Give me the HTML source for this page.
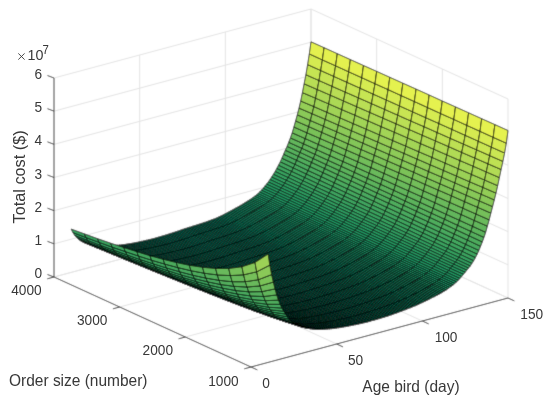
<!DOCTYPE html>
<html><head><meta charset="utf-8"><style>
html,body{margin:0;padding:0;background:#fff;}
svg{display:block;}
text{font-family:"Liberation Sans",sans-serif;fill:#383838;}
</style></head><body>
<svg width="550" height="404" viewBox="0 0 550 404">
<defs><filter id="bl" x="-10" y="-10" width="570" height="424" filterUnits="userSpaceOnUse"><feConvolveMatrix order="3" kernelMatrix="1 6 1 6 36 6 1 6 1" divisor="64" edgeMode="duplicate" preserveAlpha="false"/></filter></defs>
<g filter="url(#bl)">
<rect width="550" height="404" fill="#fff"/>
<g stroke="#e3e3e3" stroke-width="1.0">
<line x1="54.00" y1="277.00" x2="311.00" y2="208.00"/>
<line x1="311.00" y1="208.00" x2="508.00" y2="298.00"/>
<line x1="54.00" y1="243.83" x2="311.00" y2="174.83"/>
<line x1="311.00" y1="174.83" x2="508.00" y2="264.83"/>
<line x1="54.00" y1="210.67" x2="311.00" y2="141.67"/>
<line x1="311.00" y1="141.67" x2="508.00" y2="231.67"/>
<line x1="54.00" y1="177.50" x2="311.00" y2="108.50"/>
<line x1="311.00" y1="108.50" x2="508.00" y2="198.50"/>
<line x1="54.00" y1="144.33" x2="311.00" y2="75.33"/>
<line x1="311.00" y1="75.33" x2="508.00" y2="165.33"/>
<line x1="54.00" y1="111.17" x2="311.00" y2="42.17"/>
<line x1="311.00" y1="42.17" x2="508.00" y2="132.17"/>
<line x1="54.00" y1="78.00" x2="311.00" y2="9.00"/>
<line x1="311.00" y1="9.00" x2="508.00" y2="99.00"/>
<line x1="139.67" y1="254.00" x2="139.67" y2="55.00"/>
<line x1="336.67" y1="344.00" x2="139.67" y2="254.00"/>
<line x1="225.33" y1="231.00" x2="225.33" y2="32.00"/>
<line x1="422.33" y1="321.00" x2="225.33" y2="231.00"/>
<line x1="311.00" y1="208.00" x2="311.00" y2="9.00"/>
<line x1="508.00" y1="298.00" x2="311.00" y2="208.00"/>
<line x1="442.33" y1="268.00" x2="442.33" y2="69.00"/>
<line x1="376.67" y1="238.00" x2="376.67" y2="39.00"/>
<line x1="311.00" y1="208.00" x2="311.00" y2="9.00"/>
<line x1="508.00" y1="298.00" x2="508.00" y2="99.00"/>
<line x1="185.33" y1="337.00" x2="442.33" y2="268.00"/>
<line x1="119.67" y1="307.00" x2="376.67" y2="238.00"/>
<line x1="54.00" y1="277.00" x2="311.00" y2="208.00"/>
</g>
<g stroke="#3c3c3c" stroke-width="1.0" stroke-linecap="butt">
<line x1="54.00" y1="277.00" x2="54.00" y2="78.00"/>
<line x1="54.00" y1="277.00" x2="251.00" y2="367.00"/>
<line x1="251.00" y1="367.00" x2="508.00" y2="298.00"/>
<line x1="54.00" y1="277.00" x2="47.46" y2="274.51"/>
<line x1="54.00" y1="243.83" x2="47.46" y2="241.34"/>
<line x1="54.00" y1="210.67" x2="47.46" y2="208.17"/>
<line x1="54.00" y1="177.50" x2="47.46" y2="175.01"/>
<line x1="54.00" y1="144.33" x2="47.46" y2="141.84"/>
<line x1="54.00" y1="111.17" x2="47.46" y2="108.67"/>
<line x1="54.00" y1="78.00" x2="47.46" y2="75.51"/>
<line x1="251.00" y1="367.00" x2="244.24" y2="368.82"/>
<line x1="185.33" y1="337.00" x2="178.57" y2="338.82"/>
<line x1="119.67" y1="307.00" x2="112.91" y2="308.82"/>
<line x1="54.00" y1="277.00" x2="47.24" y2="278.82"/>
<line x1="251.00" y1="367.00" x2="257.37" y2="369.91"/>
<line x1="336.67" y1="344.00" x2="343.03" y2="346.91"/>
<line x1="422.33" y1="321.00" x2="428.70" y2="323.91"/>
<line x1="508.00" y1="298.00" x2="514.37" y2="300.91"/>
</g>
<g stroke="#000" stroke-width="0.6" stroke-linejoin="round">
<polygon points="293.3,168.0 295.0,164.3 281.9,158.2 280.2,161.9" fill="#46a85e" stroke-width="0.70"/>
<polygon points="295.0,164.3 296.7,160.3 283.6,154.2 281.9,158.2" fill="#4cab5e" stroke-width="0.72"/>
<polygon points="291.6,171.5 293.3,168.0 280.2,161.9 278.4,165.3" fill="#42a65e" stroke-width="0.69"/>
<polygon points="296.7,160.3 298.4,156.3 285.3,150.2 283.6,154.2" fill="#51ae5d" stroke-width="0.72"/>
<polygon points="298.4,156.3 300.1,152.4 287.0,146.4 285.3,150.2" fill="#57b15d" stroke-width="0.71"/>
<polygon points="289.9,174.7 291.6,171.5 278.4,165.3 276.7,168.5" fill="#3da45f" stroke-width="0.68"/>
<polygon points="300.1,152.4 301.9,148.3 288.7,142.3 287.0,146.4" fill="#5cb35c" stroke-width="0.72"/>
<polygon points="301.9,148.3 303.6,143.8 290.4,137.9 288.7,142.3" fill="#62b65c" stroke-width="0.74"/>
<polygon points="288.2,177.6 289.9,174.7 276.7,168.5 275.0,171.5" fill="#39a25f" stroke-width="0.67"/>
<polygon points="286.4,180.4 288.2,177.6 275.0,171.5 273.3,174.3" fill="#35a05f" stroke-width="0.66"/>
<polygon points="303.6,143.8 305.3,138.6 292.2,132.8 290.4,137.9" fill="#69b95b" stroke-width="0.75"/>
<polygon points="284.7,183.1 286.4,180.4 273.3,174.3 271.6,177.0" fill="#329e60" stroke-width="0.66"/>
<polygon points="305.3,138.6 307.0,132.8 293.9,127.0 292.2,132.8" fill="#70bd5a" stroke-width="0.75"/>
<polygon points="283.0,185.6 284.7,183.1 271.6,177.0 269.9,179.5" fill="#2e9c60" stroke-width="0.65"/>
<polygon points="281.3,188.0 283.0,185.6 269.9,179.5 268.2,181.9" fill="#2b9a60" stroke-width="0.65"/>
<polygon points="307.0,132.8 308.7,126.6 295.6,120.9 293.9,127.0" fill="#79c15a" stroke-width="0.75"/>
<polygon points="279.6,190.2 281.3,188.0 268.2,181.9 266.5,184.1" fill="#289961" stroke-width="0.64"/>
<polygon points="308.7,126.6 310.4,120.5 297.3,114.8 295.6,120.9" fill="#82c559" stroke-width="0.75"/>
<polygon points="277.9,192.3 279.6,190.2 266.5,184.1 264.7,186.2" fill="#269761" stroke-width="0.64"/>
<polygon points="276.2,194.3 277.9,192.3 264.7,186.2 263.0,188.3" fill="#239661" stroke-width="0.63"/>
<polygon points="310.4,120.5 312.1,113.7 299.0,108.1 297.3,114.8" fill="#8ac958" stroke-width="0.75"/>
<polygon points="274.4,196.2 276.2,194.3 263.0,188.3 261.3,190.2" fill="#219561" stroke-width="0.63"/>
<polygon points="272.7,198.0 274.4,196.2 261.3,190.2 259.6,192.0" fill="#1f9461" stroke-width="0.63"/>
<polygon points="312.1,113.7 313.9,106.6 300.7,101.0 299.0,108.1" fill="#94ce57" stroke-width="0.75"/>
<polygon points="271.0,199.6 272.7,198.0 259.6,192.0 257.9,193.6" fill="#1d9362" stroke-width="0.62"/>
<polygon points="269.3,201.0 271.0,199.6 257.9,193.6 256.2,195.0" fill="#1b9262"/>
<polygon points="313.9,106.6 315.6,98.2 302.4,92.6 300.7,101.0" fill="#9fd356" stroke-width="0.75"/>
<polygon points="267.6,202.3 269.3,201.0 256.2,195.0 254.5,196.3" fill="#1a9162"/>
<polygon points="315.6,98.2 317.3,89.5 304.1,83.8 302.4,92.6" fill="#abd855" stroke-width="0.75"/>
<polygon points="265.9,203.6 267.6,202.3 254.5,196.3 252.7,197.6" fill="#189062"/>
<polygon points="264.2,204.8 265.9,203.6 252.7,197.6 251.0,198.8" fill="#178f62"/>
<polygon points="262.5,205.9 264.2,204.8 251.0,198.8 249.3,199.9" fill="#168f62"/>
<polygon points="317.3,89.5 319.0,80.5 305.9,74.7 304.1,83.8" fill="#b8de54" stroke-width="0.75"/>
<polygon points="260.7,207.0 262.5,205.9 249.3,199.9 247.6,201.0" fill="#158e62"/>
<polygon points="259.0,208.1 260.7,207.0 247.6,201.0 245.9,202.1" fill="#148d62"/>
<polygon points="319.0,80.5 320.7,70.5 307.6,64.6 305.9,74.7" fill="#c5e453" stroke-width="0.75"/>
<polygon points="257.3,209.1 259.0,208.1 245.9,202.1 244.2,203.1" fill="#138d62"/>
<polygon points="255.6,210.2 257.3,209.1 244.2,203.1 242.5,204.2" fill="#128c63"/>
<polygon points="320.7,70.5 322.4,59.9 309.3,53.9 307.6,64.6" fill="#d4ea51" stroke-width="0.75"/>
<polygon points="253.9,211.2 255.6,210.2 242.5,204.2 240.8,205.2" fill="#118c63"/>
<polygon points="306.4,174.2 308.1,170.5 295.0,164.3 293.3,168.0" fill="#46a85e" stroke-width="0.70"/>
<polygon points="308.1,170.5 309.9,166.5 296.7,160.3 295.0,164.3" fill="#4bab5e" stroke-width="0.72"/>
<polygon points="304.7,177.6 306.4,174.2 293.3,168.0 291.6,171.5" fill="#41a65e" stroke-width="0.69"/>
<polygon points="309.9,166.5 311.6,162.4 298.4,156.3 296.7,160.3" fill="#51ae5d" stroke-width="0.72"/>
<polygon points="311.6,162.4 313.3,158.5 300.1,152.4 298.4,156.3" fill="#57b15d" stroke-width="0.71"/>
<polygon points="303.0,180.8 304.7,177.6 291.6,171.5 289.9,174.7" fill="#3da45f" stroke-width="0.68"/>
<polygon points="313.3,158.5 315.0,154.3 301.9,148.3 300.1,152.4" fill="#5cb35c" stroke-width="0.72"/>
<polygon points="301.3,183.8 303.0,180.8 289.9,174.7 288.2,177.6" fill="#39a25f" stroke-width="0.67"/>
<polygon points="315.0,154.3 316.7,149.7 303.6,143.8 301.9,148.3" fill="#62b65c" stroke-width="0.75"/>
<polygon points="252.2,212.2 253.9,211.2 240.8,205.2 239.0,206.2" fill="#108b63"/>
<polygon points="299.6,186.5 301.3,183.8 288.2,177.6 286.4,180.4" fill="#35a060" stroke-width="0.66"/>
<polygon points="316.7,149.7 318.4,144.4 305.3,138.6 303.6,143.8" fill="#69b95b" stroke-width="0.75"/>
<polygon points="297.9,189.1 299.6,186.5 286.4,180.4 284.7,183.1" fill="#329e60" stroke-width="0.66"/>
<polygon points="318.4,144.4 320.1,138.5 307.0,132.8 305.3,138.6" fill="#70bd5a" stroke-width="0.75"/>
<polygon points="296.1,191.6 297.9,189.1 284.7,183.1 283.0,185.6" fill="#2e9c60" stroke-width="0.65"/>
<polygon points="250.5,213.2 252.2,212.2 239.0,206.2 237.3,207.2" fill="#0f8b63"/>
<polygon points="322.4,59.9 324.1,47.7 311.0,41.8 309.3,53.9" fill="#e4f150" stroke-width="0.75"/>
<polygon points="294.4,194.0 296.1,191.6 283.0,185.6 281.3,188.0" fill="#2b9a60" stroke-width="0.65"/>
<polygon points="320.1,138.5 321.8,132.4 308.7,126.6 307.0,132.8" fill="#79c159" stroke-width="0.75"/>
<polygon points="292.7,196.2 294.4,194.0 281.3,188.0 279.6,190.2" fill="#289961" stroke-width="0.64"/>
<polygon points="248.7,214.1 250.5,213.2 237.3,207.2 235.6,208.1" fill="#0f8a63"/>
<polygon points="291.0,198.3 292.7,196.2 279.6,190.2 277.9,192.3" fill="#269761" stroke-width="0.64"/>
<polygon points="321.8,132.4 323.6,126.2 310.4,120.5 308.7,126.6" fill="#82c559" stroke-width="0.75"/>
<polygon points="247.0,215.0 248.7,214.1 235.6,208.1 233.9,209.1" fill="#0e8a63"/>
<polygon points="289.3,200.3 291.0,198.3 277.9,192.3 276.2,194.3" fill="#239661" stroke-width="0.64"/>
<polygon points="323.6,126.2 325.3,119.4 312.1,113.7 310.4,120.5" fill="#8bc958" stroke-width="0.75"/>
<polygon points="287.6,202.2 289.3,200.3 276.2,194.3 274.4,196.2" fill="#219561" stroke-width="0.63"/>
<polygon points="245.3,216.0 247.0,215.0 233.9,209.1 232.2,210.0" fill="#0d8963"/>
<polygon points="285.9,204.0 287.6,202.2 274.4,196.2 272.7,198.0" fill="#1f9461" stroke-width="0.63"/>
<polygon points="325.3,119.4 327.0,112.3 313.9,106.6 312.1,113.7" fill="#95ce57" stroke-width="0.75"/>
<polygon points="243.6,216.9 245.3,216.0 232.2,210.0 230.5,210.9" fill="#0c8963"/>
<polygon points="284.2,205.6 285.9,204.0 272.7,198.0 271.0,199.6" fill="#1d9362" stroke-width="0.63"/>
<polygon points="282.4,207.0 284.2,205.6 271.0,199.6 269.3,201.0" fill="#1b9262" stroke-width="0.62"/>
<polygon points="241.9,217.8 243.6,216.9 230.5,210.9 228.8,211.8" fill="#0b8863"/>
<polygon points="327.0,112.3 328.7,103.9 315.6,98.2 313.9,106.6" fill="#9fd356" stroke-width="0.75"/>
<polygon points="280.7,208.3 282.4,207.0 269.3,201.0 267.6,202.3" fill="#1a9162" stroke-width="0.62"/>
<polygon points="240.2,218.7 241.9,217.8 228.8,211.8 227.0,212.7" fill="#0b8863"/>
<polygon points="279.0,209.6 280.7,208.3 267.6,202.3 265.9,203.6" fill="#189062"/>
<polygon points="328.7,103.9 330.4,95.2 317.3,89.5 315.6,98.2" fill="#acd855" stroke-width="0.75"/>
<polygon points="238.5,219.6 240.2,218.7 227.0,212.7 225.3,213.6" fill="#0a8763"/>
<polygon points="277.3,210.8 279.0,209.6 265.9,203.6 264.2,204.8" fill="#178f62"/>
<polygon points="236.8,220.4 238.5,219.6 225.3,213.6 223.6,214.5" fill="#098763"/>
<polygon points="275.6,211.9 277.3,210.8 264.2,204.8 262.5,205.9" fill="#168f62"/>
<polygon points="330.4,95.2 332.1,86.3 319.0,80.5 317.3,89.5" fill="#b9de54" stroke-width="0.75"/>
<polygon points="235.0,221.3 236.8,220.4 223.6,214.5 221.9,215.4" fill="#098663"/>
<polygon points="273.9,213.0 275.6,211.9 262.5,205.9 260.7,207.0" fill="#158e62"/>
<polygon points="233.3,222.2 235.0,221.3 221.9,215.4 220.2,216.2" fill="#088663"/>
<polygon points="272.2,214.1 273.9,213.0 260.7,207.0 259.0,208.1" fill="#148d62"/>
<polygon points="332.1,86.3 333.8,76.4 320.7,70.5 319.0,80.5" fill="#c6e453" stroke-width="0.75"/>
<polygon points="231.6,223.0 233.3,222.2 220.2,216.2 218.5,217.0" fill="#078663"/>
<polygon points="270.4,215.1 272.2,214.1 259.0,208.1 257.3,209.1" fill="#138d62"/>
<polygon points="229.9,223.7 231.6,223.0 218.5,217.0 216.8,217.8" fill="#078563"/>
<polygon points="268.7,216.1 270.4,215.1 257.3,209.1 255.6,210.2" fill="#128c63"/>
<polygon points="333.8,76.4 335.6,65.8 322.4,59.9 320.7,70.5" fill="#d4eb51" stroke-width="0.75"/>
<polygon points="228.2,224.4 229.9,223.7 216.8,217.8 215.1,218.5" fill="#068563"/>
<polygon points="267.0,217.2 268.7,216.1 255.6,210.2 253.9,211.2" fill="#118c63"/>
<polygon points="319.6,180.4 321.3,176.6 308.1,170.5 306.4,174.2" fill="#46a85e" stroke-width="0.71"/>
<polygon points="321.3,176.6 323.0,172.6 309.9,166.5 308.1,170.5" fill="#4bab5e" stroke-width="0.72"/>
<polygon points="317.8,183.8 319.6,180.4 306.4,174.2 304.7,177.6" fill="#41a65e" stroke-width="0.69"/>
<polygon points="323.0,172.6 324.7,168.5 311.6,162.4 309.9,166.5" fill="#51ae5d" stroke-width="0.72"/>
<polygon points="324.7,168.5 326.4,164.6 313.3,158.5 311.6,162.4" fill="#57b05d" stroke-width="0.72"/>
<polygon points="316.1,187.0 317.8,183.8 304.7,177.6 303.0,180.8" fill="#3da45f" stroke-width="0.68"/>
<polygon points="326.4,164.6 328.1,160.3 315.0,154.3 313.3,158.5" fill="#5cb35c" stroke-width="0.73"/>
<polygon points="314.4,189.9 316.1,187.0 303.0,180.8 301.3,183.8" fill="#39a15f" stroke-width="0.67"/>
<polygon points="328.1,160.3 329.8,155.6 316.7,149.7 315.0,154.3" fill="#62b65c" stroke-width="0.75"/>
<polygon points="265.3,218.2 267.0,217.2 253.9,211.2 252.2,212.2" fill="#108b63"/>
<polygon points="226.5,225.1 228.2,224.4 215.1,218.5 213.3,219.2" fill="#068564"/>
<polygon points="312.7,192.6 314.4,189.9 301.3,183.8 299.6,186.5" fill="#35a060" stroke-width="0.66"/>
<polygon points="329.8,155.6 331.6,150.2 318.4,144.4 316.7,149.7" fill="#69b95b" stroke-width="0.75"/>
<polygon points="311.0,195.2 312.7,192.6 299.6,186.5 297.9,189.1" fill="#329e60" stroke-width="0.66"/>
<polygon points="309.3,197.7 311.0,195.2 297.9,189.1 296.1,191.6" fill="#2e9c60" stroke-width="0.65"/>
<polygon points="263.6,219.1 265.3,218.2 252.2,212.2 250.5,213.2" fill="#0f8b63"/>
<polygon points="331.6,150.2 333.3,144.2 320.1,138.5 318.4,144.4" fill="#71bd5a" stroke-width="0.75"/>
<polygon points="224.8,225.7 226.5,225.1 213.3,219.2 211.6,219.8" fill="#068464"/>
<polygon points="335.6,65.8 337.3,53.7 324.1,47.7 322.4,59.9" fill="#e4f150" stroke-width="0.75"/>
<polygon points="307.6,200.0 309.3,197.7 296.1,191.6 294.4,194.0" fill="#2b9a60" stroke-width="0.65"/>
<polygon points="333.3,144.2 335.0,138.1 321.8,132.4 320.1,138.5" fill="#79c159" stroke-width="0.75"/>
<polygon points="305.9,202.2 307.6,200.0 294.4,194.0 292.7,196.2" fill="#289961" stroke-width="0.64"/>
<polygon points="261.9,220.1 263.6,219.1 250.5,213.2 248.7,214.1" fill="#0f8a63"/>
<polygon points="223.0,226.4 224.8,225.7 211.6,219.8 209.9,220.4" fill="#058464"/>
<polygon points="304.1,204.3 305.9,202.2 292.7,196.2 291.0,198.3" fill="#269761" stroke-width="0.64"/>
<polygon points="335.0,138.1 336.7,131.8 323.6,126.2 321.8,132.4" fill="#82c559" stroke-width="0.75"/>
<polygon points="260.2,221.0 261.9,220.1 248.7,214.1 247.0,215.0" fill="#0e8a63"/>
<polygon points="302.4,206.3 304.1,204.3 291.0,198.3 289.3,200.3" fill="#239661" stroke-width="0.64"/>
<polygon points="221.3,227.0 223.0,226.4 209.9,220.4 208.2,221.1" fill="#058464"/>
<polygon points="336.7,131.8 338.4,125.1 325.3,119.4 323.6,126.2" fill="#8cca58" stroke-width="0.75"/>
<polygon points="300.7,208.2 302.4,206.3 289.3,200.3 287.6,202.2" fill="#219561" stroke-width="0.64"/>
<polygon points="258.5,221.9 260.2,221.0 247.0,215.0 245.3,216.0" fill="#0d8963"/>
<polygon points="299.0,210.0 300.7,208.2 287.6,202.2 285.9,204.0" fill="#1f9461" stroke-width="0.64"/>
<polygon points="219.6,227.6 221.3,227.0 208.2,221.1 206.5,221.7" fill="#058464"/>
<polygon points="338.4,125.1 340.1,117.9 327.0,112.3 325.3,119.4" fill="#95ce57" stroke-width="0.75"/>
<polygon points="256.7,222.8 258.5,221.9 245.3,216.0 243.6,216.9" fill="#0c8963"/>
<polygon points="297.3,211.5 299.0,210.0 285.9,204.0 284.2,205.6" fill="#1d9362" stroke-width="0.63"/>
<polygon points="217.9,228.2 219.6,227.6 206.5,221.7 204.8,222.3" fill="#058464"/>
<polygon points="295.6,213.0 297.3,211.5 284.2,205.6 282.4,207.0" fill="#1b9262" stroke-width="0.63"/>
<polygon points="255.0,223.7 256.7,222.8 243.6,216.9 241.9,217.8" fill="#0c8863"/>
<polygon points="340.1,117.9 341.8,109.6 328.7,103.9 327.0,112.3" fill="#a0d356" stroke-width="0.75"/>
<polygon points="216.2,228.8 217.9,228.2 204.8,222.3 203.1,222.8" fill="#048464"/>
<polygon points="293.9,214.3 295.6,213.0 282.4,207.0 280.7,208.3" fill="#1a9162" stroke-width="0.63"/>
<polygon points="253.3,224.6 255.0,223.7 241.9,217.8 240.2,218.7" fill="#0b8863"/>
<polygon points="292.1,215.6 293.9,214.3 280.7,208.3 279.0,209.6" fill="#189062" stroke-width="0.63"/>
<polygon points="341.8,109.6 343.5,100.9 330.4,95.2 328.7,103.9" fill="#acd955" stroke-width="0.75"/>
<polygon points="214.5,229.3 216.2,228.8 203.1,222.8 201.3,223.4" fill="#048364"/>
<polygon points="251.6,225.5 253.3,224.6 240.2,218.7 238.5,219.6" fill="#0a8763"/>
<polygon points="290.4,216.8 292.1,215.6 279.0,209.6 277.3,210.8" fill="#178f62" stroke-width="0.63"/>
<polygon points="212.8,229.9 214.5,229.3 201.3,223.4 199.6,224.0" fill="#048364"/>
<polygon points="249.9,226.4 251.6,225.5 238.5,219.6 236.8,220.4" fill="#098763"/>
<polygon points="288.7,217.9 290.4,216.8 277.3,210.8 275.6,211.9" fill="#168f62" stroke-width="0.63"/>
<polygon points="343.5,100.9 345.3,92.1 332.1,86.3 330.4,95.2" fill="#b9de54" stroke-width="0.75"/>
<polygon points="248.2,227.2 249.9,226.4 236.8,220.4 235.0,221.3" fill="#098663"/>
<polygon points="211.1,230.5 212.8,229.9 199.6,224.0 197.9,224.5" fill="#048364"/>
<polygon points="287.0,219.0 288.7,217.9 275.6,211.9 273.9,213.0" fill="#158e62" stroke-width="0.63"/>
<polygon points="246.5,228.1 248.2,227.2 235.0,221.3 233.3,222.2" fill="#088663"/>
<polygon points="209.3,231.0 211.1,230.5 197.9,224.5 196.2,225.1" fill="#048364"/>
<polygon points="285.3,220.1 287.0,219.0 273.9,213.0 272.2,214.1" fill="#148d62" stroke-width="0.63"/>
<polygon points="345.3,92.1 347.0,82.3 333.8,76.4 332.1,86.3" fill="#c6e453" stroke-width="0.75"/>
<polygon points="244.7,228.9 246.5,228.1 233.3,222.2 231.6,223.0" fill="#078663"/>
<polygon points="283.6,221.1 285.3,220.1 272.2,214.1 270.4,215.1" fill="#138d62" stroke-width="0.63"/>
<polygon points="207.6,231.6 209.3,231.0 196.2,225.1 194.5,225.6" fill="#048364"/>
<polygon points="243.0,229.6 244.7,228.9 231.6,223.0 229.9,223.7" fill="#078563"/>
<polygon points="281.9,222.1 283.6,221.1 270.4,215.1 268.7,216.1" fill="#128c63" stroke-width="0.62"/>
<polygon points="205.9,232.1 207.6,231.6 194.5,225.6 192.8,226.1" fill="#038364"/>
<polygon points="347.0,82.3 348.7,71.8 335.6,65.8 333.8,76.4" fill="#d5eb51" stroke-width="0.75"/>
<polygon points="280.2,223.1 281.9,222.1 268.7,216.1 267.0,217.2" fill="#118c63" stroke-width="0.62"/>
<polygon points="241.3,230.3 243.0,229.6 229.9,223.7 228.2,224.4" fill="#078563"/>
<polygon points="332.7,186.5 334.4,182.8 321.3,176.6 319.6,180.4" fill="#46a85e" stroke-width="0.71"/>
<polygon points="334.4,182.8 336.1,178.7 323.0,172.6 321.3,176.6" fill="#4bab5e" stroke-width="0.72"/>
<polygon points="331.0,189.9 332.7,186.5 319.6,180.4 317.8,183.8" fill="#41a65e" stroke-width="0.69"/>
<polygon points="336.1,178.7 337.8,174.7 324.7,168.5 323.0,172.6" fill="#51ae5d" stroke-width="0.72"/>
<polygon points="329.3,193.1 331.0,189.9 317.8,183.8 316.1,187.0" fill="#3ca35f" stroke-width="0.68"/>
<polygon points="204.2,232.6 205.9,232.1 192.8,226.1 191.1,226.7" fill="#038364"/>
<polygon points="337.8,174.7 339.5,170.6 326.4,164.6 324.7,168.5" fill="#56b05d" stroke-width="0.72"/>
<polygon points="339.5,170.6 341.3,166.3 328.1,160.3 326.4,164.6" fill="#5cb35c" stroke-width="0.73"/>
<polygon points="327.6,196.1 329.3,193.1 316.1,187.0 314.4,189.9" fill="#38a15f" stroke-width="0.67"/>
<polygon points="341.3,166.3 343.0,161.5 329.8,155.6 328.1,160.3" fill="#62b65c" stroke-width="0.75"/>
<polygon points="278.4,224.1 280.2,223.1 267.0,217.2 265.3,218.2" fill="#108b63" stroke-width="0.62"/>
<polygon points="325.8,198.7 327.6,196.1 314.4,189.9 312.7,192.6" fill="#359f60" stroke-width="0.66"/>
<polygon points="239.6,231.0 241.3,230.3 228.2,224.4 226.5,225.1" fill="#068564"/>
<polygon points="343.0,161.5 344.7,156.0 331.6,150.2 329.8,155.6" fill="#69ba5b" stroke-width="0.75"/>
<polygon points="324.1,201.3 325.8,198.7 312.7,192.6 311.0,195.2" fill="#319e60" stroke-width="0.65"/>
<polygon points="202.5,233.2 204.2,232.6 191.1,226.7 189.4,227.2" fill="#038364"/>
<polygon points="322.4,203.7 324.1,201.3 311.0,195.2 309.3,197.7" fill="#2e9c60" stroke-width="0.65"/>
<polygon points="276.7,225.1 278.4,224.1 265.3,218.2 263.6,219.1" fill="#0f8b63" stroke-width="0.62"/>
<polygon points="344.7,156.0 346.4,150.0 333.3,144.2 331.6,150.2" fill="#71bd5a" stroke-width="0.75"/>
<polygon points="237.9,231.7 239.6,231.0 226.5,225.1 224.8,225.7" fill="#068564"/>
<polygon points="320.7,206.0 322.4,203.7 309.3,197.7 307.6,200.0" fill="#2b9a60" stroke-width="0.65"/>
<polygon points="348.7,71.8 350.4,59.6 337.3,53.7 335.6,65.8" fill="#e4f150" stroke-width="0.75"/>
<polygon points="200.8,233.7 202.5,233.2 189.4,227.2 187.6,227.7" fill="#038364"/>
<polygon points="319.0,208.2 320.7,206.0 307.6,200.0 305.9,202.2" fill="#289961" stroke-width="0.65"/>
<polygon points="346.4,150.0 348.1,143.8 335.0,138.1 333.3,144.2" fill="#7ac159" stroke-width="0.75"/>
<polygon points="275.0,226.0 276.7,225.1 263.6,219.1 261.9,220.1" fill="#0f8a63" stroke-width="0.62"/>
<polygon points="236.2,232.3 237.9,231.7 224.8,225.7 223.0,226.4" fill="#068464"/>
<polygon points="317.3,210.3 319.0,208.2 305.9,202.2 304.1,204.3" fill="#269761" stroke-width="0.65"/>
<polygon points="348.1,143.8 349.8,137.5 336.7,131.8 335.0,138.1" fill="#83c659" stroke-width="0.75"/>
<polygon points="199.1,234.2 200.8,233.7 187.6,227.7 185.9,228.3" fill="#038264"/>
<polygon points="273.3,227.0 275.0,226.0 261.9,220.1 260.2,221.0" fill="#0e8a63" stroke-width="0.62"/>
<polygon points="315.6,212.3 317.3,210.3 304.1,204.3 302.4,206.3" fill="#239661" stroke-width="0.64"/>
<polygon points="234.5,232.9 236.2,232.3 223.0,226.4 221.3,227.0" fill="#058464"/>
<polygon points="313.8,214.2 315.6,212.3 302.4,206.3 300.7,208.2" fill="#219561" stroke-width="0.64"/>
<polygon points="349.8,137.5 351.5,130.7 338.4,125.1 336.7,131.8" fill="#8cca58" stroke-width="0.75"/>
<polygon points="271.6,227.9 273.3,227.0 260.2,221.0 258.5,221.9" fill="#0d8963" stroke-width="0.62"/>
<polygon points="197.3,234.8 199.1,234.2 185.9,228.3 184.2,228.8" fill="#038264"/>
<polygon points="312.1,216.0 313.8,214.2 300.7,208.2 299.0,210.0" fill="#1f9461" stroke-width="0.64"/>
<polygon points="232.8,233.5 234.5,232.9 221.3,227.0 219.6,227.6" fill="#058464"/>
<polygon points="351.5,130.7 353.3,123.6 340.1,117.9 338.4,125.1" fill="#96cf57" stroke-width="0.75"/>
<polygon points="269.9,228.8 271.6,227.9 258.5,221.9 256.7,222.8" fill="#0c8963" stroke-width="0.62"/>
<polygon points="310.4,217.5 312.1,216.0 299.0,210.0 297.3,211.5" fill="#1d9362" stroke-width="0.64"/>
<polygon points="195.6,235.4 197.3,234.8 184.2,228.8 182.5,229.4" fill="#038264"/>
<polygon points="231.0,234.1 232.8,233.5 219.6,227.6 217.9,228.2" fill="#058464"/>
<polygon points="308.7,219.0 310.4,217.5 297.3,211.5 295.6,213.0" fill="#1b9262" stroke-width="0.64"/>
<polygon points="268.2,229.6 269.9,228.8 256.7,222.8 255.0,223.7" fill="#0c8863" stroke-width="0.62"/>
<polygon points="353.3,123.6 355.0,115.2 341.8,109.6 340.1,117.9" fill="#a0d356" stroke-width="0.75"/>
<polygon points="193.9,235.9 195.6,235.4 182.5,229.4 180.8,230.0" fill="#028264"/>
<polygon points="229.3,234.7 231.0,234.1 217.9,228.2 216.2,228.8" fill="#048464"/>
<polygon points="307.0,220.3 308.7,219.0 295.6,213.0 293.9,214.3" fill="#1a9162" stroke-width="0.64"/>
<polygon points="266.4,230.5 268.2,229.6 255.0,223.7 253.3,224.6" fill="#0b8863" stroke-width="0.62"/>
<polygon points="192.2,236.5 193.9,235.9 180.8,230.0 179.1,230.6" fill="#028264"/>
<polygon points="305.3,221.6 307.0,220.3 293.9,214.3 292.1,215.6" fill="#189062" stroke-width="0.64"/>
<polygon points="227.6,235.3 229.3,234.7 216.2,228.8 214.5,229.3" fill="#048364"/>
<polygon points="355.0,115.2 356.7,106.7 343.5,100.9 341.8,109.6" fill="#add955" stroke-width="0.75"/>
<polygon points="264.7,231.4 266.4,230.5 253.3,224.6 251.6,225.5" fill="#0a8763" stroke-width="0.62"/>
<polygon points="303.6,222.8 305.3,221.6 292.1,215.6 290.4,216.8" fill="#178f62" stroke-width="0.64"/>
<polygon points="190.5,237.1 192.2,236.5 179.1,230.6 177.4,231.2" fill="#028264"/>
<polygon points="225.9,235.9 227.6,235.3 214.5,229.3 212.8,229.9" fill="#048364"/>
<polygon points="263.0,232.3 264.7,231.4 251.6,225.5 249.9,226.4" fill="#098763" stroke-width="0.62"/>
<polygon points="301.9,223.9 303.6,222.8 290.4,216.8 288.7,217.9" fill="#168f62" stroke-width="0.64"/>
<polygon points="188.8,237.7 190.5,237.1 177.4,231.2 175.6,231.8" fill="#028164"/>
<polygon points="356.7,106.7 358.4,97.8 345.3,92.1 343.5,100.9" fill="#b9df54" stroke-width="0.75"/>
<polygon points="261.3,233.2 263.0,232.3 249.9,226.4 248.2,227.2" fill="#098763" stroke-width="0.62"/>
<polygon points="224.2,236.4 225.9,235.9 212.8,229.9 211.1,230.5" fill="#048364"/>
<polygon points="300.1,225.0 301.9,223.9 288.7,217.9 287.0,219.0" fill="#158e62" stroke-width="0.64"/>
<polygon points="187.1,238.3 188.8,237.7 175.6,231.8 173.9,232.3" fill="#018164"/>
<polygon points="259.6,234.0 261.3,233.2 248.2,227.2 246.5,228.1" fill="#088663" stroke-width="0.62"/>
<polygon points="222.5,237.0 224.2,236.4 211.1,230.5 209.3,231.0" fill="#048364"/>
<polygon points="298.4,226.1 300.1,225.0 287.0,219.0 285.3,220.1" fill="#148d62" stroke-width="0.64"/>
<polygon points="358.4,97.8 360.1,88.2 347.0,82.3 345.3,92.1" fill="#c6e453" stroke-width="0.75"/>
<polygon points="185.4,238.8 187.1,238.3 173.9,232.3 172.2,232.9" fill="#018164"/>
<polygon points="257.9,234.8 259.6,234.0 246.5,228.1 244.7,228.9" fill="#088663" stroke-width="0.62"/>
<polygon points="296.7,227.1 298.4,226.1 285.3,220.1 283.6,221.1" fill="#138d62" stroke-width="0.64"/>
<polygon points="220.8,237.5 222.5,237.0 209.3,231.0 207.6,231.6" fill="#048364"/>
<polygon points="183.6,239.4 185.4,238.8 172.2,232.9 170.5,233.4" fill="#018164"/>
<polygon points="256.2,235.5 257.9,234.8 244.7,228.9 243.0,229.6" fill="#078563" stroke-width="0.62"/>
<polygon points="295.0,228.1 296.7,227.1 283.6,221.1 281.9,222.1" fill="#128c63" stroke-width="0.64"/>
<polygon points="219.0,238.1 220.8,237.5 207.6,231.6 205.9,232.1" fill="#038364"/>
<polygon points="360.1,88.2 361.8,77.7 348.7,71.8 347.0,82.3" fill="#d5eb51" stroke-width="0.75"/>
<polygon points="181.9,239.9 183.6,239.4 170.5,233.4 168.8,234.0" fill="#018164"/>
<polygon points="293.3,229.1 295.0,228.1 281.9,222.1 280.2,223.1" fill="#118c63" stroke-width="0.64"/>
<polygon points="254.5,236.3 256.2,235.5 243.0,229.6 241.3,230.3" fill="#078563" stroke-width="0.62"/>
<polygon points="345.8,192.7 347.5,188.9 334.4,182.8 332.7,186.5" fill="#45a85e" stroke-width="0.71"/>
<polygon points="347.5,188.9 349.3,184.9 336.1,178.7 334.4,182.8" fill="#4bab5e" stroke-width="0.72"/>
<polygon points="344.1,196.1 345.8,192.7 332.7,186.5 331.0,189.9" fill="#41a65f" stroke-width="0.69"/>
<polygon points="349.3,184.9 351.0,180.8 337.8,174.7 336.1,178.7" fill="#50ad5d" stroke-width="0.72"/>
<polygon points="342.4,199.3 344.1,196.1 331.0,189.9 329.3,193.1" fill="#3ca35f" stroke-width="0.68"/>
<polygon points="351.0,180.8 352.7,176.7 339.5,170.6 337.8,174.7" fill="#56b05d" stroke-width="0.72"/>
<polygon points="217.3,238.6 219.0,238.1 205.9,232.1 204.2,232.6" fill="#038364"/>
<polygon points="352.7,176.7 354.4,172.3 341.3,166.3 339.5,170.6" fill="#5cb35c" stroke-width="0.73"/>
<polygon points="340.7,202.2 342.4,199.3 329.3,193.1 327.6,196.1" fill="#38a15f" stroke-width="0.67"/>
<polygon points="354.4,172.3 356.1,167.3 343.0,161.5 341.3,166.3" fill="#62b65c" stroke-width="0.75"/>
<polygon points="339.0,204.9 340.7,202.2 327.6,196.1 325.8,198.7" fill="#359f60" stroke-width="0.66"/>
<polygon points="291.6,230.1 293.3,229.1 280.2,223.1 278.4,224.1" fill="#108b63" stroke-width="0.64"/>
<polygon points="180.2,240.4 181.9,239.9 168.8,234.0 167.1,234.5" fill="#018164"/>
<polygon points="252.7,236.9 254.5,236.3 241.3,230.3 239.6,231.0" fill="#068564" stroke-width="0.62"/>
<polygon points="337.3,207.4 339.0,204.9 325.8,198.7 324.1,201.3" fill="#319e60" stroke-width="0.65"/>
<polygon points="356.1,167.3 357.8,161.8 344.7,156.0 343.0,161.5" fill="#69ba5b" stroke-width="0.75"/>
<polygon points="215.6,239.1 217.3,238.6 204.2,232.6 202.5,233.2" fill="#038364"/>
<polygon points="335.5,209.8 337.3,207.4 324.1,201.3 322.4,203.7" fill="#2e9c60" stroke-width="0.65"/>
<polygon points="289.9,231.1 291.6,230.1 278.4,224.1 276.7,225.1" fill="#108b63" stroke-width="0.64"/>
<polygon points="357.8,161.8 359.5,155.7 346.4,150.0 344.7,156.0" fill="#71bd5a" stroke-width="0.75"/>
<polygon points="251.0,237.6 252.7,236.9 239.6,231.0 237.9,231.7" fill="#068564" stroke-width="0.62"/>
<polygon points="178.5,241.0 180.2,240.4 167.1,234.5 165.4,235.1" fill="#018164"/>
<polygon points="333.8,212.1 335.5,209.8 322.4,203.7 320.7,206.0" fill="#2b9a60" stroke-width="0.65"/>
<polygon points="361.8,77.7 363.5,65.5 350.4,59.6 348.7,71.8" fill="#e4f150" stroke-width="0.75"/>
<polygon points="213.9,239.7 215.6,239.1 202.5,233.2 200.8,233.7" fill="#038364"/>
<polygon points="332.1,214.2 333.8,212.1 320.7,206.0 319.0,208.2" fill="#289961" stroke-width="0.65"/>
<polygon points="288.1,232.0 289.9,231.1 276.7,225.1 275.0,226.0" fill="#0f8a63" stroke-width="0.64"/>
<polygon points="359.5,155.7 361.2,149.5 348.1,143.8 346.4,150.0" fill="#7ac259" stroke-width="0.75"/>
<polygon points="249.3,238.2 251.0,237.6 237.9,231.7 236.2,232.3" fill="#068464" stroke-width="0.62"/>
<polygon points="176.8,241.5 178.5,241.0 165.4,235.1 163.7,235.6" fill="#018164"/>
<polygon points="330.4,216.3 332.1,214.2 319.0,208.2 317.3,210.3" fill="#269761" stroke-width="0.65"/>
<polygon points="361.2,149.5 363.0,143.2 349.8,137.5 348.1,143.8" fill="#83c659" stroke-width="0.75"/>
<polygon points="212.2,240.2 213.9,239.7 200.8,233.7 199.1,234.2" fill="#038264"/>
<polygon points="286.4,232.9 288.1,232.0 275.0,226.0 273.3,227.0" fill="#0e8a63" stroke-width="0.64"/>
<polygon points="328.7,218.3 330.4,216.3 317.3,210.3 315.6,212.3" fill="#239661" stroke-width="0.65"/>
<polygon points="247.6,238.8 249.3,238.2 236.2,232.3 234.5,232.9" fill="#058464" stroke-width="0.62"/>
<polygon points="175.1,242.0 176.8,241.5 163.7,235.6 161.9,236.1" fill="#008064"/>
<polygon points="327.0,220.2 328.7,218.3 315.6,212.3 313.8,214.2" fill="#219561" stroke-width="0.65"/>
<polygon points="363.0,143.2 364.7,136.4 351.5,130.7 349.8,137.5" fill="#8dca58" stroke-width="0.75"/>
<polygon points="284.7,233.8 286.4,232.9 273.3,227.0 271.6,227.9" fill="#0d8963" stroke-width="0.64"/>
<polygon points="210.5,240.8 212.2,240.2 199.1,234.2 197.3,234.8" fill="#038264"/>
<polygon points="325.3,222.0 327.0,220.2 313.8,214.2 312.1,216.0" fill="#1f9461" stroke-width="0.65"/>
<polygon points="245.9,239.5 247.6,238.8 234.5,232.9 232.8,233.5" fill="#058464" stroke-width="0.62"/>
<polygon points="173.4,242.5 175.1,242.0 161.9,236.1 160.2,236.6" fill="#008064"/>
<polygon points="283.0,234.7 284.7,233.8 271.6,227.9 269.9,228.8" fill="#0c8963" stroke-width="0.64"/>
<polygon points="364.7,136.4 366.4,129.2 353.3,123.6 351.5,130.7" fill="#96cf57" stroke-width="0.75"/>
<polygon points="323.6,223.5 325.3,222.0 312.1,216.0 310.4,217.5" fill="#1d9362" stroke-width="0.65"/>
<polygon points="208.8,241.3 210.5,240.8 197.3,234.8 195.6,235.4" fill="#038264"/>
<polygon points="244.2,240.1 245.9,239.5 232.8,233.5 231.0,234.1" fill="#058464" stroke-width="0.62"/>
<polygon points="171.6,243.0 173.4,242.5 160.2,236.6 158.5,237.1" fill="#008064"/>
<polygon points="321.8,225.0 323.6,223.5 310.4,217.5 308.7,219.0" fill="#1b9262" stroke-width="0.65"/>
<polygon points="281.3,235.6 283.0,234.7 269.9,228.8 268.2,229.6" fill="#0c8863" stroke-width="0.64"/>
<polygon points="207.1,241.9 208.8,241.3 195.6,235.4 193.9,235.9" fill="#028264"/>
<polygon points="366.4,129.2 368.1,120.9 355.0,115.2 353.3,123.6" fill="#a1d456" stroke-width="0.75"/>
<polygon points="320.1,226.3 321.8,225.0 308.7,219.0 307.0,220.3" fill="#1a9162" stroke-width="0.65"/>
<polygon points="242.5,240.7 244.2,240.1 231.0,234.1 229.3,234.7" fill="#058464" stroke-width="0.62"/>
<polygon points="169.9,243.5 171.6,243.0 158.5,237.1 156.8,237.6" fill="#008064"/>
<polygon points="279.6,236.5 281.3,235.6 268.2,229.6 266.4,230.5" fill="#0b8863" stroke-width="0.64"/>
<polygon points="205.3,242.5 207.1,241.9 193.9,235.9 192.2,236.5" fill="#028264"/>
<polygon points="318.4,227.6 320.1,226.3 307.0,220.3 305.3,221.6" fill="#189062" stroke-width="0.65"/>
<polygon points="240.7,241.2 242.5,240.7 229.3,234.7 227.6,235.3" fill="#048464" stroke-width="0.62"/>
<polygon points="277.9,237.4 279.6,236.5 266.4,230.5 264.7,231.4" fill="#0a8863" stroke-width="0.64"/>
<polygon points="368.1,120.9 369.8,112.4 356.7,106.7 355.0,115.2" fill="#add955" stroke-width="0.75"/>
<polygon points="168.2,244.0 169.9,243.5 156.8,237.6 155.1,238.1" fill="#008064"/>
<polygon points="316.7,228.8 318.4,227.6 305.3,221.6 303.6,222.8" fill="#178f62" stroke-width="0.65"/>
<polygon points="203.6,243.1 205.3,242.5 192.2,236.5 190.5,237.1" fill="#028264"/>
<polygon points="239.0,241.8 240.7,241.2 227.6,235.3 225.9,235.9" fill="#048364" stroke-width="0.62"/>
<polygon points="276.2,238.2 277.9,237.4 264.7,231.4 263.0,232.3" fill="#0a8763" stroke-width="0.64"/>
<polygon points="166.5,244.4 168.2,244.0 155.1,238.1 153.4,238.5" fill="#008064"/>
<polygon points="315.0,229.9 316.7,228.8 303.6,222.8 301.9,223.9" fill="#168f62" stroke-width="0.65"/>
<polygon points="201.9,243.6 203.6,243.1 190.5,237.1 188.8,237.7" fill="#028264"/>
<polygon points="369.8,112.4 371.5,103.6 358.4,97.8 356.7,106.7" fill="#badf54" stroke-width="0.75"/>
<polygon points="274.4,239.1 276.2,238.2 263.0,232.3 261.3,233.2" fill="#098763" stroke-width="0.64"/>
<polygon points="237.3,242.4 239.0,241.8 225.9,235.9 224.2,236.4" fill="#048364" stroke-width="0.62"/>
<polygon points="313.3,231.0 315.0,229.9 301.9,223.9 300.1,225.0" fill="#158e62" stroke-width="0.65"/>
<polygon points="164.8,244.9 166.5,244.4 153.4,238.5 151.7,239.0" fill="#008064"/>
<polygon points="200.2,244.2 201.9,243.6 188.8,237.7 187.1,238.3" fill="#028164"/>
<polygon points="272.7,239.9 274.4,239.1 261.3,233.2 259.6,234.0" fill="#088663" stroke-width="0.64"/>
<polygon points="235.6,242.9 237.3,242.4 224.2,236.4 222.5,237.0" fill="#048364" stroke-width="0.62"/>
<polygon points="311.6,232.0 313.3,231.0 300.1,225.0 298.4,226.1" fill="#148d62" stroke-width="0.65"/>
<polygon points="163.1,245.3 164.8,244.9 151.7,239.0 149.9,239.4" fill="#008064"/>
<polygon points="371.5,103.6 373.2,94.1 360.1,88.2 358.4,97.8" fill="#c7e552" stroke-width="0.75"/>
<polygon points="198.5,244.8 200.2,244.2 187.1,238.3 185.4,238.8" fill="#018164"/>
<polygon points="271.0,240.7 272.7,239.9 259.6,234.0 257.9,234.8" fill="#088663" stroke-width="0.64"/>
<polygon points="309.8,233.1 311.6,232.0 298.4,226.1 296.7,227.1" fill="#138d62" stroke-width="0.65"/>
<polygon points="233.9,243.5 235.6,242.9 222.5,237.0 220.8,237.5" fill="#048364" stroke-width="0.62"/>
<polygon points="161.4,245.7 163.1,245.3 149.9,239.4 148.2,239.8" fill="#008164"/>
<polygon points="196.8,245.3 198.5,244.8 185.4,238.8 183.6,239.4" fill="#018164"/>
<polygon points="269.3,241.5 271.0,240.7 257.9,234.8 256.2,235.5" fill="#078663" stroke-width="0.64"/>
<polygon points="308.1,234.1 309.8,233.1 296.7,227.1 295.0,228.1" fill="#128c63" stroke-width="0.65"/>
<polygon points="232.2,244.0 233.9,243.5 220.8,237.5 219.0,238.1" fill="#048364" stroke-width="0.62"/>
<polygon points="373.2,94.1 375.0,83.7 361.8,77.7 360.1,88.2" fill="#d5eb51" stroke-width="0.75"/>
<polygon points="159.7,246.1 161.4,245.7 148.2,239.8 146.5,240.2" fill="#018164"/>
<polygon points="195.1,245.8 196.8,245.3 183.6,239.4 181.9,239.9" fill="#018164"/>
<polygon points="306.4,235.1 308.1,234.1 295.0,228.1 293.3,229.1" fill="#118c63" stroke-width="0.65"/>
<polygon points="267.6,242.2 269.3,241.5 256.2,235.5 254.5,236.3" fill="#078563" stroke-width="0.64"/>
<polygon points="359.0,198.8 360.7,195.1 347.5,188.9 345.8,192.7" fill="#45a85e" stroke-width="0.71"/>
<polygon points="360.7,195.1 362.4,191.0 349.3,184.9 347.5,188.9" fill="#4aaa5e" stroke-width="0.72"/>
<polygon points="357.2,202.2 359.0,198.8 345.8,192.7 344.1,196.1" fill="#40a55f" stroke-width="0.69"/>
<polygon points="362.4,191.0 364.1,186.9 351.0,180.8 349.3,184.9" fill="#50ad5d" stroke-width="0.72"/>
<polygon points="355.5,205.4 357.2,202.2 344.1,196.1 342.4,199.3" fill="#3ca35f" stroke-width="0.68"/>
<polygon points="364.1,186.9 365.8,182.8 352.7,176.7 351.0,180.8" fill="#56b05d" stroke-width="0.72"/>
<polygon points="230.5,244.5 232.2,244.0 219.0,238.1 217.3,238.6" fill="#038364" stroke-width="0.62"/>
<polygon points="365.8,182.8 367.5,178.3 354.4,172.3 352.7,176.7" fill="#5cb35c" stroke-width="0.74"/>
<polygon points="353.8,208.3 355.5,205.4 342.4,199.3 340.7,202.2" fill="#38a15f" stroke-width="0.67"/>
<polygon points="367.5,178.3 369.2,173.2 356.1,167.3 354.4,172.3" fill="#62b65c" stroke-width="0.75"/>
<polygon points="352.1,211.0 353.8,208.3 340.7,202.2 339.0,204.9" fill="#349f60" stroke-width="0.66"/>
<polygon points="304.7,236.1 306.4,235.1 293.3,229.1 291.6,230.1" fill="#108b63" stroke-width="0.65"/>
<polygon points="157.9,246.5 159.7,246.1 146.5,240.2 144.8,240.6" fill="#018164"/>
<polygon points="193.3,246.4 195.1,245.8 181.9,239.9 180.2,240.4" fill="#018164"/>
<polygon points="265.9,242.8 267.6,242.2 254.5,236.3 252.7,236.9" fill="#068563" stroke-width="0.64"/>
<polygon points="350.4,213.4 352.1,211.0 339.0,204.9 337.3,207.4" fill="#319e60" stroke-width="0.65"/>
<polygon points="369.2,173.2 371.0,167.6 357.8,161.8 356.1,167.3" fill="#69ba5b" stroke-width="0.75"/>
<polygon points="228.8,245.1 230.5,244.5 217.3,238.6 215.6,239.1" fill="#038364" stroke-width="0.62"/>
<polygon points="348.7,215.8 350.4,213.4 337.3,207.4 335.5,209.8" fill="#2e9c60" stroke-width="0.65"/>
<polygon points="303.0,237.0 304.7,236.1 291.6,230.1 289.9,231.1" fill="#108b63" stroke-width="0.65"/>
<polygon points="156.2,246.8 157.9,246.5 144.8,240.6 143.1,241.0" fill="#018164"/>
<polygon points="371.0,167.6 372.7,161.4 359.5,155.7 357.8,161.8" fill="#72be5a" stroke-width="0.75"/>
<polygon points="264.2,243.5 265.9,242.8 252.7,236.9 251.0,237.6" fill="#068564" stroke-width="0.64"/>
<polygon points="191.6,246.9 193.3,246.4 180.2,240.4 178.5,241.0" fill="#018164"/>
<polygon points="347.0,218.1 348.7,215.8 335.5,209.8 333.8,212.1" fill="#2b9a60" stroke-width="0.65"/>
<polygon points="375.0,83.7 376.7,71.4 363.5,65.5 361.8,77.7" fill="#e4f150" stroke-width="0.75"/>
<polygon points="227.0,245.6 228.8,245.1 215.6,239.1 213.9,239.7" fill="#038364" stroke-width="0.62"/>
<polygon points="345.3,220.3 347.0,218.1 333.8,212.1 332.1,214.2" fill="#289961" stroke-width="0.65"/>
<polygon points="301.3,238.0 303.0,237.0 289.9,231.1 288.1,232.0" fill="#0f8a63" stroke-width="0.65"/>
<polygon points="372.7,161.4 374.4,155.2 361.2,149.5 359.5,155.7" fill="#7bc259" stroke-width="0.75"/>
<polygon points="262.4,244.1 264.2,243.5 251.0,237.6 249.3,238.2" fill="#068564" stroke-width="0.64"/>
<polygon points="154.5,247.2 156.2,246.8 143.1,241.0 141.4,241.3" fill="#018164"/>
<polygon points="189.9,247.4 191.6,246.9 178.5,241.0 176.8,241.5" fill="#018164"/>
<polygon points="343.5,222.3 345.3,220.3 332.1,214.2 330.4,216.3" fill="#269761" stroke-width="0.65"/>
<polygon points="225.3,246.2 227.0,245.6 213.9,239.7 212.2,240.2" fill="#038364" stroke-width="0.62"/>
<polygon points="374.4,155.2 376.1,148.8 363.0,143.2 361.2,149.5" fill="#84c659" stroke-width="0.75"/>
<polygon points="299.6,238.9 301.3,238.0 288.1,232.0 286.4,232.9" fill="#0e8a63" stroke-width="0.65"/>
<polygon points="341.8,224.3 343.5,222.3 330.4,216.3 328.7,218.3" fill="#239661" stroke-width="0.65"/>
<polygon points="260.7,244.8 262.4,244.1 249.3,238.2 247.6,238.8" fill="#058464" stroke-width="0.64"/>
<polygon points="188.2,247.9 189.9,247.4 176.8,241.5 175.1,242.0" fill="#018164"/>
<polygon points="152.8,247.6 154.5,247.2 141.4,241.3 139.7,241.7" fill="#018164"/>
<polygon points="340.1,226.2 341.8,224.3 328.7,218.3 327.0,220.2" fill="#219561" stroke-width="0.65"/>
<polygon points="376.1,148.8 377.8,142.1 364.7,136.4 363.0,143.2" fill="#8dca58" stroke-width="0.75"/>
<polygon points="297.9,239.8 299.6,238.9 286.4,232.9 284.7,233.8" fill="#0d8963" stroke-width="0.65"/>
<polygon points="223.6,246.7 225.3,246.2 212.2,240.2 210.5,240.8" fill="#038264" stroke-width="0.62"/>
<polygon points="338.4,228.0 340.1,226.2 327.0,220.2 325.3,222.0" fill="#1f9461" stroke-width="0.65"/>
<polygon points="259.0,245.4 260.7,244.8 247.6,238.8 245.9,239.5" fill="#058464" stroke-width="0.64"/>
<polygon points="186.5,248.4 188.2,247.9 175.1,242.0 173.4,242.5" fill="#018164"/>
<polygon points="151.1,248.0 152.8,247.6 139.7,241.7 138.0,242.1" fill="#018164"/>
<polygon points="296.1,240.7 297.9,239.8 284.7,233.8 283.0,234.7" fill="#0d8963" stroke-width="0.65"/>
<polygon points="377.8,142.1 379.5,134.9 366.4,129.2 364.7,136.4" fill="#97cf57" stroke-width="0.75"/>
<polygon points="336.7,229.5 338.4,228.0 325.3,222.0 323.6,223.5" fill="#1d9362" stroke-width="0.65"/>
<polygon points="221.9,247.3 223.6,246.7 210.5,240.8 208.8,241.3" fill="#038264" stroke-width="0.62"/>
<polygon points="257.3,246.0 259.0,245.4 245.9,239.5 244.2,240.1" fill="#058464" stroke-width="0.64"/>
<polygon points="184.8,248.9 186.5,248.4 173.4,242.5 171.6,243.0" fill="#008164"/>
<polygon points="335.0,231.0 336.7,229.5 323.6,223.5 321.8,225.0" fill="#1b9262" stroke-width="0.65"/>
<polygon points="149.4,248.3 151.1,248.0 138.0,242.1 136.2,242.4" fill="#028164"/>
<polygon points="294.4,241.5 296.1,240.7 283.0,234.7 281.3,235.6" fill="#0c8863" stroke-width="0.65"/>
<polygon points="220.2,247.8 221.9,247.3 208.8,241.3 207.1,241.9" fill="#028264" stroke-width="0.62"/>
<polygon points="379.5,134.9 381.2,126.6 368.1,120.9 366.4,129.2" fill="#a2d456" stroke-width="0.75"/>
<polygon points="333.3,232.3 335.0,231.0 321.8,225.0 320.1,226.3" fill="#1a9162" stroke-width="0.65"/>
<polygon points="255.6,246.6 257.3,246.0 244.2,240.1 242.5,240.7" fill="#058464" stroke-width="0.64"/>
<polygon points="183.1,249.4 184.8,248.9 171.6,243.0 169.9,243.5" fill="#008064"/>
<polygon points="292.7,242.4 294.4,241.5 281.3,235.6 279.6,236.5" fill="#0b8863" stroke-width="0.65"/>
<polygon points="147.7,248.6 149.4,248.3 136.2,242.4 134.5,242.8" fill="#028264"/>
<polygon points="218.5,248.4 220.2,247.8 207.1,241.9 205.3,242.5" fill="#028264" stroke-width="0.62"/>
<polygon points="331.5,233.6 333.3,232.3 320.1,226.3 318.4,227.6" fill="#189062" stroke-width="0.65"/>
<polygon points="253.9,247.2 255.6,246.6 242.5,240.7 240.7,241.2" fill="#048464" stroke-width="0.64"/>
<polygon points="291.0,243.3 292.7,242.4 279.6,236.5 277.9,237.4" fill="#0a8863" stroke-width="0.65"/>
<polygon points="381.2,126.6 382.9,118.1 369.8,112.4 368.1,120.9" fill="#aed955" stroke-width="0.75"/>
<polygon points="181.4,249.9 183.1,249.4 169.9,243.5 168.2,244.0" fill="#008064"/>
<polygon points="145.9,248.9 147.7,248.6 134.5,242.8 132.8,243.1" fill="#028264"/>
<polygon points="329.8,234.8 331.5,233.6 318.4,227.6 316.7,228.8" fill="#178f62" stroke-width="0.65"/>
<polygon points="216.8,249.0 218.5,248.4 205.3,242.5 203.6,243.1" fill="#028264" stroke-width="0.62"/>
<polygon points="252.2,247.8 253.9,247.2 240.7,241.2 239.0,241.8" fill="#048364" stroke-width="0.64"/>
<polygon points="289.3,244.2 291.0,243.3 277.9,237.4 276.2,238.2" fill="#0a8763" stroke-width="0.65"/>
<polygon points="179.6,250.3 181.4,249.9 168.2,244.0 166.5,244.4" fill="#008164"/>
<polygon points="328.1,235.9 329.8,234.8 316.7,228.8 315.0,229.9" fill="#168f62" stroke-width="0.65"/>
<polygon points="144.2,249.2 145.9,248.9 132.8,243.1 131.1,243.4" fill="#028264"/>
<polygon points="215.0,249.6 216.8,249.0 203.6,243.1 201.9,243.6" fill="#028264" stroke-width="0.62"/>
<polygon points="382.9,118.1 384.7,109.4 371.5,103.6 369.8,112.4" fill="#badf54" stroke-width="0.75"/>
<polygon points="287.6,245.0 289.3,244.2 276.2,238.2 274.4,239.1" fill="#098763" stroke-width="0.65"/>
<polygon points="250.5,248.3 252.2,247.8 239.0,241.8 237.3,242.4" fill="#048364" stroke-width="0.64"/>
<polygon points="326.4,237.0 328.1,235.9 315.0,229.9 313.3,231.0" fill="#158e62" stroke-width="0.65"/>
<polygon points="177.9,250.7 179.6,250.3 166.5,244.4 164.8,244.9" fill="#018164"/>
<polygon points="213.3,250.1 215.0,249.6 201.9,243.6 200.2,244.2" fill="#028164" stroke-width="0.62"/>
<polygon points="142.5,249.5 144.2,249.2 131.1,243.4 129.4,243.7" fill="#038264"/>
<polygon points="285.9,245.8 287.6,245.0 274.4,239.1 272.7,239.9" fill="#088663" stroke-width="0.65"/>
<polygon points="248.7,248.9 250.5,248.3 237.3,242.4 235.6,242.9" fill="#048364" stroke-width="0.64"/>
<polygon points="324.7,238.0 326.4,237.0 313.3,231.0 311.6,232.0" fill="#148d62" stroke-width="0.65"/>
<polygon points="176.2,251.1 177.9,250.7 164.8,244.9 163.1,245.3" fill="#018164"/>
<polygon points="384.7,109.4 386.4,100.0 373.2,94.1 371.5,103.6" fill="#c7e552" stroke-width="0.75"/>
<polygon points="211.6,250.7 213.3,250.1 200.2,244.2 198.5,244.8" fill="#018164" stroke-width="0.62"/>
<polygon points="140.8,249.8 142.5,249.5 129.4,243.7 127.7,243.9" fill="#038364"/>
<polygon points="284.1,246.6 285.9,245.8 272.7,239.9 271.0,240.7" fill="#088663" stroke-width="0.65"/>
<polygon points="323.0,239.1 324.7,238.0 311.6,232.0 309.8,233.1" fill="#138d62" stroke-width="0.66"/>
<polygon points="247.0,249.4 248.7,248.9 235.6,242.9 233.9,243.5" fill="#048364" stroke-width="0.64"/>
<polygon points="174.5,251.6 176.2,251.1 163.1,245.3 161.4,245.7" fill="#018164"/>
<polygon points="209.9,251.2 211.6,250.7 198.5,244.8 196.8,245.3" fill="#018164" stroke-width="0.62"/>
<polygon points="282.4,247.4 284.1,246.6 271.0,240.7 269.3,241.5" fill="#078663" stroke-width="0.65"/>
<polygon points="321.3,240.1 323.0,239.1 309.8,233.1 308.1,234.1" fill="#128c63" stroke-width="0.66"/>
<polygon points="139.1,250.0 140.8,249.8 127.7,243.9 126.0,244.2" fill="#038364"/>
<polygon points="245.3,250.0 247.0,249.4 233.9,243.5 232.2,244.0" fill="#048364" stroke-width="0.64"/>
<polygon points="386.4,100.0 388.1,89.6 375.0,83.7 373.2,94.1" fill="#d5eb51" stroke-width="0.75"/>
<polygon points="172.8,251.9 174.5,251.6 161.4,245.7 159.7,246.1" fill="#018164"/>
<polygon points="208.2,251.8 209.9,251.2 196.8,245.3 195.1,245.8" fill="#018164" stroke-width="0.62"/>
<polygon points="319.6,241.1 321.3,240.1 308.1,234.1 306.4,235.1" fill="#118c63" stroke-width="0.66"/>
<polygon points="372.1,205.0 373.8,201.2 360.7,195.1 359.0,198.8" fill="#45a85e" stroke-width="0.71"/>
<polygon points="280.7,248.1 282.4,247.4 269.3,241.5 267.6,242.2" fill="#078563" stroke-width="0.65"/>
<polygon points="373.8,201.2 375.5,197.2 362.4,191.0 360.7,195.1" fill="#4aaa5e" stroke-width="0.72"/>
<polygon points="370.4,208.4 372.1,205.0 359.0,198.8 357.2,202.2" fill="#40a55f" stroke-width="0.69"/>
<polygon points="375.5,197.2 377.2,193.0 364.1,186.9 362.4,191.0" fill="#50ad5d" stroke-width="0.72"/>
<polygon points="368.7,211.6 370.4,208.4 357.2,202.2 355.5,205.4" fill="#3ca35f" stroke-width="0.68"/>
<polygon points="377.2,193.0 378.9,188.9 365.8,182.8 364.1,186.9" fill="#56b05d" stroke-width="0.72"/>
<polygon points="137.4,250.3 139.1,250.0 126.0,244.2 124.2,244.5" fill="#048364"/>
<polygon points="243.6,250.5 245.3,250.0 232.2,244.0 230.5,244.5" fill="#038364" stroke-width="0.64"/>
<polygon points="367.0,214.5 368.7,211.6 355.5,205.4 353.8,208.3" fill="#38a15f" stroke-width="0.67"/>
<polygon points="378.9,188.9 380.7,184.3 367.5,178.3 365.8,182.8" fill="#5cb35c" stroke-width="0.74"/>
<polygon points="365.2,217.1 367.0,214.5 353.8,208.3 352.1,211.0" fill="#349f60" stroke-width="0.66"/>
<polygon points="380.7,184.3 382.4,179.1 369.2,173.2 367.5,178.3" fill="#62b65c" stroke-width="0.75"/>
<polygon points="317.8,242.0 319.6,241.1 306.4,235.1 304.7,236.1" fill="#108b63" stroke-width="0.66"/>
<polygon points="171.1,252.3 172.8,251.9 159.7,246.1 157.9,246.5" fill="#018164"/>
<polygon points="206.5,252.3 208.2,251.8 195.1,245.8 193.3,246.4" fill="#018164" stroke-width="0.62"/>
<polygon points="279.0,248.8 280.7,248.1 267.6,242.2 265.9,242.8" fill="#078563" stroke-width="0.65"/>
<polygon points="363.5,219.5 365.2,217.1 352.1,211.0 350.4,213.4" fill="#319d60" stroke-width="0.65"/>
<polygon points="382.4,179.1 384.1,173.4 371.0,167.6 369.2,173.2" fill="#6aba5b" stroke-width="0.75"/>
<polygon points="135.7,250.5 137.4,250.3 124.2,244.5 122.5,244.7" fill="#048364"/>
<polygon points="241.9,251.1 243.6,250.5 230.5,244.5 228.8,245.1" fill="#038364" stroke-width="0.64"/>
<polygon points="361.8,221.9 363.5,219.5 350.4,213.4 348.7,215.8" fill="#2e9c60" stroke-width="0.65"/>
<polygon points="316.1,243.0 317.8,242.0 304.7,236.1 303.0,237.0" fill="#108b63" stroke-width="0.66"/>
<polygon points="169.4,252.7 171.1,252.3 157.9,246.5 156.2,246.8" fill="#018164"/>
<polygon points="277.3,249.4 279.0,248.8 265.9,242.8 264.2,243.5" fill="#068564" stroke-width="0.65"/>
<polygon points="204.8,252.8 206.5,252.3 193.3,246.4 191.6,246.9" fill="#018164" stroke-width="0.62"/>
<polygon points="384.1,173.4 385.8,167.2 372.7,161.4 371.0,167.6" fill="#72be5a" stroke-width="0.75"/>
<polygon points="360.1,224.1 361.8,221.9 348.7,215.8 347.0,218.1" fill="#2b9a60" stroke-width="0.65"/>
<polygon points="388.1,89.6 389.8,77.3 376.7,71.4 375.0,83.7" fill="#e4f250" stroke-width="0.75"/>
<polygon points="240.2,251.6 241.9,251.1 228.8,245.1 227.0,245.6" fill="#038364" stroke-width="0.64"/>
<polygon points="358.4,226.3 360.1,224.1 347.0,218.1 345.3,220.3" fill="#289961" stroke-width="0.65"/>
<polygon points="134.0,250.7 135.7,250.5 122.5,244.7 120.8,244.9" fill="#058464"/>
<polygon points="314.4,243.9 316.1,243.0 303.0,237.0 301.3,238.0" fill="#0f8a63" stroke-width="0.66"/>
<polygon points="385.8,167.2 387.5,160.9 374.4,155.2 372.7,161.4" fill="#7bc259" stroke-width="0.75"/>
<polygon points="275.6,250.1 277.3,249.4 264.2,243.5 262.4,244.1" fill="#068564" stroke-width="0.65"/>
<polygon points="356.7,228.4 358.4,226.3 345.3,220.3 343.5,222.3" fill="#269761" stroke-width="0.65"/>
<polygon points="203.1,253.3 204.8,252.8 191.6,246.9 189.9,247.4" fill="#018164" stroke-width="0.62"/>
<polygon points="167.6,253.1 169.4,252.7 156.2,246.8 154.5,247.2" fill="#018164"/>
<polygon points="238.5,252.1 240.2,251.6 227.0,245.6 225.3,246.2" fill="#038364" stroke-width="0.64"/>
<polygon points="312.7,244.8 314.4,243.9 301.3,238.0 299.6,238.9" fill="#0e8a63" stroke-width="0.66"/>
<polygon points="355.0,230.4 356.7,228.4 343.5,222.3 341.8,224.3" fill="#239661" stroke-width="0.66"/>
<polygon points="387.5,160.9 389.2,154.5 376.1,148.8 374.4,155.2" fill="#84c658" stroke-width="0.75"/>
<polygon points="132.2,250.9 134.0,250.7 120.8,244.9 119.1,245.0" fill="#058464"/>
<polygon points="273.9,250.7 275.6,250.1 262.4,244.1 260.7,244.8" fill="#068464" stroke-width="0.65"/>
<polygon points="201.3,253.8 203.1,253.3 189.9,247.4 188.2,247.9" fill="#018164" stroke-width="0.62"/>
<polygon points="165.9,253.5 167.6,253.1 154.5,247.2 152.8,247.6" fill="#018164"/>
<polygon points="353.2,232.2 355.0,230.4 341.8,224.3 340.1,226.2" fill="#219561" stroke-width="0.66"/>
<polygon points="311.0,245.7 312.7,244.8 299.6,238.9 297.9,239.8" fill="#0d8963" stroke-width="0.66"/>
<polygon points="236.7,252.7 238.5,252.1 225.3,246.2 223.6,246.7" fill="#038264" stroke-width="0.64"/>
<polygon points="389.2,154.5 390.9,147.8 377.8,142.1 376.1,148.8" fill="#8ecb58" stroke-width="0.75"/>
<polygon points="351.5,234.0 353.2,232.2 340.1,226.2 338.4,228.0" fill="#1f9461" stroke-width="0.66"/>
<polygon points="130.5,251.0 132.2,250.9 119.1,245.0 117.4,245.2" fill="#068464"/>
<polygon points="272.2,251.3 273.9,250.7 260.7,244.8 259.0,245.4" fill="#058464" stroke-width="0.65"/>
<polygon points="199.6,254.3 201.3,253.8 188.2,247.9 186.5,248.4" fill="#018164" stroke-width="0.62"/>
<polygon points="164.2,253.8 165.9,253.5 152.8,247.6 151.1,248.0" fill="#028164"/>
<polygon points="309.3,246.6 311.0,245.7 297.9,239.8 296.1,240.7" fill="#0d8963" stroke-width="0.66"/>
<polygon points="349.8,235.5 351.5,234.0 338.4,228.0 336.7,229.5" fill="#1d9362" stroke-width="0.66"/>
<polygon points="235.0,253.2 236.7,252.7 223.6,246.7 221.9,247.3" fill="#038264" stroke-width="0.64"/>
<polygon points="390.9,147.8 392.7,140.5 379.5,134.9 377.8,142.1" fill="#98cf57" stroke-width="0.75"/>
<polygon points="270.4,251.9 272.2,251.3 259.0,245.4 257.3,246.0" fill="#058464" stroke-width="0.65"/>
<polygon points="128.8,251.2 130.5,251.0 117.4,245.2 115.7,245.3" fill="#068564"/>
<polygon points="197.9,254.8 199.6,254.3 186.5,248.4 184.8,248.9" fill="#018164" stroke-width="0.62"/>
<polygon points="348.1,236.9 349.8,235.5 336.7,229.5 335.0,231.0" fill="#1b9262" stroke-width="0.66"/>
<polygon points="307.6,247.5 309.3,246.6 296.1,240.7 294.4,241.5" fill="#0c8963" stroke-width="0.66"/>
<polygon points="162.5,254.2 164.2,253.8 151.1,248.0 149.4,248.3" fill="#028264"/>
<polygon points="233.3,253.8 235.0,253.2 221.9,247.3 220.2,247.8" fill="#038264" stroke-width="0.64"/>
<polygon points="392.7,140.5 394.4,132.2 381.2,126.6 379.5,134.9" fill="#a2d456" stroke-width="0.75"/>
<polygon points="346.4,238.3 348.1,236.9 335.0,231.0 333.3,232.3" fill="#1a9162" stroke-width="0.66"/>
<polygon points="268.7,252.5 270.4,251.9 257.3,246.0 255.6,246.6" fill="#058464" stroke-width="0.65"/>
<polygon points="127.1,251.3 128.8,251.2 115.7,245.3 114.0,245.5" fill="#078563"/>
<polygon points="305.8,248.4 307.6,247.5 294.4,241.5 292.7,242.4" fill="#0b8863" stroke-width="0.66"/>
<polygon points="196.2,255.3 197.9,254.8 184.8,248.9 183.1,249.4" fill="#018164" stroke-width="0.62"/>
<polygon points="160.8,254.5 162.5,254.2 149.4,248.3 147.7,248.6" fill="#028264"/>
<polygon points="231.6,254.4 233.3,253.8 220.2,247.8 218.5,248.4" fill="#028264" stroke-width="0.64"/>
<polygon points="344.7,239.6 346.4,238.3 333.3,232.3 331.5,233.6" fill="#189062" stroke-width="0.66"/>
<polygon points="267.0,253.1 268.7,252.5 255.6,246.6 253.9,247.2" fill="#058464" stroke-width="0.65"/>
<polygon points="304.1,249.2 305.8,248.4 292.7,242.4 291.0,243.3" fill="#0b8863" stroke-width="0.66"/>
<polygon points="194.5,255.7 196.2,255.3 183.1,249.4 181.4,249.9" fill="#018164" stroke-width="0.62"/>
<polygon points="125.4,251.4 127.1,251.3 114.0,245.5 112.3,245.6" fill="#078663"/>
<polygon points="394.4,132.2 396.1,123.8 382.9,118.1 381.2,126.6" fill="#aeda55" stroke-width="0.75"/>
<polygon points="159.1,254.8 160.8,254.5 147.7,248.6 145.9,248.9" fill="#028264"/>
<polygon points="343.0,240.8 344.7,239.6 331.5,233.6 329.8,234.8" fill="#178f62" stroke-width="0.66"/>
<polygon points="229.9,254.9 231.6,254.4 218.5,248.4 216.8,249.0" fill="#028264" stroke-width="0.64"/>
<polygon points="265.3,253.7 267.0,253.1 253.9,247.2 252.2,247.8" fill="#048464" stroke-width="0.65"/>
<polygon points="302.4,250.1 304.1,249.2 291.0,243.3 289.3,244.2" fill="#0a8763" stroke-width="0.66"/>
<polygon points="192.8,256.2 194.5,255.7 181.4,249.9 179.6,250.3" fill="#018164" stroke-width="0.62"/>
<polygon points="341.3,241.9 343.0,240.8 329.8,234.8 328.1,235.9" fill="#168f62" stroke-width="0.66"/>
<polygon points="123.7,251.5 125.4,251.4 112.3,245.6 110.5,245.7" fill="#088663"/>
<polygon points="228.2,255.5 229.9,254.9 216.8,249.0 215.0,249.6" fill="#028264" stroke-width="0.64"/>
<polygon points="157.4,255.1 159.1,254.8 145.9,248.9 144.2,249.2" fill="#038264"/>
<polygon points="396.1,123.8 397.8,115.2 384.7,109.4 382.9,118.1" fill="#bbdf54" stroke-width="0.75"/>
<polygon points="300.7,250.9 302.4,250.1 289.3,244.2 287.6,245.0" fill="#098763" stroke-width="0.66"/>
<polygon points="263.6,254.3 265.3,253.7 252.2,247.8 250.5,248.3" fill="#048364" stroke-width="0.65"/>
<polygon points="339.5,243.0 341.3,241.9 328.1,235.9 326.4,237.0" fill="#158e62" stroke-width="0.66"/>
<polygon points="191.1,256.6 192.8,256.2 179.6,250.3 177.9,250.7" fill="#018164" stroke-width="0.62"/>
<polygon points="226.5,256.1 228.2,255.5 215.0,249.6 213.3,250.1" fill="#028264" stroke-width="0.64"/>
<polygon points="122.0,251.6 123.7,251.5 110.5,245.7 108.8,245.8" fill="#098663"/>
<polygon points="155.7,255.3 157.4,255.1 144.2,249.2 142.5,249.5" fill="#038364"/>
<polygon points="299.0,251.8 300.7,250.9 287.6,245.0 285.9,245.8" fill="#098663" stroke-width="0.66"/>
<polygon points="261.9,254.8 263.6,254.3 250.5,248.3 248.7,248.9" fill="#048364" stroke-width="0.65"/>
<polygon points="337.8,244.0 339.5,243.0 326.4,237.0 324.7,238.0" fill="#148d62" stroke-width="0.66"/>
<polygon points="189.3,257.0 191.1,256.6 177.9,250.7 176.2,251.1" fill="#018164" stroke-width="0.62"/>
<polygon points="397.8,115.2 399.5,105.9 386.4,100.0 384.7,109.4" fill="#c8e552" stroke-width="0.75"/>
<polygon points="224.8,256.6 226.5,256.1 213.3,250.1 211.6,250.7" fill="#028164" stroke-width="0.64"/>
<polygon points="120.2,251.7 122.0,251.6 108.8,245.8 107.1,245.9" fill="#098763"/>
<polygon points="153.9,255.6 155.7,255.3 142.5,249.5 140.8,249.8" fill="#038364"/>
<polygon points="297.3,252.5 299.0,251.8 285.9,245.8 284.1,246.6" fill="#088663" stroke-width="0.66"/>
<polygon points="336.1,245.0 337.8,244.0 324.7,238.0 323.0,239.1" fill="#138d62" stroke-width="0.67"/>
<polygon points="260.2,255.4 261.9,254.8 248.7,248.9 247.0,249.4" fill="#048364" stroke-width="0.65"/>
<polygon points="187.6,257.4 189.3,257.0 176.2,251.1 174.5,251.6" fill="#018164" stroke-width="0.62"/>
<polygon points="223.0,257.2 224.8,256.6 211.6,250.7 209.9,251.2" fill="#018164" stroke-width="0.64"/>
<polygon points="334.4,246.1 336.1,245.0 323.0,239.1 321.3,240.1" fill="#128c63" stroke-width="0.67"/>
<polygon points="295.6,253.3 297.3,252.5 284.1,246.6 282.4,247.4" fill="#088663" stroke-width="0.66"/>
<polygon points="152.2,255.9 153.9,255.6 140.8,249.8 139.1,250.0" fill="#048364"/>
<polygon points="118.5,251.7 120.2,251.7 107.1,245.9 105.4,246.0" fill="#0a8763"/>
<polygon points="258.4,255.9 260.2,255.4 247.0,249.4 245.3,250.0" fill="#048364" stroke-width="0.65"/>
<polygon points="399.5,105.9 401.2,95.6 388.1,89.6 386.4,100.0" fill="#d5eb51" stroke-width="0.75"/>
<polygon points="185.9,257.8 187.6,257.4 174.5,251.6 172.8,251.9" fill="#018164" stroke-width="0.62"/>
<polygon points="385.2,211.1 386.9,207.4 373.8,201.2 372.1,205.0" fill="#45a85e" stroke-width="0.71"/>
<polygon points="332.7,247.0 334.4,246.1 321.3,240.1 319.6,241.1" fill="#118c63" stroke-width="0.67"/>
<polygon points="221.3,257.7 223.0,257.2 209.9,251.2 208.2,251.8" fill="#018164" stroke-width="0.64"/>
<polygon points="386.9,207.4 388.7,203.3 375.5,197.2 373.8,201.2" fill="#4aaa5e" stroke-width="0.72"/>
<polygon points="383.5,214.6 385.2,211.1 372.1,205.0 370.4,208.4" fill="#40a55f" stroke-width="0.69"/>
<polygon points="293.9,254.0 295.6,253.3 282.4,247.4 280.7,248.1" fill="#078563" stroke-width="0.66"/>
<polygon points="388.7,203.3 390.4,199.1 377.2,193.0 375.5,197.2" fill="#50ad5d" stroke-width="0.73"/>
<polygon points="381.8,217.7 383.5,214.6 370.4,208.4 368.7,211.6" fill="#3ba35f" stroke-width="0.68"/>
<polygon points="390.4,199.1 392.1,194.9 378.9,188.9 377.2,193.0" fill="#56b05d" stroke-width="0.72"/>
<polygon points="150.5,256.1 152.2,255.9 139.1,250.0 137.4,250.3" fill="#048364"/>
<polygon points="380.1,220.6 381.8,217.7 368.7,211.6 367.0,214.5" fill="#38a15f" stroke-width="0.67"/>
<polygon points="256.7,256.5 258.4,255.9 245.3,250.0 243.6,250.5" fill="#048364" stroke-width="0.65"/>
<polygon points="392.1,194.9 393.8,190.3 380.7,184.3 378.9,188.9" fill="#5cb35c" stroke-width="0.74"/>
<polygon points="116.8,251.7 118.5,251.7 105.4,246.0 103.7,245.9" fill="#0b8863"/>
<polygon points="378.4,223.2 380.1,220.6 367.0,214.5 365.2,217.1" fill="#349f60" stroke-width="0.66"/>
<polygon points="393.8,190.3 395.5,185.0 382.4,179.1 380.7,184.3" fill="#62b65c" stroke-width="0.75"/>
<polygon points="331.0,248.0 332.7,247.0 319.6,241.1 317.8,242.0" fill="#118b63" stroke-width="0.67"/>
<polygon points="184.2,258.2 185.9,257.8 172.8,251.9 171.1,252.3" fill="#018164" stroke-width="0.62"/>
<polygon points="219.6,258.2 221.3,257.7 208.2,251.8 206.5,252.3" fill="#018164" stroke-width="0.64"/>
<polygon points="292.1,254.7 293.9,254.0 280.7,248.1 279.0,248.8" fill="#078563" stroke-width="0.66"/>
<polygon points="376.7,225.6 378.4,223.2 365.2,217.1 363.5,219.5" fill="#319d60" stroke-width="0.65"/>
<polygon points="395.5,185.0 397.2,179.2 384.1,173.4 382.4,179.1" fill="#6aba5b" stroke-width="0.75"/>
<polygon points="255.0,257.0 256.7,256.5 243.6,250.5 241.9,251.1" fill="#038364" stroke-width="0.65"/>
<polygon points="148.8,256.3 150.5,256.1 137.4,250.3 135.7,250.5" fill="#048464"/>
<polygon points="374.9,227.9 376.7,225.6 363.5,219.5 361.8,221.9" fill="#2e9c60" stroke-width="0.65"/>
<polygon points="115.1,251.6 116.8,251.7 103.7,245.9 102.0,245.9" fill="#0c8863"/>
<polygon points="329.3,248.9 331.0,248.0 317.8,242.0 316.1,243.0" fill="#108b63" stroke-width="0.67"/>
<polygon points="373.2,230.1 374.9,227.9 361.8,221.9 360.1,224.1" fill="#2b9a60" stroke-width="0.65"/>
<polygon points="290.4,255.3 292.1,254.7 279.0,248.8 277.3,249.4" fill="#068563" stroke-width="0.66"/>
<polygon points="182.5,258.6 184.2,258.2 171.1,252.3 169.4,252.7" fill="#018164" stroke-width="0.62"/>
<polygon points="217.9,258.7 219.6,258.2 206.5,252.3 204.8,252.8" fill="#018164" stroke-width="0.64"/>
<polygon points="397.2,179.2 398.9,172.9 385.8,167.2 384.1,173.4" fill="#72be5a" stroke-width="0.75"/>
<polygon points="401.2,95.6 402.9,83.2 389.8,77.3 388.1,89.6" fill="#e4f250" stroke-width="0.75"/>
<polygon points="253.3,257.6 255.0,257.0 241.9,251.1 240.2,251.6" fill="#038364" stroke-width="0.65"/>
<polygon points="371.5,232.3 373.2,230.1 360.1,224.1 358.4,226.3" fill="#289961" stroke-width="0.66"/>
<polygon points="147.1,256.5 148.8,256.3 135.7,250.5 134.0,250.7" fill="#058464"/>
<polygon points="327.5,249.9 329.3,248.9 316.1,243.0 314.4,243.9" fill="#0f8a63" stroke-width="0.67"/>
<polygon points="398.9,172.9 400.6,166.6 387.5,160.9 385.8,167.2" fill="#7cc259" stroke-width="0.75"/>
<polygon points="113.4,251.5 115.1,251.6 102.0,245.9 100.3,245.8" fill="#0d8963"/>
<polygon points="288.7,256.0 290.4,255.3 277.3,249.4 275.6,250.1" fill="#068564" stroke-width="0.66"/>
<polygon points="369.8,234.4 371.5,232.3 358.4,226.3 356.7,228.4" fill="#269761" stroke-width="0.66"/>
<polygon points="216.2,259.2 217.9,258.7 204.8,252.8 203.1,253.3" fill="#018164" stroke-width="0.64"/>
<polygon points="180.8,258.9 182.5,258.6 169.4,252.7 167.6,253.1" fill="#028164" stroke-width="0.62"/>
<polygon points="251.6,258.1 253.3,257.6 240.2,251.6 238.5,252.1" fill="#038364" stroke-width="0.65"/>
<polygon points="325.8,250.8 327.5,249.9 314.4,243.9 312.7,244.8" fill="#0e8a63" stroke-width="0.67"/>
<polygon points="368.1,236.4 369.8,234.4 356.7,228.4 355.0,230.4" fill="#239661" stroke-width="0.66"/>
<polygon points="400.6,166.6 402.4,160.2 389.2,154.5 387.5,160.9" fill="#85c758" stroke-width="0.75"/>
<polygon points="145.4,256.7 147.1,256.5 134.0,250.7 132.2,250.9" fill="#058464"/>
<polygon points="287.0,256.6 288.7,256.0 275.6,250.1 273.9,250.7" fill="#068464" stroke-width="0.66"/>
<polygon points="214.5,259.7 216.2,259.2 203.1,253.3 201.3,253.8" fill="#018164" stroke-width="0.64"/>
<polygon points="111.7,251.4 113.4,251.5 100.3,245.8 98.5,245.6" fill="#0e8a63"/>
<polygon points="366.4,238.2 368.1,236.4 355.0,230.4 353.2,232.2" fill="#219561" stroke-width="0.66"/>
<polygon points="179.1,259.3 180.8,258.9 167.6,253.1 165.9,253.5" fill="#028264" stroke-width="0.62"/>
<polygon points="324.1,251.7 325.8,250.8 312.7,244.8 311.0,245.7" fill="#0d8963" stroke-width="0.67"/>
<polygon points="249.9,258.6 251.6,258.1 238.5,252.1 236.7,252.7" fill="#038364" stroke-width="0.65"/>
<polygon points="402.4,160.2 404.1,153.4 390.9,147.8 389.2,154.5" fill="#8ecb58" stroke-width="0.75"/>
<polygon points="364.7,240.0 366.4,238.2 353.2,232.2 351.5,234.0" fill="#1f9461" stroke-width="0.66"/>
<polygon points="143.7,256.8 145.4,256.7 132.2,250.9 130.5,251.0" fill="#068564"/>
<polygon points="285.3,257.2 287.0,256.6 273.9,250.7 272.2,251.3" fill="#058464" stroke-width="0.66"/>
<polygon points="212.8,260.2 214.5,259.7 201.3,253.8 199.6,254.3" fill="#018164" stroke-width="0.64"/>
<polygon points="177.4,259.7 179.1,259.3 165.9,253.5 164.2,253.8" fill="#028264" stroke-width="0.62"/>
<polygon points="322.4,252.6 324.1,251.7 311.0,245.7 309.3,246.6" fill="#0d8963" stroke-width="0.67"/>
<polygon points="110.0,251.2 111.7,251.4 98.5,245.6 96.8,245.5" fill="#0f8a63"/>
<polygon points="363.0,241.5 364.7,240.0 351.5,234.0 349.8,235.5" fill="#1d9362" stroke-width="0.67"/>
<polygon points="248.2,259.2 249.9,258.6 236.7,252.7 235.0,253.2" fill="#038264" stroke-width="0.65"/>
<polygon points="404.1,153.4 405.8,146.1 392.7,140.5 390.9,147.8" fill="#98cf57" stroke-width="0.75"/>
<polygon points="283.6,257.9 285.3,257.2 272.2,251.3 270.4,251.9" fill="#058464" stroke-width="0.66"/>
<polygon points="141.9,257.0 143.7,256.8 130.5,251.0 128.8,251.2" fill="#078563"/>
<polygon points="361.2,242.9 363.0,241.5 349.8,235.5 348.1,236.9" fill="#1b9262" stroke-width="0.67"/>
<polygon points="211.0,260.7 212.8,260.2 199.6,254.3 197.9,254.8" fill="#018164" stroke-width="0.64"/>
<polygon points="320.7,253.4 322.4,252.6 309.3,246.6 307.6,247.5" fill="#0c8963" stroke-width="0.67"/>
<polygon points="175.6,260.0 177.4,259.7 164.2,253.8 162.5,254.2" fill="#028264" stroke-width="0.62"/>
<polygon points="246.5,259.8 248.2,259.2 235.0,253.2 233.3,253.8" fill="#038264" stroke-width="0.65"/>
<polygon points="108.3,250.9 110.0,251.2 96.8,245.5 95.1,245.2" fill="#108b63"/>
<polygon points="405.8,146.1 407.5,137.9 394.4,132.2 392.7,140.5" fill="#a3d456" stroke-width="0.75"/>
<polygon points="359.5,244.3 361.2,242.9 348.1,236.9 346.4,238.3" fill="#1a9162" stroke-width="0.67"/>
<polygon points="281.9,258.5 283.6,257.9 270.4,251.9 268.7,252.5" fill="#058464" stroke-width="0.66"/>
<polygon points="140.2,257.1 141.9,257.0 128.8,251.2 127.1,251.3" fill="#078563"/>
<polygon points="319.0,254.3 320.7,253.4 307.6,247.5 305.8,248.4" fill="#0b8863" stroke-width="0.67"/>
<polygon points="209.3,261.2 211.0,260.7 197.9,254.8 196.2,255.3" fill="#018164" stroke-width="0.64"/>
<polygon points="173.9,260.3 175.6,260.0 162.5,254.2 160.8,254.5" fill="#028264" stroke-width="0.62"/>
<polygon points="244.7,260.3 246.5,259.8 233.3,253.8 231.6,254.4" fill="#028264" stroke-width="0.65"/>
<polygon points="357.8,245.5 359.5,244.3 346.4,238.3 344.7,239.6" fill="#189062" stroke-width="0.67"/>
<polygon points="106.5,250.6 108.3,250.9 95.1,245.2 93.4,245.0" fill="#118c63"/>
<polygon points="280.1,259.1 281.9,258.5 268.7,252.5 267.0,253.1" fill="#058464" stroke-width="0.66"/>
<polygon points="317.3,255.2 319.0,254.3 305.8,248.4 304.1,249.2" fill="#0b8863" stroke-width="0.67"/>
<polygon points="207.6,261.6 209.3,261.2 196.2,255.3 194.5,255.7" fill="#018164" stroke-width="0.64"/>
<polygon points="138.5,257.2 140.2,257.1 127.1,251.3 125.4,251.4" fill="#088663"/>
<polygon points="407.5,137.9 409.2,129.5 396.1,123.8 394.4,132.2" fill="#afda55" stroke-width="0.75"/>
<polygon points="356.1,246.7 357.8,245.5 344.7,239.6 343.0,240.8" fill="#178f62" stroke-width="0.67"/>
<polygon points="172.2,260.6 173.9,260.3 160.8,254.5 159.1,254.8" fill="#038264" stroke-width="0.62"/>
<polygon points="243.0,260.9 244.7,260.3 231.6,254.4 229.9,254.9" fill="#028264" stroke-width="0.65"/>
<polygon points="278.4,259.6 280.1,259.1 267.0,253.1 265.3,253.7" fill="#048464" stroke-width="0.66"/>
<polygon points="315.6,256.0 317.3,255.2 304.1,249.2 302.4,250.1" fill="#0a8763" stroke-width="0.67"/>
<polygon points="104.8,250.3 106.5,250.6 93.4,245.0 91.7,244.7" fill="#138d62"/>
<polygon points="205.9,262.1 207.6,261.6 194.5,255.7 192.8,256.2" fill="#018164" stroke-width="0.64"/>
<polygon points="354.4,247.9 356.1,246.7 343.0,240.8 341.3,241.9" fill="#168f62" stroke-width="0.67"/>
<polygon points="136.8,257.3 138.5,257.2 125.4,251.4 123.7,251.5" fill="#088663"/>
<polygon points="241.3,261.5 243.0,260.9 229.9,254.9 228.2,255.5" fill="#028264" stroke-width="0.65"/>
<polygon points="170.5,260.9 172.2,260.6 159.1,254.8 157.4,255.1" fill="#038364" stroke-width="0.62"/>
<polygon points="409.2,129.5 410.9,121.0 397.8,115.2 396.1,123.8" fill="#bbdf54" stroke-width="0.75"/>
<polygon points="313.8,256.9 315.6,256.0 302.4,250.1 300.7,250.9" fill="#098763" stroke-width="0.67"/>
<polygon points="276.7,260.2 278.4,259.6 265.3,253.7 263.6,254.3" fill="#048364" stroke-width="0.66"/>
<polygon points="352.7,249.0 354.4,247.9 341.3,241.9 339.5,243.0" fill="#158e62" stroke-width="0.67"/>
<polygon points="204.2,262.5 205.9,262.1 192.8,256.2 191.1,256.6" fill="#018164" stroke-width="0.64"/>
<polygon points="103.1,249.9 104.8,250.3 91.7,244.7 90.0,244.3" fill="#148d62"/>
<polygon points="239.6,262.0 241.3,261.5 228.2,255.5 226.5,256.1" fill="#028264" stroke-width="0.65"/>
<polygon points="135.1,257.4 136.8,257.3 123.7,251.5 122.0,251.6" fill="#098763"/>
<polygon points="168.8,261.2 170.5,260.9 157.4,255.1 155.7,255.3" fill="#038364" stroke-width="0.62"/>
<polygon points="312.1,257.7 313.8,256.9 300.7,250.9 299.0,251.8" fill="#098663" stroke-width="0.67"/>
<polygon points="351.0,250.0 352.7,249.0 339.5,243.0 337.8,244.0" fill="#148e62" stroke-width="0.67"/>
<polygon points="275.0,260.8 276.7,260.2 263.6,254.3 261.9,254.8" fill="#048364" stroke-width="0.66"/>
<polygon points="202.5,262.9 204.2,262.5 191.1,256.6 189.3,257.0" fill="#018164" stroke-width="0.64"/>
<polygon points="410.9,121.0 412.6,111.8 399.5,105.9 397.8,115.2" fill="#c8e552" stroke-width="0.75"/>
<polygon points="237.9,262.6 239.6,262.0 226.5,256.1 224.8,256.6" fill="#028264" stroke-width="0.65"/>
<polygon points="310.4,258.5 312.1,257.7 299.0,251.8 297.3,252.5" fill="#088663" stroke-width="0.67"/>
<polygon points="133.4,257.4 135.1,257.4 122.0,251.6 120.2,251.7" fill="#0a8763"/>
<polygon points="167.1,261.4 168.8,261.2 155.7,255.3 153.9,255.6" fill="#048364" stroke-width="0.62"/>
<polygon points="101.4,249.5 103.1,249.9 90.0,244.3 88.3,243.9" fill="#168e62"/>
<polygon points="349.2,251.0 351.0,250.0 337.8,244.0 336.1,245.0" fill="#138d62" stroke-width="0.67"/>
<polygon points="273.3,261.3 275.0,260.8 261.9,254.8 260.2,255.4" fill="#048364" stroke-width="0.66"/>
<polygon points="200.8,263.3 202.5,262.9 189.3,257.0 187.6,257.4" fill="#018164" stroke-width="0.64"/>
<polygon points="236.2,263.1 237.9,262.6 224.8,256.6 223.0,257.2" fill="#028164" stroke-width="0.65"/>
<polygon points="347.5,252.0 349.2,251.0 336.1,245.0 334.4,246.1" fill="#128c63" stroke-width="0.67"/>
<polygon points="308.7,259.2 310.4,258.5 297.3,252.5 295.6,253.3" fill="#088663" stroke-width="0.67"/>
<polygon points="165.4,261.7 167.1,261.4 153.9,255.6 152.2,255.9" fill="#048364" stroke-width="0.62"/>
<polygon points="131.7,257.5 133.4,257.4 120.2,251.7 118.5,251.7" fill="#0a8863"/>
<polygon points="271.6,261.9 273.3,261.3 260.2,255.4 258.4,255.9" fill="#048364" stroke-width="0.66"/>
<polygon points="99.7,248.9 101.4,249.5 88.3,243.9 86.6,243.4" fill="#178f62"/>
<polygon points="412.6,111.8 414.4,101.5 401.2,95.6 399.5,105.9" fill="#d5eb51" stroke-width="0.75"/>
<polygon points="398.4,217.3 400.1,213.5 386.9,207.4 385.2,211.1" fill="#44a75e" stroke-width="0.71"/>
<polygon points="199.1,263.7 200.8,263.3 187.6,257.4 185.9,257.8" fill="#018164" stroke-width="0.64"/>
<polygon points="400.1,213.5 401.8,209.4 388.7,203.3 386.9,207.4" fill="#4aaa5e" stroke-width="0.72"/>
<polygon points="396.6,220.7 398.4,217.3 385.2,211.1 383.5,214.6" fill="#40a55f" stroke-width="0.69"/>
<polygon points="345.8,253.0 347.5,252.0 334.4,246.1 332.7,247.0" fill="#118c63" stroke-width="0.67"/>
<polygon points="234.5,263.6 236.2,263.1 223.0,257.2 221.3,257.7" fill="#018164" stroke-width="0.65"/>
<polygon points="401.8,209.4 403.5,205.2 390.4,199.1 388.7,203.3" fill="#4fad5d" stroke-width="0.73"/>
<polygon points="307.0,259.9 308.7,259.2 295.6,253.3 293.9,254.0" fill="#078663" stroke-width="0.67"/>
<polygon points="394.9,223.9 396.6,220.7 383.5,214.6 381.8,217.7" fill="#3ba35f" stroke-width="0.68"/>
<polygon points="403.5,205.2 405.2,201.0 392.1,194.9 390.4,199.1" fill="#55b05d" stroke-width="0.73"/>
<polygon points="393.2,226.7 394.9,223.9 381.8,217.7 380.1,220.6" fill="#37a15f" stroke-width="0.67"/>
<polygon points="163.6,261.9 165.4,261.7 152.2,255.9 150.5,256.1" fill="#048464" stroke-width="0.62"/>
<polygon points="269.9,262.4 271.6,261.9 258.4,255.9 256.7,256.5" fill="#048364" stroke-width="0.66"/>
<polygon points="405.2,201.0 406.9,196.3 393.8,190.3 392.1,194.9" fill="#5bb35c" stroke-width="0.75"/>
<polygon points="130.0,257.4 131.7,257.5 118.5,251.7 116.8,251.7" fill="#0b8863"/>
<polygon points="391.5,229.3 393.2,226.7 380.1,220.6 378.4,223.2" fill="#349f60" stroke-width="0.65"/>
<polygon points="406.9,196.3 408.6,190.9 395.5,185.0 393.8,190.3" fill="#62b65c" stroke-width="0.75"/>
<polygon points="344.1,254.0 345.8,253.0 332.7,247.0 331.0,248.0" fill="#118b63" stroke-width="0.67"/>
<polygon points="98.0,248.3 99.7,248.9 86.6,243.4 84.8,242.9" fill="#199062"/>
<polygon points="197.3,264.1 199.1,263.7 185.9,257.8 184.2,258.2" fill="#018164" stroke-width="0.64"/>
<polygon points="232.7,264.1 234.5,263.6 221.3,257.7 219.6,258.2" fill="#018164" stroke-width="0.65"/>
<polygon points="305.3,260.6 307.0,259.9 293.9,254.0 292.1,254.7" fill="#078563" stroke-width="0.67"/>
<polygon points="389.8,231.7 391.5,229.3 378.4,223.2 376.7,225.6" fill="#319d60" stroke-width="0.65"/>
<polygon points="408.6,190.9 410.4,185.0 397.2,179.2 395.5,185.0" fill="#6aba5b" stroke-width="0.75"/>
<polygon points="268.2,263.0 269.9,262.4 256.7,256.5 255.0,257.0" fill="#038364" stroke-width="0.66"/>
<polygon points="388.1,234.0 389.8,231.7 376.7,225.6 374.9,227.9" fill="#2e9c60" stroke-width="0.65"/>
<polygon points="161.9,262.1 163.6,261.9 150.5,256.1 148.8,256.3" fill="#058464" stroke-width="0.62"/>
<polygon points="342.4,254.9 344.1,254.0 331.0,248.0 329.3,248.9" fill="#108b63" stroke-width="0.67"/>
<polygon points="128.2,257.4 130.0,257.4 116.8,251.7 115.1,251.6" fill="#0c8963"/>
<polygon points="386.4,236.2 388.1,234.0 374.9,227.9 373.2,230.1" fill="#2b9a60" stroke-width="0.66"/>
<polygon points="303.6,261.3 305.3,260.6 292.1,254.7 290.4,255.3" fill="#078563" stroke-width="0.67"/>
<polygon points="195.6,264.4 197.3,264.1 184.2,258.2 182.5,258.6" fill="#028164" stroke-width="0.64"/>
<polygon points="231.0,264.6 232.7,264.1 219.6,258.2 217.9,258.7" fill="#018164" stroke-width="0.65"/>
<polygon points="410.4,185.0 412.1,178.6 398.9,172.9 397.2,179.2" fill="#73be5a" stroke-width="0.75"/>
<polygon points="414.4,101.5 416.1,89.1 402.9,83.2 401.2,95.6" fill="#e5f250" stroke-width="0.75"/>
<polygon points="96.3,247.6 98.0,248.3 84.8,242.9 83.1,242.2" fill="#1b9162"/>
<polygon points="266.4,263.5 268.2,263.0 255.0,257.0 253.3,257.6" fill="#038364" stroke-width="0.66"/>
<polygon points="384.7,238.3 386.4,236.2 373.2,230.1 371.5,232.3" fill="#289961" stroke-width="0.66"/>
<polygon points="340.7,255.8 342.4,254.9 329.3,248.9 327.5,249.9" fill="#0f8a63" stroke-width="0.67"/>
<polygon points="160.2,262.3 161.9,262.1 148.8,256.3 147.1,256.5" fill="#058464" stroke-width="0.62"/>
<polygon points="412.1,178.6 413.8,172.3 400.6,166.6 398.9,172.9" fill="#7cc259" stroke-width="0.75"/>
<polygon points="126.5,257.2 128.2,257.4 115.1,251.6 113.4,251.5" fill="#0d8963"/>
<polygon points="382.9,240.4 384.7,238.3 371.5,232.3 369.8,234.4" fill="#269761" stroke-width="0.66"/>
<polygon points="301.8,261.9 303.6,261.3 290.4,255.3 288.7,256.0" fill="#068564" stroke-width="0.67"/>
<polygon points="229.3,265.1 231.0,264.6 217.9,258.7 216.2,259.2" fill="#018164" stroke-width="0.65"/>
<polygon points="193.9,264.8 195.6,264.4 182.5,258.6 180.8,258.9" fill="#028264" stroke-width="0.64"/>
<polygon points="264.7,264.1 266.4,263.5 253.3,257.6 251.6,258.1" fill="#038364" stroke-width="0.66"/>
<polygon points="339.0,256.7 340.7,255.8 327.5,249.9 325.8,250.8" fill="#0e8a63" stroke-width="0.67"/>
<polygon points="381.2,242.4 382.9,240.4 369.8,234.4 368.1,236.4" fill="#239661" stroke-width="0.66"/>
<polygon points="94.5,246.7 96.3,247.6 83.1,242.2 81.4,241.3" fill="#1d9362"/>
<polygon points="158.5,262.5 160.2,262.3 147.1,256.5 145.4,256.7" fill="#068564" stroke-width="0.62"/>
<polygon points="413.8,172.3 415.5,165.8 402.4,160.2 400.6,166.6" fill="#85c758" stroke-width="0.75"/>
<polygon points="300.1,262.6 301.8,261.9 288.7,256.0 287.0,256.6" fill="#068564" stroke-width="0.67"/>
<polygon points="227.6,265.6 229.3,265.1 216.2,259.2 214.5,259.7" fill="#018164" stroke-width="0.65"/>
<polygon points="379.5,244.2 381.2,242.4 368.1,236.4 366.4,238.2" fill="#219561" stroke-width="0.67"/>
<polygon points="192.2,265.2 193.9,264.8 180.8,258.9 179.1,259.3" fill="#028264" stroke-width="0.64"/>
<polygon points="124.8,257.1 126.5,257.2 113.4,251.5 111.7,251.4" fill="#0e8a63"/>
<polygon points="337.3,257.6 339.0,256.7 325.8,250.8 324.1,251.7" fill="#0e8a63" stroke-width="0.67"/>
<polygon points="263.0,264.6 264.7,264.1 251.6,258.1 249.9,258.6" fill="#038364" stroke-width="0.66"/>
<polygon points="415.5,165.8 417.2,159.1 404.1,153.4 402.4,160.2" fill="#8fcb58" stroke-width="0.75"/>
<polygon points="377.8,246.0 379.5,244.2 366.4,238.2 364.7,240.0" fill="#1f9461" stroke-width="0.67"/>
<polygon points="156.8,262.6 158.5,262.5 145.4,256.7 143.7,256.8" fill="#068563" stroke-width="0.62"/>
<polygon points="298.4,263.2 300.1,262.6 287.0,256.6 285.3,257.2" fill="#068464" stroke-width="0.67"/>
<polygon points="225.9,266.1 227.6,265.6 214.5,259.7 212.8,260.2" fill="#018164" stroke-width="0.65"/>
<polygon points="92.8,245.5 94.5,246.7 81.4,241.3 79.7,240.3" fill="#209461"/>
<polygon points="190.5,265.5 192.2,265.2 179.1,259.3 177.4,259.7" fill="#028264" stroke-width="0.64"/>
<polygon points="335.5,258.5 337.3,257.6 324.1,251.7 322.4,252.6" fill="#0d8963" stroke-width="0.67"/>
<polygon points="376.1,247.5 377.8,246.0 364.7,240.0 363.0,241.5" fill="#1d9362" stroke-width="0.67"/>
<polygon points="123.1,256.8 124.8,257.1 111.7,251.4 110.0,251.2" fill="#0f8b63"/>
<polygon points="261.3,265.1 263.0,264.6 249.9,258.6 248.2,259.2" fill="#038264" stroke-width="0.66"/>
<polygon points="417.2,159.1 418.9,151.8 405.8,146.1 404.1,153.4" fill="#99d057" stroke-width="0.75"/>
<polygon points="296.7,263.8 298.4,263.2 285.3,257.2 283.6,257.9" fill="#058464" stroke-width="0.67"/>
<polygon points="155.1,262.7 156.8,262.6 143.7,256.8 141.9,257.0" fill="#078563" stroke-width="0.62"/>
<polygon points="374.4,248.9 376.1,247.5 363.0,241.5 361.2,242.9" fill="#1b9262" stroke-width="0.68"/>
<polygon points="224.2,266.6 225.9,266.1 212.8,260.2 211.0,260.7" fill="#018164" stroke-width="0.65"/>
<polygon points="333.8,259.4 335.5,258.5 322.4,252.6 320.7,253.4" fill="#0c8963" stroke-width="0.67"/>
<polygon points="188.8,265.8 190.5,265.5 177.4,259.7 175.6,260.0" fill="#028264" stroke-width="0.64"/>
<polygon points="259.6,265.7 261.3,265.1 248.2,259.2 246.5,259.8" fill="#038264" stroke-width="0.66"/>
<polygon points="121.4,256.6 123.1,256.8 110.0,251.2 108.3,250.9" fill="#118b63"/>
<polygon points="91.1,244.2 92.8,245.5 79.7,240.3 78.0,239.0" fill="#239661"/>
<polygon points="372.7,250.3 374.4,248.9 361.2,242.9 359.5,244.3" fill="#1a9162" stroke-width="0.68"/>
<polygon points="295.0,264.4 296.7,263.8 283.6,257.9 281.9,258.5" fill="#058464" stroke-width="0.67"/>
<polygon points="418.9,151.8 420.6,143.6 407.5,137.9 405.8,146.1" fill="#a3d556" stroke-width="0.75"/>
<polygon points="332.1,260.2 333.8,259.4 320.7,253.4 319.0,254.3" fill="#0b8863" stroke-width="0.67"/>
<polygon points="153.4,262.9 155.1,262.7 141.9,257.0 140.2,257.1" fill="#088663" stroke-width="0.62"/>
<polygon points="222.5,267.0 224.2,266.6 211.0,260.7 209.3,261.2" fill="#018164" stroke-width="0.65"/>
<polygon points="187.1,266.2 188.8,265.8 175.6,260.0 173.9,260.3" fill="#038264" stroke-width="0.64"/>
<polygon points="257.9,266.3 259.6,265.7 246.5,259.8 244.7,260.3" fill="#038264" stroke-width="0.66"/>
<polygon points="370.9,251.5 372.7,250.3 359.5,244.3 357.8,245.5" fill="#189062" stroke-width="0.68"/>
<polygon points="293.3,265.0 295.0,264.4 281.9,258.5 280.1,259.1" fill="#058464" stroke-width="0.67"/>
<polygon points="119.7,256.3 121.4,256.6 108.3,250.9 106.5,250.6" fill="#128c63"/>
<polygon points="330.4,261.1 332.1,260.2 319.0,254.3 317.3,255.2" fill="#0b8863" stroke-width="0.67"/>
<polygon points="220.8,267.5 222.5,267.0 209.3,261.2 207.6,261.6" fill="#018164" stroke-width="0.65"/>
<polygon points="151.7,263.0 153.4,262.9 140.2,257.1 138.5,257.2" fill="#088663" stroke-width="0.62"/>
<polygon points="420.6,143.6 422.3,135.2 409.2,129.5 407.5,137.9" fill="#afda55" stroke-width="0.75"/>
<polygon points="89.4,242.5 91.1,244.2 78.0,239.0 76.3,237.3" fill="#269861" stroke-width="0.62"/>
<polygon points="369.2,252.7 370.9,251.5 357.8,245.5 356.1,246.7" fill="#178f62" stroke-width="0.68"/>
<polygon points="185.3,266.5 187.1,266.2 173.9,260.3 172.2,260.6" fill="#038364" stroke-width="0.64"/>
<polygon points="256.2,266.8 257.9,266.3 244.7,260.3 243.0,260.9" fill="#028264" stroke-width="0.66"/>
<polygon points="291.6,265.6 293.3,265.0 280.1,259.1 278.4,259.6" fill="#058464" stroke-width="0.67"/>
<polygon points="328.7,261.9 330.4,261.1 317.3,255.2 315.6,256.0" fill="#0a8763" stroke-width="0.67"/>
<polygon points="367.5,253.9 369.2,252.7 356.1,246.7 354.4,247.9" fill="#168f62" stroke-width="0.68"/>
<polygon points="118.0,255.9 119.7,256.3 106.5,250.6 104.8,250.3" fill="#138d62"/>
<polygon points="219.0,267.9 220.8,267.5 207.6,261.6 205.9,262.1" fill="#018164" stroke-width="0.65"/>
<polygon points="149.9,263.1 151.7,263.0 138.5,257.2 136.8,257.3" fill="#098763" stroke-width="0.62"/>
<polygon points="254.4,267.4 256.2,266.8 243.0,260.9 241.3,261.5" fill="#028264" stroke-width="0.66"/>
<polygon points="183.6,266.7 185.3,266.5 172.2,260.6 170.5,260.9" fill="#038364" stroke-width="0.64"/>
<polygon points="422.3,135.2 424.1,126.7 410.9,121.0 409.2,129.5" fill="#bce053" stroke-width="0.75"/>
<polygon points="327.0,262.8 328.7,261.9 315.6,256.0 313.8,256.9" fill="#098763" stroke-width="0.67"/>
<polygon points="289.9,266.2 291.6,265.6 278.4,259.6 276.7,260.2" fill="#048464" stroke-width="0.67"/>
<polygon points="365.8,255.0 367.5,253.9 354.4,247.9 352.7,249.0" fill="#158e62" stroke-width="0.68"/>
<polygon points="87.7,240.4 89.4,242.5 76.3,237.3 74.6,235.3" fill="#2b9a60" stroke-width="0.64"/>
<polygon points="217.3,268.3 219.0,267.9 205.9,262.1 204.2,262.5" fill="#018164" stroke-width="0.65"/>
<polygon points="252.7,267.9 254.4,267.4 241.3,261.5 239.6,262.0" fill="#028264" stroke-width="0.66"/>
<polygon points="116.2,255.5 118.0,255.9 104.8,250.3 103.1,249.9" fill="#158e62"/>
<polygon points="148.2,263.1 149.9,263.1 136.8,257.3 135.1,257.4" fill="#098763" stroke-width="0.62"/>
<polygon points="181.9,267.0 183.6,266.7 170.5,260.9 168.8,261.2" fill="#048364" stroke-width="0.64"/>
<polygon points="325.3,263.6 327.0,262.8 313.8,256.9 312.1,257.7" fill="#098763" stroke-width="0.67"/>
<polygon points="364.1,256.0 365.8,255.0 352.7,249.0 351.0,250.0" fill="#148e62" stroke-width="0.68"/>
<polygon points="288.1,266.7 289.9,266.2 276.7,260.2 275.0,260.8" fill="#048364" stroke-width="0.67"/>
<polygon points="215.6,268.8 217.3,268.3 204.2,262.5 202.5,262.9" fill="#018164" stroke-width="0.65"/>
<polygon points="424.1,126.7 425.8,117.7 412.6,111.8 410.9,121.0" fill="#c8e552" stroke-width="0.75"/>
<polygon points="251.0,268.5 252.7,267.9 239.6,262.0 237.9,262.6" fill="#028264" stroke-width="0.66"/>
<polygon points="323.5,264.4 325.3,263.6 312.1,257.7 310.4,258.5" fill="#088663" stroke-width="0.67"/>
<polygon points="362.4,257.0 364.1,256.0 351.0,250.0 349.2,251.0" fill="#138d62" stroke-width="0.68"/>
<polygon points="180.2,267.3 181.9,267.0 168.8,261.2 167.1,261.4" fill="#048364" stroke-width="0.64"/>
<polygon points="146.5,263.2 148.2,263.1 135.1,257.4 133.4,257.4" fill="#0a8763" stroke-width="0.62"/>
<polygon points="114.5,255.0 116.2,255.5 103.1,249.9 101.4,249.5" fill="#168f62"/>
<polygon points="286.4,267.3 288.1,266.7 275.0,260.8 273.3,261.3" fill="#048364" stroke-width="0.67"/>
<polygon points="86.0,237.5 87.7,240.4 74.6,235.3 72.8,232.5" fill="#309d60" stroke-width="0.67"/>
<polygon points="213.9,269.1 215.6,268.8 202.5,262.9 200.8,263.3" fill="#018164" stroke-width="0.65"/>
<polygon points="249.3,269.0 251.0,268.5 237.9,262.6 236.2,263.1" fill="#028264" stroke-width="0.66"/>
<polygon points="360.7,258.0 362.4,257.0 349.2,251.0 347.5,252.0" fill="#128c63" stroke-width="0.68"/>
<polygon points="321.8,265.1 323.5,264.4 310.4,258.5 308.7,259.2" fill="#088663" stroke-width="0.67"/>
<polygon points="178.5,267.5 180.2,267.3 167.1,261.4 165.4,261.7" fill="#048464" stroke-width="0.64"/>
<polygon points="284.7,267.8 286.4,267.3 273.3,261.3 271.6,261.9" fill="#048364" stroke-width="0.67"/>
<polygon points="144.8,263.2 146.5,263.2 133.4,257.4 131.7,257.5" fill="#0b8863" stroke-width="0.62"/>
<polygon points="112.8,254.4 114.5,255.0 101.4,249.5 99.7,248.9" fill="#189062"/>
<polygon points="425.8,117.7 427.5,107.5 414.4,101.5 412.6,111.8" fill="#d6eb51" stroke-width="0.75"/>
<polygon points="411.5,223.4 413.2,219.7 400.1,213.5 398.4,217.3" fill="#44a75e" stroke-width="0.71"/>
<polygon points="409.8,226.9 411.5,223.4 398.4,217.3 396.6,220.7" fill="#3fa55f" stroke-width="0.69"/>
<polygon points="413.2,219.7 414.9,215.6 401.8,209.4 400.1,213.5" fill="#49aa5e" stroke-width="0.72"/>
<polygon points="212.2,269.5 213.9,269.1 200.8,263.3 199.1,263.7" fill="#028164" stroke-width="0.65"/>
<polygon points="359.0,259.0 360.7,258.0 347.5,252.0 345.8,253.0" fill="#118c63" stroke-width="0.68"/>
<polygon points="247.6,269.5 249.3,269.0 236.2,263.1 234.5,263.6" fill="#028164" stroke-width="0.66"/>
<polygon points="414.9,215.6 416.6,211.3 403.5,205.2 401.8,209.4" fill="#4fad5d" stroke-width="0.73"/>
<polygon points="408.1,230.0 409.8,226.9 396.6,220.7 394.9,223.9" fill="#3ba35f" stroke-width="0.68"/>
<polygon points="320.1,265.8 321.8,265.1 308.7,259.2 307.0,259.9" fill="#078663" stroke-width="0.67"/>
<polygon points="416.6,211.3 418.3,207.1 405.2,201.0 403.5,205.2" fill="#55b05d" stroke-width="0.73"/>
<polygon points="406.4,232.9 408.1,230.0 394.9,223.9 393.2,226.7" fill="#37a15f" stroke-width="0.67"/>
<polygon points="418.3,207.1 420.1,202.3 406.9,196.3 405.2,201.0" fill="#5bb35c" stroke-width="0.75"/>
<polygon points="283.0,268.4 284.7,267.8 271.6,261.9 269.9,262.4" fill="#048364" stroke-width="0.67"/>
<polygon points="176.8,267.7 178.5,267.5 165.4,261.7 163.6,261.9" fill="#058464" stroke-width="0.64"/>
<polygon points="404.6,235.4 406.4,232.9 393.2,226.7 391.5,229.3" fill="#349f60" stroke-width="0.65"/>
<polygon points="143.1,263.2 144.8,263.2 131.7,257.5 130.0,257.4" fill="#0c8863" stroke-width="0.62"/>
<polygon points="84.3,233.8 86.0,237.5 72.8,232.5 71.1,229.0" fill="#37a05f" stroke-width="0.70"/>
<polygon points="420.1,202.3 421.8,196.8 408.6,190.9 406.9,196.3" fill="#62b65c" stroke-width="0.75"/>
<polygon points="357.2,259.9 359.0,259.0 345.8,253.0 344.1,254.0" fill="#118b63" stroke-width="0.68"/>
<polygon points="210.5,269.9 212.2,269.5 199.1,263.7 197.3,264.1" fill="#028264" stroke-width="0.65"/>
<polygon points="402.9,237.8 404.6,235.4 391.5,229.3 389.8,231.7" fill="#319d60" stroke-width="0.65"/>
<polygon points="111.1,253.7 112.8,254.4 99.7,248.9 98.0,248.3" fill="#1a9162"/>
<polygon points="245.9,270.0 247.6,269.5 234.5,263.6 232.7,264.1" fill="#028164" stroke-width="0.66"/>
<polygon points="318.4,266.5 320.1,265.8 307.0,259.9 305.3,260.6" fill="#078563" stroke-width="0.67"/>
<polygon points="281.3,268.9 283.0,268.4 269.9,262.4 268.2,263.0" fill="#048364" stroke-width="0.67"/>
<polygon points="421.8,196.8 423.5,190.8 410.4,185.0 408.6,190.9" fill="#6aba5b" stroke-width="0.75"/>
<polygon points="401.2,240.0 402.9,237.8 389.8,231.7 388.1,234.0" fill="#2e9c60" stroke-width="0.66"/>
<polygon points="175.1,267.9 176.8,267.7 163.6,261.9 161.9,262.1" fill="#058464" stroke-width="0.64"/>
<polygon points="355.5,260.9 357.2,259.9 344.1,254.0 342.4,254.9" fill="#108b63" stroke-width="0.68"/>
<polygon points="141.4,263.1 143.1,263.2 130.0,257.4 128.2,257.4" fill="#0d8963" stroke-width="0.62"/>
<polygon points="399.5,242.2 401.2,240.0 388.1,234.0 386.4,236.2" fill="#2b9a60" stroke-width="0.66"/>
<polygon points="316.7,267.2 318.4,266.5 305.3,260.6 303.6,261.3" fill="#078563" stroke-width="0.67"/>
<polygon points="244.2,270.5 245.9,270.0 232.7,264.1 231.0,264.6" fill="#018164" stroke-width="0.66"/>
<polygon points="208.8,270.3 210.5,269.9 197.3,264.1 195.6,264.4" fill="#028264" stroke-width="0.65"/>
<polygon points="427.5,107.5 429.2,95.0 416.1,89.1 414.4,101.5" fill="#e5f250" stroke-width="0.75"/>
<polygon points="423.5,190.8 425.2,184.4 412.1,178.6 410.4,185.0" fill="#73be5a" stroke-width="0.75"/>
<polygon points="109.4,252.9 111.1,253.7 98.0,248.3 96.3,247.6" fill="#1c9262"/>
<polygon points="279.6,269.5 281.3,268.9 268.2,263.0 266.4,263.5" fill="#038364" stroke-width="0.67"/>
<polygon points="397.8,244.3 399.5,242.2 386.4,236.2 384.7,238.3" fill="#289961" stroke-width="0.66"/>
<polygon points="353.8,261.8 355.5,260.9 342.4,254.9 340.7,255.8" fill="#0f8a63" stroke-width="0.68"/>
<polygon points="173.4,268.1 175.1,267.9 161.9,262.1 160.2,262.3" fill="#068464" stroke-width="0.64"/>
<polygon points="396.1,246.4 397.8,244.3 384.7,238.3 382.9,240.4" fill="#269761" stroke-width="0.66"/>
<polygon points="315.0,267.8 316.7,267.2 303.6,261.3 301.8,261.9" fill="#068564" stroke-width="0.67"/>
<polygon points="425.2,184.4 426.9,178.1 413.8,172.3 412.1,178.6" fill="#7cc359" stroke-width="0.75"/>
<polygon points="139.7,262.9 141.4,263.1 128.2,257.4 126.5,257.2" fill="#0e8a63" stroke-width="0.62"/>
<polygon points="242.5,271.0 244.2,270.5 231.0,264.6 229.3,265.1" fill="#018164" stroke-width="0.66"/>
<polygon points="207.0,270.6 208.8,270.3 195.6,264.4 193.9,264.8" fill="#028264" stroke-width="0.65"/>
<polygon points="277.9,270.0 279.6,269.5 266.4,263.5 264.7,264.1" fill="#038364" stroke-width="0.67"/>
<polygon points="394.4,248.4 396.1,246.4 382.9,240.4 381.2,242.4" fill="#239661" stroke-width="0.67"/>
<polygon points="352.1,262.7 353.8,261.8 340.7,255.8 339.0,256.7" fill="#0e8a63" stroke-width="0.68"/>
<polygon points="171.6,268.3 173.4,268.1 160.2,262.3 158.5,262.5" fill="#068564" stroke-width="0.64"/>
<polygon points="426.9,178.1 428.6,171.5 415.5,165.8 413.8,172.3" fill="#86c758" stroke-width="0.75"/>
<polygon points="107.7,252.0 109.4,252.9 96.3,247.6 94.5,246.7" fill="#1e9361"/>
<polygon points="313.3,268.5 315.0,267.8 301.8,261.9 300.1,262.6" fill="#068564" stroke-width="0.67"/>
<polygon points="392.6,250.3 394.4,248.4 381.2,242.4 379.5,244.2" fill="#219561" stroke-width="0.67"/>
<polygon points="240.7,271.5 242.5,271.0 229.3,265.1 227.6,265.6" fill="#018164" stroke-width="0.66"/>
<polygon points="205.3,271.0 207.0,270.6 193.9,264.8 192.2,265.2" fill="#028264" stroke-width="0.65"/>
<polygon points="137.9,262.7 139.7,262.9 126.5,257.2 124.8,257.1" fill="#0f8a63" stroke-width="0.62"/>
<polygon points="350.4,263.6 352.1,262.7 339.0,256.7 337.3,257.6" fill="#0e8a63" stroke-width="0.68"/>
<polygon points="276.1,270.6 277.9,270.0 264.7,264.1 263.0,264.6" fill="#038364" stroke-width="0.67"/>
<polygon points="390.9,252.0 392.6,250.3 379.5,244.2 377.8,246.0" fill="#1f9461" stroke-width="0.68"/>
<polygon points="428.6,171.5 430.3,164.8 417.2,159.1 415.5,165.8" fill="#8fcb58" stroke-width="0.75"/>
<polygon points="169.9,268.4 171.6,268.3 158.5,262.5 156.8,262.6" fill="#078563" stroke-width="0.64"/>
<polygon points="311.6,269.1 313.3,268.5 300.1,262.6 298.4,263.2" fill="#068464" stroke-width="0.67"/>
<polygon points="239.0,272.0 240.7,271.5 227.6,265.6 225.9,266.1" fill="#018164" stroke-width="0.66"/>
<polygon points="203.6,271.3 205.3,271.0 192.2,265.2 190.5,265.5" fill="#028264" stroke-width="0.65"/>
<polygon points="348.7,264.4 350.4,263.6 337.3,257.6 335.5,258.5" fill="#0d8963" stroke-width="0.68"/>
<polygon points="389.2,253.5 390.9,252.0 377.8,246.0 376.1,247.5" fill="#1d9362" stroke-width="0.68"/>
<polygon points="106.0,250.8 107.7,252.0 94.5,246.7 92.8,245.5" fill="#219561"/>
<polygon points="274.4,271.1 276.1,270.6 263.0,264.6 261.3,265.1" fill="#038364" stroke-width="0.67"/>
<polygon points="136.2,262.5 137.9,262.7 124.8,257.1 123.1,256.8" fill="#108b63" stroke-width="0.62"/>
<polygon points="430.3,164.8 432.1,157.4 418.9,151.8 417.2,159.1" fill="#99d057" stroke-width="0.75"/>
<polygon points="309.8,269.7 311.6,269.1 298.4,263.2 296.7,263.8" fill="#058464" stroke-width="0.67"/>
<polygon points="168.2,268.5 169.9,268.4 156.8,262.6 155.1,262.7" fill="#078663" stroke-width="0.64"/>
<polygon points="387.5,254.9 389.2,253.5 376.1,247.5 374.4,248.9" fill="#1b9262" stroke-width="0.68"/>
<polygon points="237.3,272.5 239.0,272.0 225.9,266.1 224.2,266.6" fill="#018164" stroke-width="0.66"/>
<polygon points="347.0,265.3 348.7,264.4 335.5,258.5 333.8,259.4" fill="#0c8963" stroke-width="0.68"/>
<polygon points="201.9,271.7 203.6,271.3 190.5,265.5 188.8,265.8" fill="#038264" stroke-width="0.65"/>
<polygon points="272.7,271.7 274.4,271.1 261.3,265.1 259.6,265.7" fill="#038264" stroke-width="0.67"/>
<polygon points="134.5,262.2 136.2,262.5 123.1,256.8 121.4,256.6" fill="#118c63" stroke-width="0.62"/>
<polygon points="385.8,256.3 387.5,254.9 374.4,248.9 372.7,250.3" fill="#1a9162" stroke-width="0.69"/>
<polygon points="308.1,270.3 309.8,269.7 296.7,263.8 295.0,264.4" fill="#058464" stroke-width="0.67"/>
<polygon points="104.3,249.3 106.0,250.8 92.8,245.5 91.1,244.2" fill="#249761" stroke-width="0.62"/>
<polygon points="432.1,157.4 433.8,149.2 420.6,143.6 418.9,151.8" fill="#a4d556" stroke-width="0.75"/>
<polygon points="345.2,266.2 347.0,265.3 333.8,259.4 332.1,260.2" fill="#0c8863" stroke-width="0.68"/>
<polygon points="235.6,272.9 237.3,272.5 224.2,266.6 222.5,267.0" fill="#018164" stroke-width="0.66"/>
<polygon points="166.5,268.6 168.2,268.5 155.1,262.7 153.4,262.9" fill="#088663" stroke-width="0.64"/>
<polygon points="200.2,272.0 201.9,271.7 188.8,265.8 187.1,266.2" fill="#038364" stroke-width="0.65"/>
<polygon points="271.0,272.2 272.7,271.7 259.6,265.7 257.9,266.3" fill="#038264" stroke-width="0.67"/>
<polygon points="384.1,257.5 385.8,256.3 372.7,250.3 370.9,251.5" fill="#199062" stroke-width="0.69"/>
<polygon points="306.4,270.9 308.1,270.3 295.0,264.4 293.3,265.0" fill="#058464" stroke-width="0.67"/>
<polygon points="132.8,261.9 134.5,262.2 121.4,256.6 119.7,256.3" fill="#138d62" stroke-width="0.62"/>
<polygon points="343.5,267.0 345.2,266.2 332.1,260.2 330.4,261.1" fill="#0b8863" stroke-width="0.68"/>
<polygon points="233.9,273.4 235.6,272.9 222.5,267.0 220.8,267.5" fill="#018164" stroke-width="0.66"/>
<polygon points="164.8,268.7 166.5,268.6 153.4,262.9 151.7,263.0" fill="#098663" stroke-width="0.64"/>
<polygon points="382.4,258.7 384.1,257.5 370.9,251.5 369.2,252.7" fill="#178f62" stroke-width="0.69"/>
<polygon points="433.8,149.2 435.5,140.9 422.3,135.2 420.6,143.6" fill="#b0da55" stroke-width="0.75"/>
<polygon points="269.3,272.8 271.0,272.2 257.9,266.3 256.2,266.8" fill="#028264" stroke-width="0.67"/>
<polygon points="198.5,272.3 200.2,272.0 187.1,266.2 185.3,266.5" fill="#038364" stroke-width="0.65"/>
<polygon points="102.5,247.5 104.3,249.3 91.1,244.2 89.4,242.5" fill="#289961" stroke-width="0.63"/>
<polygon points="304.7,271.5 306.4,270.9 293.3,265.0 291.6,265.6" fill="#058464" stroke-width="0.67"/>
<polygon points="341.8,267.9 343.5,267.0 330.4,261.1 328.7,261.9" fill="#0a8763" stroke-width="0.68"/>
<polygon points="380.7,259.9 382.4,258.7 369.2,252.7 367.5,253.9" fill="#168f62" stroke-width="0.69"/>
<polygon points="232.2,273.8 233.9,273.4 220.8,267.5 219.0,267.9" fill="#018164" stroke-width="0.66"/>
<polygon points="131.1,261.5 132.8,261.9 119.7,256.3 118.0,255.9" fill="#148d62" stroke-width="0.62"/>
<polygon points="267.6,273.3 269.3,272.8 256.2,266.8 254.4,267.4" fill="#028264" stroke-width="0.67"/>
<polygon points="163.1,268.8 164.8,268.7 151.7,263.0 149.9,263.1" fill="#098763" stroke-width="0.64"/>
<polygon points="196.8,272.6 198.5,272.3 185.3,266.5 183.6,266.7" fill="#048364" stroke-width="0.65"/>
<polygon points="340.1,268.7 341.8,267.9 328.7,261.9 327.0,262.8" fill="#0a8763" stroke-width="0.68"/>
<polygon points="435.5,140.9 437.2,132.5 424.1,126.7 422.3,135.2" fill="#bce053" stroke-width="0.75"/>
<polygon points="303.0,272.1 304.7,271.5 291.6,265.6 289.9,266.2" fill="#048464" stroke-width="0.67"/>
<polygon points="378.9,261.0 380.7,259.9 367.5,253.9 365.8,255.0" fill="#158e62" stroke-width="0.69"/>
<polygon points="230.5,274.2 232.2,273.8 219.0,267.9 217.3,268.3" fill="#018164" stroke-width="0.66"/>
<polygon points="100.8,245.4 102.5,247.5 89.4,242.5 87.7,240.4" fill="#2c9b60" stroke-width="0.64"/>
<polygon points="265.9,273.9 267.6,273.3 254.4,267.4 252.7,267.9" fill="#028264" stroke-width="0.67"/>
<polygon points="129.4,261.0 131.1,261.5 118.0,255.9 116.2,255.5" fill="#168e62" stroke-width="0.62"/>
<polygon points="161.4,268.9 163.1,268.8 149.9,263.1 148.2,263.1" fill="#0a8763" stroke-width="0.64"/>
<polygon points="195.1,272.8 196.8,272.6 183.6,266.7 181.9,267.0" fill="#048364" stroke-width="0.65"/>
<polygon points="338.4,269.5 340.1,268.7 327.0,262.8 325.3,263.6" fill="#098763" stroke-width="0.68"/>
<polygon points="377.2,262.0 378.9,261.0 365.8,255.0 364.1,256.0" fill="#148e62" stroke-width="0.69"/>
<polygon points="301.3,272.7 303.0,272.1 289.9,266.2 288.1,266.7" fill="#048364" stroke-width="0.67"/>
<polygon points="228.7,274.6 230.5,274.2 217.3,268.3 215.6,268.8" fill="#028164" stroke-width="0.66"/>
<polygon points="437.2,132.5 438.9,123.5 425.8,117.7 424.1,126.7" fill="#c9e552" stroke-width="0.75"/>
<polygon points="264.2,274.4 265.9,273.9 252.7,267.9 251.0,268.5" fill="#028264" stroke-width="0.67"/>
<polygon points="336.7,270.3 338.4,269.5 325.3,263.6 323.5,264.4" fill="#088663" stroke-width="0.68"/>
<polygon points="375.5,263.0 377.2,262.0 364.1,256.0 362.4,257.0" fill="#138d62" stroke-width="0.69"/>
<polygon points="193.3,273.1 195.1,272.8 181.9,267.0 180.2,267.3" fill="#048364" stroke-width="0.65"/>
<polygon points="159.6,268.9 161.4,268.9 148.2,263.1 146.5,263.2" fill="#0b8863" stroke-width="0.64"/>
<polygon points="299.6,273.2 301.3,272.7 288.1,266.7 286.4,267.3" fill="#048364" stroke-width="0.67"/>
<polygon points="127.7,260.5 129.4,261.0 116.2,255.5 114.5,255.0" fill="#178f62" stroke-width="0.62"/>
<polygon points="99.1,242.3 100.8,245.4 87.7,240.4 86.0,237.5" fill="#329e60" stroke-width="0.67"/>
<polygon points="227.0,275.0 228.7,274.6 215.6,268.8 213.9,269.1" fill="#028264" stroke-width="0.66"/>
<polygon points="262.4,274.9 264.2,274.4 251.0,268.5 249.3,269.0" fill="#028264" stroke-width="0.67"/>
<polygon points="373.8,264.0 375.5,263.0 362.4,257.0 360.7,258.0" fill="#128c62" stroke-width="0.69"/>
<polygon points="335.0,271.0 336.7,270.3 323.5,264.4 321.8,265.1" fill="#088663" stroke-width="0.68"/>
<polygon points="191.6,273.3 193.3,273.1 180.2,267.3 178.5,267.5" fill="#058464" stroke-width="0.65"/>
<polygon points="297.8,273.8 299.6,273.2 286.4,267.3 284.7,267.8" fill="#048364" stroke-width="0.67"/>
<polygon points="157.9,268.9 159.6,268.9 146.5,263.2 144.8,263.2" fill="#0b8863" stroke-width="0.64"/>
<polygon points="424.6,229.6 426.3,225.8 413.2,219.7 411.5,223.4" fill="#44a75e" stroke-width="0.71"/>
<polygon points="438.9,123.5 440.6,113.5 427.5,107.5 425.8,117.7" fill="#d6eb51" stroke-width="0.75"/>
<polygon points="126.0,259.8 127.7,260.5 114.5,255.0 112.8,254.4" fill="#199062" stroke-width="0.62"/>
<polygon points="422.9,233.0 424.6,229.6 411.5,223.4 409.8,226.9" fill="#3fa55f" stroke-width="0.69"/>
<polygon points="426.3,225.8 428.1,221.7 414.9,215.6 413.2,219.7" fill="#49aa5e" stroke-width="0.72"/>
<polygon points="372.1,265.0 373.8,264.0 360.7,258.0 359.0,259.0" fill="#118c63" stroke-width="0.69"/>
<polygon points="428.1,221.7 429.8,217.4 416.6,211.3 414.9,215.6" fill="#4fad5d" stroke-width="0.73"/>
<polygon points="421.2,236.2 422.9,233.0 409.8,226.9 408.1,230.0" fill="#3ba35f" stroke-width="0.68"/>
<polygon points="225.3,275.4 227.0,275.0 213.9,269.1 212.2,269.5" fill="#028264" stroke-width="0.66"/>
<polygon points="260.7,275.4 262.4,274.9 249.3,269.0 247.6,269.5" fill="#028264" stroke-width="0.67"/>
<polygon points="333.3,271.7 335.0,271.0 321.8,265.1 320.1,265.8" fill="#088663" stroke-width="0.68"/>
<polygon points="429.8,217.4 431.5,213.2 418.3,207.1 416.6,211.3" fill="#55b05d" stroke-width="0.73"/>
<polygon points="419.5,239.0 421.2,236.2 408.1,230.0 406.4,232.9" fill="#37a15f" stroke-width="0.67"/>
<polygon points="431.5,213.2 433.2,208.3 420.1,202.3 418.3,207.1" fill="#5bb35c" stroke-width="0.75"/>
<polygon points="296.1,274.3 297.8,273.8 284.7,267.8 283.0,268.4" fill="#048364" stroke-width="0.67"/>
<polygon points="189.9,273.5 191.6,273.3 178.5,267.5 176.8,267.7" fill="#058464" stroke-width="0.65"/>
<polygon points="417.8,241.5 419.5,239.0 406.4,232.9 404.6,235.4" fill="#349f60" stroke-width="0.65"/>
<polygon points="156.2,268.9 157.9,268.9 144.8,263.2 143.1,263.2" fill="#0c8963" stroke-width="0.64"/>
<polygon points="433.2,208.3 434.9,202.7 421.8,196.8 420.1,202.3" fill="#62b65c" stroke-width="0.75"/>
<polygon points="370.4,265.9 372.1,265.0 359.0,259.0 357.2,259.9" fill="#118b63" stroke-width="0.69"/>
<polygon points="416.1,243.8 417.8,241.5 404.6,235.4 402.9,237.8" fill="#319d60" stroke-width="0.66"/>
<polygon points="223.6,275.8 225.3,275.4 212.2,269.5 210.5,269.9" fill="#028264" stroke-width="0.66"/>
<polygon points="259.0,275.9 260.7,275.4 247.6,269.5 245.9,270.0" fill="#028264" stroke-width="0.67"/>
<polygon points="331.5,272.4 333.3,271.7 320.1,265.8 318.4,266.5" fill="#078563" stroke-width="0.68"/>
<polygon points="97.4,238.6 99.1,242.3 86.0,237.5 84.3,233.8" fill="#39a25f" stroke-width="0.71"/>
<polygon points="124.2,259.1 126.0,259.8 112.8,254.4 111.1,253.7" fill="#1b9162" stroke-width="0.62"/>
<polygon points="294.4,274.9 296.1,274.3 283.0,268.4 281.3,268.9" fill="#048364" stroke-width="0.67"/>
<polygon points="414.3,246.0 416.1,243.8 402.9,237.8 401.2,240.0" fill="#2e9c60" stroke-width="0.66"/>
<polygon points="434.9,202.7 436.6,196.6 423.5,190.8 421.8,196.8" fill="#6aba5b" stroke-width="0.75"/>
<polygon points="188.2,273.7 189.9,273.5 176.8,267.7 175.1,267.9" fill="#068464" stroke-width="0.65"/>
<polygon points="368.7,266.8 370.4,265.9 357.2,259.9 355.5,260.9" fill="#108b63" stroke-width="0.69"/>
<polygon points="154.5,268.7 156.2,268.9 143.1,263.2 141.4,263.1" fill="#0d8963" stroke-width="0.64"/>
<polygon points="412.6,248.2 414.3,246.0 401.2,240.0 399.5,242.2" fill="#2b9a60" stroke-width="0.66"/>
<polygon points="329.8,273.1 331.5,272.4 318.4,266.5 316.7,267.2" fill="#078563" stroke-width="0.68"/>
<polygon points="257.3,276.4 259.0,275.9 245.9,270.0 244.2,270.5" fill="#028264" stroke-width="0.67"/>
<polygon points="221.9,276.1 223.6,275.8 210.5,269.9 208.8,270.3" fill="#028264" stroke-width="0.66"/>
<polygon points="440.6,113.5 442.3,101.0 429.2,95.0 427.5,107.5" fill="#e5f250" stroke-width="0.75"/>
<polygon points="436.6,196.6 438.3,190.1 425.2,184.4 423.5,190.8" fill="#73be5a" stroke-width="0.75"/>
<polygon points="410.9,250.4 412.6,248.2 399.5,242.2 397.8,244.3" fill="#289961" stroke-width="0.66"/>
<polygon points="292.7,275.4 294.4,274.9 281.3,268.9 279.6,269.5" fill="#038364" stroke-width="0.67"/>
<polygon points="366.9,267.8 368.7,266.8 355.5,260.9 353.8,261.8" fill="#0f8b63" stroke-width="0.69"/>
<polygon points="122.5,258.2 124.2,259.1 111.1,253.7 109.4,252.9" fill="#1d9362" stroke-width="0.62"/>
<polygon points="186.5,273.9 188.2,273.7 175.1,267.9 173.4,268.1" fill="#068564" stroke-width="0.65"/>
<polygon points="409.2,252.4 410.9,250.4 397.8,244.3 396.1,246.4" fill="#269761" stroke-width="0.67"/>
<polygon points="328.1,273.7 329.8,273.1 316.7,267.2 315.0,267.8" fill="#068563" stroke-width="0.68"/>
<polygon points="438.3,190.1 440.0,183.8 426.9,178.1 425.2,184.4" fill="#7dc359" stroke-width="0.75"/>
<polygon points="255.6,276.9 257.3,276.4 244.2,270.5 242.5,271.0" fill="#028164" stroke-width="0.67"/>
<polygon points="152.8,268.6 154.5,268.7 141.4,263.1 139.7,262.9" fill="#0e8a63" stroke-width="0.64"/>
<polygon points="220.2,276.5 221.9,276.1 208.8,270.3 207.0,270.6" fill="#028264" stroke-width="0.66"/>
<polygon points="291.0,276.0 292.7,275.4 279.6,269.5 277.9,270.0" fill="#038364" stroke-width="0.67"/>
<polygon points="407.5,254.4 409.2,252.4 396.1,246.4 394.4,248.4" fill="#239661" stroke-width="0.67"/>
<polygon points="365.2,268.6 366.9,267.8 353.8,261.8 352.1,262.7" fill="#0e8a63" stroke-width="0.69"/>
<polygon points="184.8,274.0 186.5,273.9 173.4,268.1 171.6,268.3" fill="#078563" stroke-width="0.65"/>
<polygon points="440.0,183.8 441.8,177.2 428.6,171.5 426.9,178.1" fill="#86c758" stroke-width="0.75"/>
<polygon points="326.4,274.4 328.1,273.7 315.0,267.8 313.3,268.5" fill="#068564" stroke-width="0.68"/>
<polygon points="405.8,256.3 407.5,254.4 394.4,248.4 392.6,250.3" fill="#219561" stroke-width="0.68"/>
<polygon points="120.8,257.2 122.5,258.2 109.4,252.9 107.7,252.0" fill="#209461" stroke-width="0.62"/>
<polygon points="253.9,277.4 255.6,276.9 242.5,271.0 240.7,271.5" fill="#028164" stroke-width="0.67"/>
<polygon points="218.5,276.8 220.2,276.5 207.0,270.6 205.3,271.0" fill="#038264" stroke-width="0.66"/>
<polygon points="151.1,268.4 152.8,268.6 139.7,262.9 137.9,262.7" fill="#0f8b63" stroke-width="0.64"/>
<polygon points="363.5,269.5 365.2,268.6 352.1,262.7 350.4,263.6" fill="#0e8a63" stroke-width="0.69"/>
<polygon points="289.3,276.5 291.0,276.0 277.9,270.0 276.1,270.6" fill="#038364" stroke-width="0.67"/>
<polygon points="404.1,258.0 405.8,256.3 392.6,250.3 390.9,252.0" fill="#1f9461" stroke-width="0.68"/>
<polygon points="441.8,177.2 443.5,170.4 430.3,164.8 428.6,171.5" fill="#90cc57" stroke-width="0.75"/>
<polygon points="324.7,275.0 326.4,274.4 313.3,268.5 311.6,269.1" fill="#068564" stroke-width="0.68"/>
<polygon points="183.1,274.2 184.8,274.0 171.6,268.3 169.9,268.4" fill="#078563" stroke-width="0.65"/>
<polygon points="252.2,277.9 253.9,277.4 240.7,271.5 239.0,272.0" fill="#028164" stroke-width="0.67"/>
<polygon points="216.8,277.2 218.5,276.8 205.3,271.0 203.6,271.3" fill="#038264" stroke-width="0.66"/>
<polygon points="361.8,270.4 363.5,269.5 350.4,263.6 348.7,264.4" fill="#0d8963" stroke-width="0.69"/>
<polygon points="402.4,259.5 404.1,258.0 390.9,252.0 389.2,253.5" fill="#1d9362" stroke-width="0.69"/>
<polygon points="287.6,277.1 289.3,276.5 276.1,270.6 274.4,271.1" fill="#038364" stroke-width="0.67"/>
<polygon points="149.4,268.1 151.1,268.4 137.9,262.7 136.2,262.5" fill="#118b63" stroke-width="0.64"/>
<polygon points="119.1,255.9 120.8,257.2 107.7,252.0 106.0,250.8" fill="#239661" stroke-width="0.63"/>
<polygon points="443.5,170.4 445.2,163.1 432.1,157.4 430.3,164.8" fill="#9ad057" stroke-width="0.75"/>
<polygon points="323.0,275.7 324.7,275.0 311.6,269.1 309.8,269.7" fill="#068464" stroke-width="0.68"/>
<polygon points="400.6,260.9 402.4,259.5 389.2,253.5 387.5,254.9" fill="#1b9262" stroke-width="0.69"/>
<polygon points="181.3,274.3 183.1,274.2 169.9,268.4 168.2,268.5" fill="#088663" stroke-width="0.65"/>
<polygon points="250.4,278.3 252.2,277.9 239.0,272.0 237.3,272.5" fill="#028164" stroke-width="0.67"/>
<polygon points="360.1,271.3 361.8,270.4 348.7,264.4 347.0,265.3" fill="#0c8963" stroke-width="0.69"/>
<polygon points="215.0,277.5 216.8,277.2 203.6,271.3 201.9,271.7" fill="#038364" stroke-width="0.66"/>
<polygon points="285.9,277.6 287.6,277.1 274.4,271.1 272.7,271.7" fill="#038264" stroke-width="0.67"/>
<polygon points="398.9,262.3 400.6,260.9 387.5,254.9 385.8,256.3" fill="#1a9162" stroke-width="0.70"/>
<polygon points="147.7,267.8 149.4,268.1 136.2,262.5 134.5,262.2" fill="#128c63" stroke-width="0.64"/>
<polygon points="321.3,276.3 323.0,275.7 309.8,269.7 308.1,270.3" fill="#058464" stroke-width="0.68"/>
<polygon points="445.2,163.1 446.9,154.9 433.8,149.2 432.1,157.4" fill="#a4d556" stroke-width="0.75"/>
<polygon points="358.4,272.1 360.1,271.3 347.0,265.3 345.2,266.2" fill="#0c8863" stroke-width="0.69"/>
<polygon points="248.7,278.8 250.4,278.3 237.3,272.5 235.6,272.9" fill="#028164" stroke-width="0.67"/>
<polygon points="117.4,254.4 119.1,255.9 106.0,250.8 104.3,249.3" fill="#269761" stroke-width="0.63"/>
<polygon points="179.6,274.4 181.3,274.3 168.2,268.5 166.5,268.6" fill="#088663" stroke-width="0.65"/>
<polygon points="213.3,277.8 215.0,277.5 201.9,271.7 200.2,272.0" fill="#038364" stroke-width="0.66"/>
<polygon points="284.1,278.2 285.9,277.6 272.7,271.7 271.0,272.2" fill="#038264" stroke-width="0.67"/>
<polygon points="397.2,263.5 398.9,262.3 385.8,256.3 384.1,257.5" fill="#199062" stroke-width="0.70"/>
<polygon points="319.5,276.9 321.3,276.3 308.1,270.3 306.4,270.9" fill="#058464" stroke-width="0.68"/>
<polygon points="356.7,273.0 358.4,272.1 345.2,266.2 343.5,267.0" fill="#0b8863" stroke-width="0.69"/>
<polygon points="145.9,267.5 147.7,267.8 134.5,262.2 132.8,261.9" fill="#138d62" stroke-width="0.64"/>
<polygon points="247.0,279.2 248.7,278.8 235.6,272.9 233.9,273.4" fill="#028164" stroke-width="0.67"/>
<polygon points="395.5,264.7 397.2,263.5 384.1,257.5 382.4,258.7" fill="#178f62" stroke-width="0.70"/>
<polygon points="177.9,274.5 179.6,274.4 166.5,268.6 164.8,268.7" fill="#098763" stroke-width="0.65"/>
<polygon points="282.4,278.7 284.1,278.2 271.0,272.2 269.3,272.8" fill="#038264" stroke-width="0.67"/>
<polygon points="446.9,154.9 448.6,146.6 435.5,140.9 433.8,149.2" fill="#b0db55" stroke-width="0.75"/>
<polygon points="211.6,278.1 213.3,277.8 200.2,272.0 198.5,272.3" fill="#048364" stroke-width="0.66"/>
<polygon points="317.8,277.5 319.5,276.9 306.4,270.9 304.7,271.5" fill="#058464" stroke-width="0.68"/>
<polygon points="115.7,252.5 117.4,254.4 104.3,249.3 102.5,247.5" fill="#2a9a61" stroke-width="0.64"/>
<polygon points="355.0,273.8 356.7,273.0 343.5,267.0 341.8,267.9" fill="#0a8863" stroke-width="0.69"/>
<polygon points="393.8,265.9 395.5,264.7 382.4,258.7 380.7,259.9" fill="#168f62" stroke-width="0.70"/>
<polygon points="245.3,279.6 247.0,279.2 233.9,273.4 232.2,273.8" fill="#028264" stroke-width="0.67"/>
<polygon points="144.2,267.0 145.9,267.5 132.8,261.9 131.1,261.5" fill="#158e62" stroke-width="0.64"/>
<polygon points="280.7,279.3 282.4,278.7 269.3,272.8 267.6,273.3" fill="#028264" stroke-width="0.67"/>
<polygon points="176.2,274.5 177.9,274.5 164.8,268.7 163.1,268.8" fill="#0a8763" stroke-width="0.65"/>
<polygon points="209.9,278.4 211.6,278.1 198.5,272.3 196.8,272.6" fill="#048364" stroke-width="0.66"/>
<polygon points="353.2,274.6 355.0,273.8 341.8,267.9 340.1,268.7" fill="#0a8763" stroke-width="0.69"/>
<polygon points="316.1,278.0 317.8,277.5 304.7,271.5 303.0,272.1" fill="#058464" stroke-width="0.68"/>
<polygon points="448.6,146.6 450.3,138.3 437.2,132.5 435.5,140.9" fill="#bde053" stroke-width="0.75"/>
<polygon points="392.1,266.9 393.8,265.9 380.7,259.9 378.9,261.0" fill="#158e62" stroke-width="0.70"/>
<polygon points="243.6,280.1 245.3,279.6 232.2,273.8 230.5,274.2" fill="#028264" stroke-width="0.67"/>
<polygon points="279.0,279.8 280.7,279.3 267.6,273.3 265.9,273.9" fill="#028264" stroke-width="0.67"/>
<polygon points="208.2,278.6 209.9,278.4 196.8,272.6 195.1,272.8" fill="#048364" stroke-width="0.66"/>
<polygon points="174.5,274.6 176.2,274.5 163.1,268.8 161.4,268.9" fill="#0a8863" stroke-width="0.65"/>
<polygon points="114.0,250.2 115.7,252.5 102.5,247.5 100.8,245.4" fill="#2e9c60" stroke-width="0.65"/>
<polygon points="142.5,266.5 144.2,267.0 131.1,261.5 129.4,261.0" fill="#168f62" stroke-width="0.64"/>
<polygon points="351.5,275.4 353.2,274.6 340.1,268.7 338.4,269.5" fill="#098763" stroke-width="0.69"/>
<polygon points="390.4,268.0 392.1,266.9 378.9,261.0 377.2,262.0" fill="#148e62" stroke-width="0.70"/>
<polygon points="314.4,278.6 316.1,278.0 303.0,272.1 301.3,272.7" fill="#048464" stroke-width="0.68"/>
<polygon points="241.9,280.5 243.6,280.1 230.5,274.2 228.7,274.6" fill="#028264" stroke-width="0.67"/>
<polygon points="277.3,280.3 279.0,279.8 265.9,273.9 264.2,274.4" fill="#028264" stroke-width="0.67"/>
<polygon points="450.3,138.3 452.0,129.4 438.9,123.5 437.2,132.5" fill="#c9e552" stroke-width="0.75"/>
<polygon points="388.6,269.0 390.4,268.0 377.2,262.0 375.5,263.0" fill="#138d62" stroke-width="0.70"/>
<polygon points="349.8,276.2 351.5,275.4 338.4,269.5 336.7,270.3" fill="#098663" stroke-width="0.69"/>
<polygon points="206.5,278.9 208.2,278.6 195.1,272.8 193.3,273.1" fill="#058464" stroke-width="0.66"/>
<polygon points="172.8,274.6 174.5,274.6 161.4,268.9 159.6,268.9" fill="#0b8863" stroke-width="0.65"/>
<polygon points="312.7,279.2 314.4,278.6 301.3,272.7 299.6,273.2" fill="#048364" stroke-width="0.68"/>
<polygon points="140.8,265.9 142.5,266.5 129.4,261.0 127.7,260.5" fill="#189062" stroke-width="0.64"/>
<polygon points="240.2,280.8 241.9,280.5 228.7,274.6 227.0,275.0" fill="#028264" stroke-width="0.67"/>
<polygon points="275.6,280.8 277.3,280.3 264.2,274.4 262.4,274.9" fill="#028264" stroke-width="0.67"/>
<polygon points="386.9,270.0 388.6,269.0 375.5,263.0 373.8,264.0" fill="#128c62" stroke-width="0.70"/>
<polygon points="348.1,276.9 349.8,276.2 336.7,270.3 335.0,271.0" fill="#088663" stroke-width="0.69"/>
<polygon points="112.2,247.1 114.0,250.2 100.8,245.4 99.1,242.3" fill="#349f60" stroke-width="0.68"/>
<polygon points="311.0,279.7 312.7,279.2 299.6,273.2 297.8,273.8" fill="#048364" stroke-width="0.68"/>
<polygon points="204.8,279.1 206.5,278.9 193.3,273.1 191.6,273.3" fill="#058464" stroke-width="0.66"/>
<polygon points="171.1,274.6 172.8,274.6 159.6,268.9 157.9,268.9" fill="#0c8963" stroke-width="0.65"/>
<polygon points="437.8,235.7 439.5,232.0 426.3,225.8 424.6,229.6" fill="#44a75e" stroke-width="0.71"/>
<polygon points="436.0,239.2 437.8,235.7 424.6,229.6 422.9,233.0" fill="#3fa55f" stroke-width="0.69"/>
<polygon points="439.5,232.0 441.2,227.9 428.1,221.7 426.3,225.8" fill="#49aa5e" stroke-width="0.72"/>
<polygon points="452.0,129.4 453.8,119.4 440.6,113.5 438.9,123.5" fill="#d6eb51" stroke-width="0.75"/>
<polygon points="434.3,242.3 436.0,239.2 422.9,233.0 421.2,236.2" fill="#3aa25f" stroke-width="0.68"/>
<polygon points="441.2,227.9 442.9,223.5 429.8,217.4 428.1,221.7" fill="#4fad5d" stroke-width="0.73"/>
<polygon points="385.2,270.9 386.9,270.0 373.8,264.0 372.1,265.0" fill="#128c63" stroke-width="0.70"/>
<polygon points="139.1,265.2 140.8,265.9 127.7,260.5 126.0,259.8" fill="#1a9162" stroke-width="0.64"/>
<polygon points="238.5,281.2 240.2,280.8 227.0,275.0 225.3,275.4" fill="#028264" stroke-width="0.67"/>
<polygon points="273.9,281.4 275.6,280.8 262.4,274.9 260.7,275.4" fill="#028264" stroke-width="0.67"/>
<polygon points="442.9,223.5 444.6,219.2 431.5,213.2 429.8,217.4" fill="#55b05d" stroke-width="0.73"/>
<polygon points="346.4,277.6 348.1,276.9 335.0,271.0 333.3,271.7" fill="#088663" stroke-width="0.69"/>
<polygon points="432.6,245.1 434.3,242.3 421.2,236.2 419.5,239.0" fill="#37a05f" stroke-width="0.67"/>
<polygon points="444.6,219.2 446.3,214.3 433.2,208.3 431.5,213.2" fill="#5bb35c" stroke-width="0.75"/>
<polygon points="309.3,280.3 311.0,279.7 297.8,273.8 296.1,274.3" fill="#048364" stroke-width="0.68"/>
<polygon points="430.9,247.6 432.6,245.1 419.5,239.0 417.8,241.5" fill="#339f60" stroke-width="0.65"/>
<polygon points="203.0,279.3 204.8,279.1 191.6,273.3 189.9,273.5" fill="#058464" stroke-width="0.66"/>
<polygon points="169.4,274.5 171.1,274.6 157.9,268.9 156.2,268.9" fill="#0d8963" stroke-width="0.65"/>
<polygon points="446.3,214.3 448.0,208.6 434.9,202.7 433.2,208.3" fill="#62b65c" stroke-width="0.75"/>
<polygon points="383.5,271.9 385.2,270.9 372.1,265.0 370.4,265.9" fill="#118b63" stroke-width="0.70"/>
<polygon points="429.2,249.9 430.9,247.6 417.8,241.5 416.1,243.8" fill="#309d60" stroke-width="0.66"/>
<polygon points="272.1,281.8 273.9,281.4 260.7,275.4 259.0,275.9" fill="#028264" stroke-width="0.67"/>
<polygon points="236.7,281.6 238.5,281.2 225.3,275.4 223.6,275.8" fill="#028264" stroke-width="0.67"/>
<polygon points="344.7,278.3 346.4,277.6 333.3,271.7 331.5,272.4" fill="#078663" stroke-width="0.69"/>
<polygon points="137.4,264.4 139.1,265.2 126.0,259.8 124.2,259.1" fill="#1c9262" stroke-width="0.64"/>
<polygon points="427.5,252.1 429.2,249.9 416.1,243.8 414.3,246.0" fill="#2e9c60" stroke-width="0.66"/>
<polygon points="307.6,280.9 309.3,280.3 296.1,274.3 294.4,274.9" fill="#048364" stroke-width="0.68"/>
<polygon points="448.0,208.6 449.8,202.4 436.6,196.6 434.9,202.7" fill="#6bba5b" stroke-width="0.75"/>
<polygon points="110.5,243.1 112.2,247.1 99.1,242.3 97.4,238.6" fill="#3ba35f" stroke-width="0.71"/>
<polygon points="201.3,279.5 203.0,279.3 189.9,273.5 188.2,273.7" fill="#068564" stroke-width="0.66"/>
<polygon points="381.8,272.8 383.5,271.9 370.4,265.9 368.7,266.8" fill="#108b63" stroke-width="0.70"/>
<polygon points="425.8,254.3 427.5,252.1 414.3,246.0 412.6,248.2" fill="#2b9a60" stroke-width="0.67"/>
<polygon points="167.6,274.4 169.4,274.5 156.2,268.9 154.5,268.7" fill="#0e8a63" stroke-width="0.65"/>
<polygon points="343.0,279.0 344.7,278.3 331.5,272.4 329.8,273.1" fill="#078563" stroke-width="0.69"/>
<polygon points="270.4,282.3 272.1,281.8 259.0,275.9 257.3,276.4" fill="#028264" stroke-width="0.67"/>
<polygon points="235.0,281.9 236.7,281.6 223.6,275.8 221.9,276.1" fill="#028264" stroke-width="0.67"/>
<polygon points="453.8,119.4 455.5,106.9 442.3,101.0 440.6,113.5" fill="#e5f250" stroke-width="0.75"/>
<polygon points="449.8,202.4 451.5,195.8 438.3,190.1 436.6,196.6" fill="#74be5a" stroke-width="0.75"/>
<polygon points="424.1,256.4 425.8,254.3 412.6,248.2 410.9,250.4" fill="#289961" stroke-width="0.67"/>
<polygon points="305.8,281.4 307.6,280.9 294.4,274.9 292.7,275.4" fill="#048364" stroke-width="0.68"/>
<polygon points="380.1,273.7 381.8,272.8 368.7,266.8 366.9,267.8" fill="#0f8b63" stroke-width="0.70"/>
<polygon points="199.6,279.7 201.3,279.5 188.2,273.7 186.5,273.9" fill="#068563" stroke-width="0.66"/>
<polygon points="135.7,263.5 137.4,264.4 124.2,259.1 122.5,258.2" fill="#1e9361" stroke-width="0.64"/>
<polygon points="422.3,258.4 424.1,256.4 410.9,250.4 409.2,252.4" fill="#259761" stroke-width="0.67"/>
<polygon points="341.2,279.7 343.0,279.0 329.8,273.1 328.1,273.7" fill="#078563" stroke-width="0.69"/>
<polygon points="268.7,282.8 270.4,282.3 257.3,276.4 255.6,276.9" fill="#028264" stroke-width="0.67"/>
<polygon points="451.5,195.8 453.2,189.5 440.0,183.8 438.3,190.1" fill="#7dc359" stroke-width="0.75"/>
<polygon points="165.9,274.2 167.6,274.4 154.5,268.7 152.8,268.6" fill="#0f8a63" stroke-width="0.65"/>
<polygon points="233.3,282.3 235.0,281.9 221.9,276.1 220.2,276.5" fill="#038264" stroke-width="0.67"/>
<polygon points="304.1,281.9 305.8,281.4 292.7,275.4 291.0,276.0" fill="#038364" stroke-width="0.68"/>
<polygon points="420.6,260.4 422.3,258.4 409.2,252.4 407.5,254.4" fill="#239661" stroke-width="0.67"/>
<polygon points="378.4,274.6 380.1,273.7 366.9,267.8 365.2,268.6" fill="#0e8a63" stroke-width="0.70"/>
<polygon points="197.9,279.8 199.6,279.7 186.5,273.9 184.8,274.0" fill="#078563" stroke-width="0.66"/>
<polygon points="339.5,280.3 341.2,279.7 328.1,273.7 326.4,274.4" fill="#068564" stroke-width="0.69"/>
<polygon points="453.2,189.5 454.9,182.9 441.8,177.2 440.0,183.8" fill="#87c758" stroke-width="0.75"/>
<polygon points="418.9,262.3 420.6,260.4 407.5,254.4 405.8,256.3" fill="#219561" stroke-width="0.68"/>
<polygon points="267.0,283.3 268.7,282.8 255.6,276.9 253.9,277.4" fill="#028264" stroke-width="0.67"/>
<polygon points="231.6,282.7 233.3,282.3 220.2,276.5 218.5,276.8" fill="#038264" stroke-width="0.67"/>
<polygon points="133.9,262.4 135.7,263.5 122.5,258.2 120.8,257.2" fill="#219561" stroke-width="0.64"/>
<polygon points="376.7,275.5 378.4,274.6 365.2,268.6 363.5,269.5" fill="#0e8a63" stroke-width="0.70"/>
<polygon points="164.2,274.0 165.9,274.2 152.8,268.6 151.1,268.4" fill="#108b63" stroke-width="0.65"/>
<polygon points="302.4,282.5 304.1,281.9 291.0,276.0 289.3,276.5" fill="#038364" stroke-width="0.68"/>
<polygon points="417.2,264.0 418.9,262.3 405.8,256.3 404.1,258.0" fill="#1f9461" stroke-width="0.69"/>
<polygon points="454.9,182.9 456.6,176.1 443.5,170.4 441.8,177.2" fill="#90cc57" stroke-width="0.75"/>
<polygon points="337.8,281.0 339.5,280.3 326.4,274.4 324.7,275.0" fill="#068564" stroke-width="0.69"/>
<polygon points="196.2,279.9 197.9,279.8 184.8,274.0 183.1,274.2" fill="#088663" stroke-width="0.66"/>
<polygon points="265.3,283.7 267.0,283.3 253.9,277.4 252.2,277.9" fill="#028264" stroke-width="0.67"/>
<polygon points="374.9,276.3 376.7,275.5 363.5,269.5 361.8,270.4" fill="#0d8963" stroke-width="0.70"/>
<polygon points="415.5,265.5 417.2,264.0 404.1,258.0 402.4,259.5" fill="#1d9362" stroke-width="0.70"/>
<polygon points="229.9,283.0 231.6,282.7 218.5,276.8 216.8,277.2" fill="#038364" stroke-width="0.67"/>
<polygon points="300.7,283.0 302.4,282.5 289.3,276.5 287.6,277.1" fill="#038364" stroke-width="0.68"/>
<polygon points="162.5,273.7 164.2,274.0 151.1,268.4 149.4,268.1" fill="#118c63" stroke-width="0.65"/>
<polygon points="132.2,261.0 133.9,262.4 120.8,257.2 119.1,255.9" fill="#249761" stroke-width="0.64"/>
<polygon points="336.1,281.6 337.8,281.0 324.7,275.0 323.0,275.7" fill="#068464" stroke-width="0.69"/>
<polygon points="456.6,176.1 458.3,168.7 445.2,163.1 443.5,170.4" fill="#9ad057" stroke-width="0.75"/>
<polygon points="413.8,266.9 415.5,265.5 402.4,259.5 400.6,260.9" fill="#1b9262" stroke-width="0.70"/>
<polygon points="194.5,280.0 196.2,279.9 183.1,274.2 181.3,274.3" fill="#088663" stroke-width="0.66"/>
<polygon points="263.6,284.2 265.3,283.7 252.2,277.9 250.4,278.3" fill="#028264" stroke-width="0.67"/>
<polygon points="373.2,277.2 374.9,276.3 361.8,270.4 360.1,271.3" fill="#0c8963" stroke-width="0.70"/>
<polygon points="228.2,283.3 229.9,283.0 216.8,277.2 215.0,277.5" fill="#038364" stroke-width="0.67"/>
<polygon points="299.0,283.6 300.7,283.0 287.6,277.1 285.9,277.6" fill="#038364" stroke-width="0.68"/>
<polygon points="412.1,268.3 413.8,266.9 400.6,260.9 398.9,262.3" fill="#1a9162" stroke-width="0.70"/>
<polygon points="334.4,282.2 336.1,281.6 323.0,275.7 321.3,276.3" fill="#058464" stroke-width="0.69"/>
<polygon points="160.8,273.4 162.5,273.7 149.4,268.1 147.7,267.8" fill="#138d62" stroke-width="0.65"/>
<polygon points="371.5,278.0 373.2,277.2 360.1,271.3 358.4,272.1" fill="#0c8863" stroke-width="0.70"/>
<polygon points="458.3,168.7 460.0,160.6 446.9,154.9 445.2,163.1" fill="#a5d556" stroke-width="0.75"/>
<polygon points="261.9,284.6 263.6,284.2 250.4,278.3 248.7,278.8" fill="#028264" stroke-width="0.67"/>
<polygon points="192.8,280.1 194.5,280.0 181.3,274.3 179.6,274.4" fill="#098763" stroke-width="0.66"/>
<polygon points="297.3,284.1 299.0,283.6 285.9,277.6 284.1,278.2" fill="#038264" stroke-width="0.68"/>
<polygon points="226.5,283.6 228.2,283.3 215.0,277.5 213.3,277.8" fill="#048364" stroke-width="0.67"/>
<polygon points="130.5,259.3 132.2,261.0 119.1,255.9 117.4,254.4" fill="#289861" stroke-width="0.64"/>
<polygon points="410.3,269.5 412.1,268.3 398.9,262.3 397.2,263.5" fill="#199062" stroke-width="0.71"/>
<polygon points="332.7,282.8 334.4,282.2 321.3,276.3 319.5,276.9" fill="#058464" stroke-width="0.69"/>
<polygon points="369.8,278.9 371.5,278.0 358.4,272.1 356.7,273.0" fill="#0b8863" stroke-width="0.70"/>
<polygon points="159.1,273.0 160.8,273.4 147.7,267.8 145.9,267.5" fill="#148d62" stroke-width="0.65"/>
<polygon points="260.2,285.1 261.9,284.6 248.7,278.8 247.0,279.2" fill="#028264" stroke-width="0.67"/>
<polygon points="408.6,270.7 410.3,269.5 397.2,263.5 395.5,264.7" fill="#178f62" stroke-width="0.71"/>
<polygon points="295.6,284.6 297.3,284.1 284.1,278.2 282.4,278.7" fill="#038264" stroke-width="0.68"/>
<polygon points="191.1,280.2 192.8,280.1 179.6,274.4 177.9,274.5" fill="#098763" stroke-width="0.66"/>
<polygon points="224.7,283.9 226.5,283.6 213.3,277.8 211.6,278.1" fill="#048364" stroke-width="0.67"/>
<polygon points="460.0,160.6 461.7,152.4 448.6,146.6 446.9,154.9" fill="#b1db54" stroke-width="0.75"/>
<polygon points="331.0,283.4 332.7,282.8 319.5,276.9 317.8,277.5" fill="#058464" stroke-width="0.69"/>
<polygon points="368.1,279.7 369.8,278.9 356.7,273.0 355.0,273.8" fill="#0a8863" stroke-width="0.70"/>
<polygon points="406.9,271.9 408.6,270.7 395.5,264.7 393.8,265.9" fill="#168f62" stroke-width="0.71"/>
<polygon points="128.8,257.3 130.5,259.3 117.4,254.4 115.7,252.5" fill="#2c9b60" stroke-width="0.64"/>
<polygon points="258.4,285.5 260.2,285.1 247.0,279.2 245.3,279.6" fill="#028264" stroke-width="0.67"/>
<polygon points="293.8,285.2 295.6,284.6 282.4,278.7 280.7,279.3" fill="#038264" stroke-width="0.68"/>
<polygon points="157.4,272.5 159.1,273.0 145.9,267.5 144.2,267.0" fill="#168e62" stroke-width="0.65"/>
<polygon points="189.3,280.3 191.1,280.2 177.9,274.5 176.2,274.5" fill="#0a8763" stroke-width="0.66"/>
<polygon points="223.0,284.2 224.7,283.9 211.6,278.1 209.9,278.4" fill="#048364" stroke-width="0.67"/>
<polygon points="366.4,280.5 368.1,279.7 355.0,273.8 353.2,274.6" fill="#0a8763" stroke-width="0.70"/>
<polygon points="329.3,284.0 331.0,283.4 317.8,277.5 316.1,278.0" fill="#058464" stroke-width="0.69"/>
<polygon points="405.2,272.9 406.9,271.9 393.8,265.9 392.1,266.9" fill="#158e62" stroke-width="0.71"/>
<polygon points="461.7,152.4 463.5,144.1 450.3,138.3 448.6,146.6" fill="#bde053" stroke-width="0.75"/>
<polygon points="256.7,285.9 258.4,285.5 245.3,279.6 243.6,280.1" fill="#028264" stroke-width="0.67"/>
<polygon points="292.1,285.7 293.8,285.2 280.7,279.3 279.0,279.8" fill="#028264" stroke-width="0.68"/>
<polygon points="221.3,284.4 223.0,284.2 209.9,278.4 208.2,278.6" fill="#058464" stroke-width="0.67"/>
<polygon points="187.6,280.3 189.3,280.3 176.2,274.5 174.5,274.6" fill="#0b8863" stroke-width="0.66"/>
<polygon points="364.7,281.3 366.4,280.5 353.2,274.6 351.5,275.4" fill="#098763" stroke-width="0.70"/>
<polygon points="403.5,274.0 405.2,272.9 392.1,266.9 390.4,268.0" fill="#148e62" stroke-width="0.71"/>
<polygon points="155.6,271.9 157.4,272.5 144.2,267.0 142.5,266.5" fill="#178f62" stroke-width="0.65"/>
<polygon points="327.5,284.6 329.3,284.0 316.1,278.0 314.4,278.6" fill="#048464" stroke-width="0.69"/>
<polygon points="127.1,254.9 128.8,257.3 115.7,252.5 114.0,250.2" fill="#309d60" stroke-width="0.65"/>
<polygon points="255.0,286.3 256.7,285.9 243.6,280.1 241.9,280.5" fill="#028264" stroke-width="0.67"/>
<polygon points="290.4,286.2 292.1,285.7 279.0,279.8 277.3,280.3" fill="#028264" stroke-width="0.68"/>
<polygon points="463.5,144.1 465.2,135.3 452.0,129.4 450.3,138.3" fill="#c9e652" stroke-width="0.75"/>
<polygon points="401.8,275.0 403.5,274.0 390.4,268.0 388.6,269.0" fill="#138d62" stroke-width="0.71"/>
<polygon points="362.9,282.1 364.7,281.3 351.5,275.4 349.8,276.2" fill="#098763" stroke-width="0.70"/>
<polygon points="219.6,284.6 221.3,284.4 208.2,278.6 206.5,278.9" fill="#058464" stroke-width="0.67"/>
<polygon points="325.8,285.1 327.5,284.6 314.4,278.6 312.7,279.2" fill="#048364" stroke-width="0.69"/>
<polygon points="185.9,280.3 187.6,280.3 174.5,274.6 172.8,274.6" fill="#0c8863" stroke-width="0.66"/>
<polygon points="153.9,271.3 155.6,271.9 142.5,266.5 140.8,265.9" fill="#199062" stroke-width="0.65"/>
<polygon points="253.3,286.7 255.0,286.3 241.9,280.5 240.2,280.8" fill="#028264" stroke-width="0.67"/>
<polygon points="288.7,286.8 290.4,286.2 277.3,280.3 275.6,280.8" fill="#028264" stroke-width="0.68"/>
<polygon points="400.1,276.0 401.8,275.0 388.6,269.0 386.9,270.0" fill="#128c62" stroke-width="0.71"/>
<polygon points="361.2,282.8 362.9,282.1 349.8,276.2 348.1,276.9" fill="#088663" stroke-width="0.70"/>
<polygon points="324.1,285.7 325.8,285.1 312.7,279.2 311.0,279.7" fill="#048364" stroke-width="0.69"/>
<polygon points="217.9,284.9 219.6,284.6 206.5,278.9 204.8,279.1" fill="#058464" stroke-width="0.67"/>
<polygon points="125.4,251.6 127.1,254.9 114.0,250.2 112.2,247.1" fill="#36a05f" stroke-width="0.68"/>
<polygon points="450.9,241.9 452.6,238.1 439.5,232.0 437.8,235.7" fill="#43a75e" stroke-width="0.71"/>
<polygon points="184.2,280.3 185.9,280.3 172.8,274.6 171.1,274.6" fill="#0d8963" stroke-width="0.66"/>
<polygon points="449.2,245.3 450.9,241.9 437.8,235.7 436.0,239.2" fill="#3fa45f" stroke-width="0.69"/>
<polygon points="452.6,238.1 454.3,234.0 441.2,227.9 439.5,232.0" fill="#49aa5e" stroke-width="0.72"/>
<polygon points="465.2,135.3 466.9,125.4 453.8,119.4 452.0,129.4" fill="#d6eb51" stroke-width="0.75"/>
<polygon points="447.5,248.5 449.2,245.3 436.0,239.2 434.3,242.3" fill="#3aa25f" stroke-width="0.68"/>
<polygon points="454.3,234.0 456.0,229.7 442.9,223.5 441.2,227.9" fill="#4fad5d" stroke-width="0.73"/>
<polygon points="398.4,276.9 400.1,276.0 386.9,270.0 385.2,270.9" fill="#128c63" stroke-width="0.71"/>
<polygon points="456.0,229.7 457.7,225.3 444.6,219.2 442.9,223.5" fill="#55b05d" stroke-width="0.73"/>
<polygon points="251.6,287.1 253.3,286.7 240.2,280.8 238.5,281.2" fill="#028264" stroke-width="0.67"/>
<polygon points="287.0,287.3 288.7,286.8 275.6,280.8 273.9,281.4" fill="#028264" stroke-width="0.68"/>
<polygon points="445.8,251.3 447.5,248.5 434.3,242.3 432.6,245.1" fill="#36a05f" stroke-width="0.66"/>
<polygon points="359.5,283.5 361.2,282.8 348.1,276.9 346.4,277.6" fill="#088663" stroke-width="0.70"/>
<polygon points="152.2,270.5 153.9,271.3 140.8,265.9 139.1,265.2" fill="#1b9262" stroke-width="0.65"/>
<polygon points="457.7,225.3 459.5,220.3 446.3,214.3 444.6,219.2" fill="#5bb35c" stroke-width="0.75"/>
<polygon points="322.4,286.3 324.1,285.7 311.0,279.7 309.3,280.3" fill="#048364" stroke-width="0.69"/>
<polygon points="444.0,253.7 445.8,251.3 432.6,245.1 430.9,247.6" fill="#339f60" stroke-width="0.65"/>
<polygon points="216.2,285.1 217.9,284.9 204.8,279.1 203.0,279.3" fill="#068564" stroke-width="0.67"/>
<polygon points="459.5,220.3 461.2,214.5 448.0,208.6 446.3,214.3" fill="#62b65c" stroke-width="0.75"/>
<polygon points="396.6,277.9 398.4,276.9 385.2,270.9 383.5,271.9" fill="#118c63" stroke-width="0.71"/>
<polygon points="182.5,280.2 184.2,280.3 171.1,274.6 169.4,274.5" fill="#0d8963" stroke-width="0.66"/>
<polygon points="442.3,256.0 444.0,253.7 430.9,247.6 429.2,249.9" fill="#309d60" stroke-width="0.66"/>
<polygon points="285.3,287.7 287.0,287.3 273.9,281.4 272.1,281.8" fill="#028264" stroke-width="0.68"/>
<polygon points="357.8,284.2 359.5,283.5 346.4,277.6 344.7,278.3" fill="#078663" stroke-width="0.70"/>
<polygon points="249.9,287.4 251.6,287.1 238.5,281.2 236.7,281.6" fill="#038264" stroke-width="0.67"/>
<polygon points="440.6,258.1 442.3,256.0 429.2,249.9 427.5,252.1" fill="#2e9c60" stroke-width="0.67"/>
<polygon points="320.7,286.8 322.4,286.3 309.3,280.3 307.6,280.9" fill="#048364" stroke-width="0.69"/>
<polygon points="461.2,214.5 462.9,208.2 449.8,202.4 448.0,208.6" fill="#6bba5b" stroke-width="0.75"/>
<polygon points="150.5,269.6 152.2,270.5 139.1,265.2 137.4,264.4" fill="#1d9362" stroke-width="0.65"/>
<polygon points="214.5,285.3 216.2,285.1 203.0,279.3 201.3,279.5" fill="#068563" stroke-width="0.67"/>
<polygon points="394.9,278.8 396.6,277.9 383.5,271.9 381.8,272.8" fill="#108b63" stroke-width="0.71"/>
<polygon points="438.9,260.3 440.6,258.1 427.5,252.1 425.8,254.3" fill="#2b9a60" stroke-width="0.67"/>
<polygon points="123.7,247.5 125.4,251.6 112.2,247.1 110.5,243.1" fill="#3ea45f" stroke-width="0.72"/>
<polygon points="356.1,284.9 357.8,284.2 344.7,278.3 343.0,279.0" fill="#078563" stroke-width="0.70"/>
<polygon points="180.8,280.0 182.5,280.2 169.4,274.5 167.6,274.4" fill="#0e8a63" stroke-width="0.66"/>
<polygon points="283.6,288.2 285.3,287.7 272.1,281.8 270.4,282.3" fill="#028264" stroke-width="0.68"/>
<polygon points="248.2,287.8 249.9,287.4 236.7,281.6 235.0,281.9" fill="#038264" stroke-width="0.67"/>
<polygon points="466.9,125.4 468.6,112.8 455.5,106.9 453.8,119.4" fill="#e5f250" stroke-width="0.75"/>
<polygon points="462.9,208.2 464.6,201.6 451.5,195.8 449.8,202.4" fill="#74bf5a" stroke-width="0.75"/>
<polygon points="437.2,262.4 438.9,260.3 425.8,254.3 424.1,256.4" fill="#289961" stroke-width="0.67"/>
<polygon points="319.0,287.4 320.7,286.8 307.6,280.9 305.8,281.4" fill="#048364" stroke-width="0.69"/>
<polygon points="393.2,279.7 394.9,278.8 381.8,272.8 380.1,273.7" fill="#0f8b63" stroke-width="0.71"/>
<polygon points="212.8,285.4 214.5,285.3 201.3,279.5 199.6,279.7" fill="#078563" stroke-width="0.67"/>
<polygon points="435.5,264.5 437.2,262.4 424.1,256.4 422.3,258.4" fill="#259761" stroke-width="0.67"/>
<polygon points="354.4,285.6 356.1,284.9 343.0,279.0 341.2,279.7" fill="#078563" stroke-width="0.70"/>
<polygon points="148.8,268.6 150.5,269.6 137.4,264.4 135.7,263.5" fill="#209461" stroke-width="0.65"/>
<polygon points="281.9,288.7 283.6,288.2 270.4,282.3 268.7,282.8" fill="#028264" stroke-width="0.68"/>
<polygon points="464.6,201.6 466.3,195.2 453.2,189.5 451.5,195.8" fill="#7ec359" stroke-width="0.75"/>
<polygon points="246.4,288.1 248.2,287.8 235.0,281.9 233.3,282.3" fill="#038364" stroke-width="0.67"/>
<polygon points="179.1,279.8 180.8,280.0 167.6,274.4 165.9,274.2" fill="#108b63" stroke-width="0.66"/>
<polygon points="317.3,287.9 319.0,287.4 305.8,281.4 304.1,281.9" fill="#038364" stroke-width="0.69"/>
<polygon points="433.8,266.4 435.5,264.5 422.3,258.4 420.6,260.4" fill="#239661" stroke-width="0.68"/>
<polygon points="391.5,280.6 393.2,279.7 380.1,273.7 378.4,274.6" fill="#0f8a63" stroke-width="0.71"/>
<polygon points="211.0,285.6 212.8,285.4 199.6,279.7 197.9,279.8" fill="#078663" stroke-width="0.67"/>
<polygon points="352.7,286.2 354.4,285.6 341.2,279.7 339.5,280.3" fill="#068563" stroke-width="0.70"/>
<polygon points="432.0,268.3 433.8,266.4 420.6,260.4 418.9,262.3" fill="#219561" stroke-width="0.69"/>
<polygon points="466.3,195.2 468.0,188.5 454.9,182.9 453.2,189.5" fill="#87c858" stroke-width="0.75"/>
<polygon points="280.1,289.2 281.9,288.7 268.7,282.8 267.0,283.3" fill="#028264" stroke-width="0.68"/>
<polygon points="244.7,288.5 246.4,288.1 233.3,282.3 231.6,282.7" fill="#038364" stroke-width="0.67"/>
<polygon points="389.8,281.4 391.5,280.6 378.4,274.6 376.7,275.5" fill="#0e8a63" stroke-width="0.71"/>
<polygon points="315.5,288.4 317.3,287.9 304.1,281.9 302.4,282.5" fill="#038364" stroke-width="0.69"/>
<polygon points="177.3,279.6 179.1,279.8 165.9,274.2 164.2,274.0" fill="#118b63" stroke-width="0.66"/>
<polygon points="147.1,267.4 148.8,268.6 135.7,263.5 133.9,262.4" fill="#239661" stroke-width="0.65"/>
<polygon points="430.3,270.0 432.0,268.3 418.9,262.3 417.2,264.0" fill="#1f9461" stroke-width="0.70"/>
<polygon points="351.0,286.9 352.7,286.2 339.5,280.3 337.8,281.0" fill="#068564" stroke-width="0.70"/>
<polygon points="468.0,188.5 469.7,181.8 456.6,176.1 454.9,182.9" fill="#91cc57" stroke-width="0.75"/>
<polygon points="209.3,285.7 211.0,285.6 197.9,279.8 196.2,279.9" fill="#088663" stroke-width="0.67"/>
<polygon points="278.4,289.6 280.1,289.2 267.0,283.3 265.3,283.7" fill="#028264" stroke-width="0.68"/>
<polygon points="388.1,282.3 389.8,281.4 376.7,275.5 374.9,276.3" fill="#0d8963" stroke-width="0.71"/>
<polygon points="428.6,271.5 430.3,270.0 417.2,264.0 415.5,265.5" fill="#1d9362" stroke-width="0.70"/>
<polygon points="243.0,288.8 244.7,288.5 231.6,282.7 229.9,283.0" fill="#038364" stroke-width="0.67"/>
<polygon points="313.8,289.0 315.5,288.4 302.4,282.5 300.7,283.0" fill="#038364" stroke-width="0.69"/>
<polygon points="175.6,279.3 177.3,279.6 164.2,274.0 162.5,273.7" fill="#128c63" stroke-width="0.66"/>
<polygon points="349.2,287.5 351.0,286.9 337.8,281.0 336.1,281.6" fill="#068564" stroke-width="0.70"/>
<polygon points="426.9,272.9 428.6,271.5 415.5,265.5 413.8,266.9" fill="#1b9262" stroke-width="0.71"/>
<polygon points="469.7,181.8 471.5,174.4 458.3,168.7 456.6,176.1" fill="#9bd156" stroke-width="0.75"/>
<polygon points="145.4,265.9 147.1,267.4 133.9,262.4 132.2,261.0" fill="#269761" stroke-width="0.65"/>
<polygon points="386.4,283.1 388.1,282.3 374.9,276.3 373.2,277.2" fill="#0d8963" stroke-width="0.71"/>
<polygon points="276.7,290.1 278.4,289.6 265.3,283.7 263.6,284.2" fill="#028264" stroke-width="0.68"/>
<polygon points="207.6,285.8 209.3,285.7 196.2,279.9 194.5,280.0" fill="#098663" stroke-width="0.67"/>
<polygon points="241.3,289.1 243.0,288.8 229.9,283.0 228.2,283.3" fill="#048364" stroke-width="0.67"/>
<polygon points="312.1,289.5 313.8,289.0 300.7,283.0 299.0,283.6" fill="#038364" stroke-width="0.69"/>
<polygon points="425.2,274.3 426.9,272.9 413.8,266.9 412.1,268.3" fill="#1a9162" stroke-width="0.71"/>
<polygon points="347.5,288.1 349.2,287.5 336.1,281.6 334.4,282.2" fill="#068464" stroke-width="0.70"/>
<polygon points="173.9,278.9 175.6,279.3 162.5,273.7 160.8,273.4" fill="#138d62" stroke-width="0.66"/>
<polygon points="384.6,284.0 386.4,283.1 373.2,277.2 371.5,278.0" fill="#0c8963" stroke-width="0.71"/>
<polygon points="275.0,290.5 276.7,290.1 263.6,284.2 261.9,284.6" fill="#028264" stroke-width="0.68"/>
<polygon points="471.5,174.4 473.2,166.2 460.0,160.6 458.3,168.7" fill="#a5d656" stroke-width="0.75"/>
<polygon points="205.9,285.8 207.6,285.8 194.5,280.0 192.8,280.1" fill="#098763" stroke-width="0.67"/>
<polygon points="310.4,290.0 312.1,289.5 299.0,283.6 297.3,284.1" fill="#038364" stroke-width="0.69"/>
<polygon points="239.6,289.4 241.3,289.1 228.2,283.3 226.5,283.6" fill="#048364" stroke-width="0.67"/>
<polygon points="423.5,275.5 425.2,274.3 412.1,268.3 410.3,269.5" fill="#199062" stroke-width="0.71"/>
<polygon points="143.7,264.2 145.4,265.9 132.2,261.0 130.5,259.3" fill="#299961" stroke-width="0.65"/>
<polygon points="345.8,288.7 347.5,288.1 334.4,282.2 332.7,282.8" fill="#058464" stroke-width="0.70"/>
<polygon points="382.9,284.8 384.6,284.0 371.5,278.0 369.8,278.9" fill="#0b8863" stroke-width="0.71"/>
<polygon points="273.3,290.9 275.0,290.5 261.9,284.6 260.2,285.1" fill="#028264" stroke-width="0.68"/>
<polygon points="421.8,276.7 423.5,275.5 410.3,269.5 408.6,270.7" fill="#178f62" stroke-width="0.72"/>
<polygon points="172.2,278.5 173.9,278.9 160.8,273.4 159.1,273.0" fill="#158e62" stroke-width="0.66"/>
<polygon points="308.7,290.6 310.4,290.0 297.3,284.1 295.6,284.6" fill="#038264" stroke-width="0.69"/>
<polygon points="204.2,285.9 205.9,285.8 192.8,280.1 191.1,280.2" fill="#0a8763" stroke-width="0.67"/>
<polygon points="237.9,289.7 239.6,289.4 226.5,283.6 224.7,283.9" fill="#048464" stroke-width="0.67"/>
<polygon points="473.2,166.2 474.9,158.1 461.7,152.4 460.0,160.6" fill="#b1db54" stroke-width="0.75"/>
<polygon points="344.1,289.3 345.8,288.7 332.7,282.8 331.0,283.4" fill="#058464" stroke-width="0.70"/>
<polygon points="381.2,285.6 382.9,284.8 369.8,278.9 368.1,279.7" fill="#0b8863" stroke-width="0.71"/>
<polygon points="420.1,277.9 421.8,276.7 408.6,270.7 406.9,271.9" fill="#168f62" stroke-width="0.72"/>
<polygon points="271.6,291.3 273.3,290.9 260.2,285.1 258.4,285.5" fill="#028264" stroke-width="0.68"/>
<polygon points="307.0,291.1 308.7,290.6 295.6,284.6 293.8,285.2" fill="#038264" stroke-width="0.69"/>
<polygon points="141.9,262.0 143.7,264.2 130.5,259.3 128.8,257.3" fill="#2e9c60" stroke-width="0.65"/>
<polygon points="170.5,277.9 172.2,278.5 159.1,273.0 157.4,272.5" fill="#178f62" stroke-width="0.66"/>
<polygon points="202.5,285.9 204.2,285.9 191.1,280.2 189.3,280.3" fill="#0b8863" stroke-width="0.67"/>
<polygon points="236.2,289.9 237.9,289.7 224.7,283.9 223.0,284.2" fill="#058464" stroke-width="0.67"/>
<polygon points="379.5,286.4 381.2,285.6 368.1,279.7 366.4,280.5" fill="#0a8763" stroke-width="0.71"/>
<polygon points="342.4,289.9 344.1,289.3 331.0,283.4 329.3,284.0" fill="#058464" stroke-width="0.70"/>
<polygon points="418.3,278.9 420.1,277.9 406.9,271.9 405.2,272.9" fill="#158e62" stroke-width="0.72"/>
<polygon points="474.9,158.1 476.6,149.8 463.5,144.1 461.7,152.4" fill="#bde053" stroke-width="0.75"/>
<polygon points="269.9,291.7 271.6,291.3 258.4,285.5 256.7,285.9" fill="#028264" stroke-width="0.68"/>
<polygon points="305.3,291.6 307.0,291.1 293.8,285.2 292.1,285.7" fill="#038264" stroke-width="0.69"/>
<polygon points="377.8,287.2 379.5,286.4 366.4,280.5 364.7,281.3" fill="#098763" stroke-width="0.71"/>
<polygon points="234.5,290.2 236.2,289.9 223.0,284.2 221.3,284.4" fill="#058464" stroke-width="0.67"/>
<polygon points="416.6,280.0 418.3,278.9 405.2,272.9 403.5,274.0" fill="#148e62" stroke-width="0.72"/>
<polygon points="200.8,286.0 202.5,285.9 189.3,280.3 187.6,280.3" fill="#0b8863" stroke-width="0.67"/>
<polygon points="340.7,290.5 342.4,289.9 329.3,284.0 327.5,284.6" fill="#058464" stroke-width="0.70"/>
<polygon points="168.8,277.3 170.5,277.9 157.4,272.5 155.6,271.9" fill="#189062" stroke-width="0.66"/>
<polygon points="268.1,292.1 269.9,291.7 256.7,285.9 255.0,286.3" fill="#028264" stroke-width="0.68"/>
<polygon points="140.2,259.5 141.9,262.0 128.8,257.3 127.1,254.9" fill="#339e60" stroke-width="0.65"/>
<polygon points="303.6,292.2 305.3,291.6 292.1,285.7 290.4,286.2" fill="#028264" stroke-width="0.69"/>
<polygon points="476.6,149.8 478.3,141.2 465.2,135.3 463.5,144.1" fill="#cae652" stroke-width="0.75"/>
<polygon points="414.9,281.0 416.6,280.0 403.5,274.0 401.8,275.0" fill="#138d62" stroke-width="0.72"/>
<polygon points="376.1,288.0 377.8,287.2 364.7,281.3 362.9,282.1" fill="#098763" stroke-width="0.71"/>
<polygon points="339.0,291.1 340.7,290.5 327.5,284.6 325.8,285.1" fill="#048464" stroke-width="0.70"/>
<polygon points="232.7,290.4 234.5,290.2 221.3,284.4 219.6,284.6" fill="#058464" stroke-width="0.67"/>
<polygon points="199.0,285.9 200.8,286.0 187.6,280.3 185.9,280.3" fill="#0c8963" stroke-width="0.67"/>
<polygon points="167.1,276.6 168.8,277.3 155.6,271.9 153.9,271.3" fill="#1a9162" stroke-width="0.66"/>
<polygon points="266.4,292.5 268.1,292.1 255.0,286.3 253.3,286.7" fill="#038264" stroke-width="0.68"/>
<polygon points="301.8,292.7 303.6,292.2 290.4,286.2 288.7,286.8" fill="#028264" stroke-width="0.69"/>
<polygon points="413.2,282.0 414.9,281.0 401.8,275.0 400.1,276.0" fill="#128d62" stroke-width="0.72"/>
<polygon points="374.4,288.7 376.1,288.0 362.9,282.1 361.2,282.8" fill="#088663" stroke-width="0.71"/>
<polygon points="337.2,291.6 339.0,291.1 325.8,285.1 324.1,285.7" fill="#048364" stroke-width="0.70"/>
<polygon points="231.0,290.6 232.7,290.4 219.6,284.6 217.9,284.9" fill="#068564" stroke-width="0.67"/>
<polygon points="464.0,248.1 465.7,244.3 452.6,238.1 450.9,241.9" fill="#43a75e" stroke-width="0.71"/>
<polygon points="462.3,251.5 464.0,248.1 450.9,241.9 449.2,245.3" fill="#3ea45f" stroke-width="0.69"/>
<polygon points="465.7,244.3 467.5,240.1 454.3,234.0 452.6,238.1" fill="#48a95e" stroke-width="0.72"/>
<polygon points="197.3,285.9 199.0,285.9 185.9,280.3 184.2,280.3" fill="#0d8963" stroke-width="0.67"/>
<polygon points="460.6,254.6 462.3,251.5 449.2,245.3 447.5,248.5" fill="#3aa25f" stroke-width="0.68"/>
<polygon points="467.5,240.1 469.2,235.8 456.0,229.7 454.3,234.0" fill="#4eac5d" stroke-width="0.73"/>
<polygon points="478.3,141.2 480.0,131.3 466.9,125.4 465.2,135.3" fill="#d6eb51" stroke-width="0.75"/>
<polygon points="411.5,282.9 413.2,282.0 400.1,276.0 398.4,276.9" fill="#128c63" stroke-width="0.72"/>
<polygon points="469.2,235.8 470.9,231.4 457.7,225.3 456.0,229.7" fill="#55b05d" stroke-width="0.74"/>
<polygon points="458.9,257.4 460.6,254.6 447.5,248.5 445.8,251.3" fill="#36a05f" stroke-width="0.66"/>
<polygon points="300.1,293.2 301.8,292.7 288.7,286.8 287.0,287.3" fill="#028264" stroke-width="0.69"/>
<polygon points="264.7,292.9 266.4,292.5 253.3,286.7 251.6,287.1" fill="#038264" stroke-width="0.68"/>
<polygon points="138.5,256.0 140.2,259.5 127.1,254.9 125.4,251.6" fill="#39a25f" stroke-width="0.69"/>
<polygon points="372.7,289.4 374.4,288.7 361.2,282.8 359.5,283.5" fill="#088663" stroke-width="0.71"/>
<polygon points="470.9,231.4 472.6,226.3 459.5,220.3 457.7,225.3" fill="#5bb35c" stroke-width="0.75"/>
<polygon points="165.4,275.7 167.1,276.6 153.9,271.3 152.2,270.5" fill="#1d9262" stroke-width="0.66"/>
<polygon points="457.2,259.8 458.9,257.4 445.8,251.3 444.0,253.7" fill="#339f60" stroke-width="0.65"/>
<polygon points="335.5,292.2 337.2,291.6 324.1,285.7 322.4,286.3" fill="#048364" stroke-width="0.70"/>
<polygon points="229.3,290.8 231.0,290.6 217.9,284.9 216.2,285.1" fill="#068563" stroke-width="0.67"/>
<polygon points="409.8,283.8 411.5,282.9 398.4,276.9 396.6,277.9" fill="#118c63" stroke-width="0.72"/>
<polygon points="472.6,226.3 474.3,220.4 461.2,214.5 459.5,220.3" fill="#62b65c" stroke-width="0.75"/>
<polygon points="455.5,262.1 457.2,259.8 444.0,253.7 442.3,256.0" fill="#309d60" stroke-width="0.67"/>
<polygon points="195.6,285.8 197.3,285.9 184.2,280.3 182.5,280.2" fill="#0e8a63" stroke-width="0.67"/>
<polygon points="298.4,293.6 300.1,293.2 287.0,287.3 285.3,287.7" fill="#028264" stroke-width="0.69"/>
<polygon points="370.9,290.1 372.7,289.4 359.5,283.5 357.8,284.2" fill="#088663" stroke-width="0.71"/>
<polygon points="263.0,293.2 264.7,292.9 251.6,287.1 249.9,287.4" fill="#038364" stroke-width="0.68"/>
<polygon points="453.7,264.2 455.5,262.1 442.3,256.0 440.6,258.1" fill="#2d9c60" stroke-width="0.67"/>
<polygon points="333.8,292.8 335.5,292.2 322.4,286.3 320.7,286.8" fill="#048364" stroke-width="0.70"/>
<polygon points="474.3,220.4 476.0,214.0 462.9,208.2 461.2,214.5" fill="#6bba5b" stroke-width="0.75"/>
<polygon points="408.1,284.7 409.8,283.8 396.6,277.9 394.9,278.8" fill="#108b63" stroke-width="0.72"/>
<polygon points="227.6,291.0 229.3,290.8 216.2,285.1 214.5,285.3" fill="#078563" stroke-width="0.67"/>
<polygon points="163.6,274.8 165.4,275.7 152.2,270.5 150.5,269.6" fill="#1f9461" stroke-width="0.66"/>
<polygon points="452.0,266.3 453.7,264.2 440.6,258.1 438.9,260.3" fill="#2b9a60" stroke-width="0.67"/>
<polygon points="369.2,290.8 370.9,290.1 357.8,284.2 356.1,284.9" fill="#078663" stroke-width="0.71"/>
<polygon points="296.7,294.1 298.4,293.6 285.3,287.7 283.6,288.2" fill="#028264" stroke-width="0.69"/>
<polygon points="193.9,285.6 195.6,285.8 182.5,280.2 180.8,280.0" fill="#0f8b63" stroke-width="0.67"/>
<polygon points="480.0,131.3 481.7,118.7 468.6,112.8 466.9,125.4" fill="#e5f250" stroke-width="0.75"/>
<polygon points="261.3,293.6 263.0,293.2 249.9,287.4 248.2,287.8" fill="#038364" stroke-width="0.68"/>
<polygon points="450.3,268.4 452.0,266.3 438.9,260.3 437.2,262.4" fill="#289961" stroke-width="0.67"/>
<polygon points="476.0,214.0 477.7,207.3 464.6,201.6 462.9,208.2" fill="#74bf5a" stroke-width="0.75"/>
<polygon points="332.1,293.3 333.8,292.8 320.7,286.8 319.0,287.4" fill="#048364" stroke-width="0.70"/>
<polygon points="136.8,251.7 138.5,256.0 125.4,251.6 123.7,247.5" fill="#41a65f" stroke-width="0.73"/>
<polygon points="406.3,285.6 408.1,284.7 394.9,278.8 393.2,279.7" fill="#0f8b63" stroke-width="0.72"/>
<polygon points="448.6,270.5 450.3,268.4 437.2,262.4 435.5,264.5" fill="#259761" stroke-width="0.68"/>
<polygon points="225.9,291.2 227.6,291.0 214.5,285.3 212.8,285.4" fill="#078663" stroke-width="0.67"/>
<polygon points="367.5,291.5 369.2,290.8 356.1,284.9 354.4,285.6" fill="#078563" stroke-width="0.71"/>
<polygon points="295.0,294.6 296.7,294.1 283.6,288.2 281.9,288.7" fill="#028264" stroke-width="0.69"/>
<polygon points="259.6,293.9 261.3,293.6 248.2,287.8 246.4,288.1" fill="#038364" stroke-width="0.68"/>
<polygon points="477.7,207.3 479.4,200.9 466.3,195.2 464.6,201.6" fill="#7ec359" stroke-width="0.75"/>
<polygon points="161.9,273.7 163.6,274.8 150.5,269.6 148.8,268.6" fill="#219561" stroke-width="0.65"/>
<polygon points="192.2,285.4 193.9,285.6 180.8,280.0 179.1,279.8" fill="#108b63" stroke-width="0.67"/>
<polygon points="446.9,272.5 448.6,270.5 435.5,264.5 433.8,266.4" fill="#239661" stroke-width="0.68"/>
<polygon points="330.4,293.9 332.1,293.3 319.0,287.4 317.3,287.9" fill="#048364" stroke-width="0.70"/>
<polygon points="404.6,286.5 406.3,285.6 393.2,279.7 391.5,280.6" fill="#0f8a63" stroke-width="0.72"/>
<polygon points="445.2,274.3 446.9,272.5 433.8,266.4 432.0,268.3" fill="#219561" stroke-width="0.69"/>
<polygon points="365.8,292.1 367.5,291.5 354.4,285.6 352.7,286.2" fill="#078563" stroke-width="0.71"/>
<polygon points="224.2,291.3 225.9,291.2 212.8,285.4 211.0,285.6" fill="#088663" stroke-width="0.67"/>
<polygon points="479.4,200.9 481.2,194.2 468.0,188.5 466.3,195.2" fill="#87c858" stroke-width="0.75"/>
<polygon points="293.3,295.0 295.0,294.6 281.9,288.7 280.1,289.2" fill="#028264" stroke-width="0.69"/>
<polygon points="257.9,294.3 259.6,293.9 246.4,288.1 244.7,288.5" fill="#048364" stroke-width="0.68"/>
<polygon points="402.9,287.4 404.6,286.5 391.5,280.6 389.8,281.4" fill="#0e8a63" stroke-width="0.72"/>
<polygon points="328.7,294.4 330.4,293.9 317.3,287.9 315.5,288.4" fill="#038364" stroke-width="0.70"/>
<polygon points="443.5,276.0 445.2,274.3 432.0,268.3 430.3,270.0" fill="#1f9461" stroke-width="0.70"/>
<polygon points="190.5,285.1 192.2,285.4 179.1,279.8 177.3,279.6" fill="#128c63" stroke-width="0.67"/>
<polygon points="160.2,272.4 161.9,273.7 148.8,268.6 147.1,267.4" fill="#249761" stroke-width="0.65"/>
<polygon points="364.1,292.8 365.8,292.1 352.7,286.2 351.0,286.9" fill="#068564" stroke-width="0.71"/>
<polygon points="481.2,194.2 482.9,187.4 469.7,181.8 468.0,188.5" fill="#91cc57" stroke-width="0.75"/>
<polygon points="222.5,291.4 224.2,291.3 211.0,285.6 209.3,285.7" fill="#098663" stroke-width="0.67"/>
<polygon points="291.6,295.5 293.3,295.0 280.1,289.2 278.4,289.6" fill="#028264" stroke-width="0.69"/>
<polygon points="441.8,277.5 443.5,276.0 430.3,270.0 428.6,271.5" fill="#1d9362" stroke-width="0.71"/>
<polygon points="401.2,288.2 402.9,287.4 389.8,281.4 388.1,282.3" fill="#0d8963" stroke-width="0.72"/>
<polygon points="256.2,294.6 257.9,294.3 244.7,288.5 243.0,288.8" fill="#048364" stroke-width="0.68"/>
<polygon points="327.0,294.9 328.7,294.4 315.5,288.4 313.8,289.0" fill="#038364" stroke-width="0.70"/>
<polygon points="188.8,284.8 190.5,285.1 177.3,279.6 175.6,279.3" fill="#138d62" stroke-width="0.67"/>
<polygon points="362.4,293.4 364.1,292.8 351.0,286.9 349.2,287.5" fill="#068564" stroke-width="0.71"/>
<polygon points="440.0,278.9 441.8,277.5 428.6,271.5 426.9,272.9" fill="#1b9262" stroke-width="0.72"/>
<polygon points="482.9,187.4 484.6,180.0 471.5,174.4 469.7,181.8" fill="#9bd156" stroke-width="0.75"/>
<polygon points="399.5,289.1 401.2,288.2 388.1,282.3 386.4,283.1" fill="#0d8963" stroke-width="0.72"/>
<polygon points="289.8,295.9 291.6,295.5 278.4,289.6 276.7,290.1" fill="#028264" stroke-width="0.69"/>
<polygon points="220.7,291.4 222.5,291.4 209.3,285.7 207.6,285.8" fill="#098763" stroke-width="0.67"/>
<polygon points="158.5,270.7 160.2,272.4 147.1,267.4 145.4,265.9" fill="#289961" stroke-width="0.65"/>
<polygon points="325.3,295.4 327.0,294.9 313.8,289.0 312.1,289.5" fill="#038364" stroke-width="0.70"/>
<polygon points="254.4,294.9 256.2,294.6 243.0,288.8 241.3,289.1" fill="#048364" stroke-width="0.68"/>
<polygon points="438.3,280.2 440.0,278.9 426.9,272.9 425.2,274.3" fill="#1a9162" stroke-width="0.72"/>
<polygon points="360.7,294.0 362.4,293.4 349.2,287.5 347.5,288.1" fill="#068464" stroke-width="0.71"/>
<polygon points="397.8,289.9 399.5,289.1 386.4,283.1 384.6,284.0" fill="#0c8963" stroke-width="0.72"/>
<polygon points="187.1,284.4 188.8,284.8 175.6,279.3 173.9,278.9" fill="#148e62" stroke-width="0.67"/>
<polygon points="288.1,296.3 289.8,295.9 276.7,290.1 275.0,290.5" fill="#028264" stroke-width="0.69"/>
<polygon points="484.6,180.0 486.3,171.9 473.2,166.2 471.5,174.4" fill="#a6d655" stroke-width="0.75"/>
<polygon points="323.5,296.0 325.3,295.4 312.1,289.5 310.4,290.0" fill="#038364" stroke-width="0.70"/>
<polygon points="219.0,291.5 220.7,291.4 207.6,285.8 205.9,285.8" fill="#0a8763" stroke-width="0.67"/>
<polygon points="436.6,281.5 438.3,280.2 425.2,274.3 423.5,275.5" fill="#199062" stroke-width="0.72"/>
<polygon points="252.7,295.2 254.4,294.9 241.3,289.1 239.6,289.4" fill="#048464" stroke-width="0.68"/>
<polygon points="358.9,294.6 360.7,294.0 347.5,288.1 345.8,288.7" fill="#058464" stroke-width="0.71"/>
<polygon points="396.1,290.7 397.8,289.9 384.6,284.0 382.9,284.8" fill="#0b8863" stroke-width="0.72"/>
<polygon points="156.8,268.8 158.5,270.7 145.4,265.9 143.7,264.2" fill="#2c9b60" stroke-width="0.65"/>
<polygon points="434.9,282.7 436.6,281.5 423.5,275.5 421.8,276.7" fill="#178f62" stroke-width="0.73"/>
<polygon points="286.4,296.7 288.1,296.3 275.0,290.5 273.3,290.9" fill="#028264" stroke-width="0.69"/>
<polygon points="321.8,296.5 323.5,296.0 310.4,290.0 308.7,290.6" fill="#038364" stroke-width="0.70"/>
<polygon points="185.3,283.9 187.1,284.4 173.9,278.9 172.2,278.5" fill="#168f62" stroke-width="0.67"/>
<polygon points="217.3,291.6 219.0,291.5 205.9,285.8 204.2,285.9" fill="#0b8863" stroke-width="0.67"/>
<polygon points="251.0,295.4 252.7,295.2 239.6,289.4 237.9,289.7" fill="#058464" stroke-width="0.68"/>
<polygon points="486.3,171.9 488.0,163.8 474.9,158.1 473.2,166.2" fill="#b2db54" stroke-width="0.75"/>
<polygon points="357.2,295.2 358.9,294.6 345.8,288.7 344.1,289.3" fill="#058464" stroke-width="0.71"/>
<polygon points="394.4,291.6 396.1,290.7 382.9,284.8 381.2,285.6" fill="#0b8863" stroke-width="0.72"/>
<polygon points="433.2,283.9 434.9,282.7 421.8,276.7 420.1,277.9" fill="#168f62" stroke-width="0.73"/>
<polygon points="284.7,297.2 286.4,296.7 273.3,290.9 271.6,291.3" fill="#038264" stroke-width="0.69"/>
<polygon points="320.1,297.0 321.8,296.5 308.7,290.6 307.0,291.1" fill="#038264" stroke-width="0.70"/>
<polygon points="249.3,295.7 251.0,295.4 237.9,289.7 236.2,289.9" fill="#058464" stroke-width="0.68"/>
<polygon points="215.6,291.6 217.3,291.6 204.2,285.9 202.5,285.9" fill="#0b8863" stroke-width="0.67"/>
<polygon points="183.6,283.3 185.3,283.9 172.2,278.5 170.5,277.9" fill="#189062" stroke-width="0.67"/>
<polygon points="392.6,292.4 394.4,291.6 381.2,285.6 379.5,286.4" fill="#0a8763" stroke-width="0.72"/>
<polygon points="355.5,295.8 357.2,295.2 344.1,289.3 342.4,289.9" fill="#058464" stroke-width="0.71"/>
<polygon points="431.5,284.9 433.2,283.9 420.1,277.9 418.3,278.9" fill="#158e62" stroke-width="0.73"/>
<polygon points="155.1,266.5 156.8,268.8 143.7,264.2 141.9,262.0" fill="#309d60" stroke-width="0.65"/>
<polygon points="488.0,163.8 489.7,155.6 476.6,149.8 474.9,158.1" fill="#bee153" stroke-width="0.75"/>
<polygon points="283.0,297.5 284.7,297.2 271.6,291.3 269.9,291.7" fill="#038264" stroke-width="0.69"/>
<polygon points="318.4,297.5 320.1,297.0 307.0,291.1 305.3,291.6" fill="#038264" stroke-width="0.70"/>
<polygon points="429.8,286.0 431.5,284.9 418.3,278.9 416.6,280.0" fill="#148e62" stroke-width="0.73"/>
<polygon points="390.9,293.1 392.6,292.4 379.5,286.4 377.8,287.2" fill="#0a8763" stroke-width="0.72"/>
<polygon points="247.6,295.9 249.3,295.7 236.2,289.9 234.5,290.2" fill="#068464" stroke-width="0.68"/>
<polygon points="353.8,296.4 355.5,295.8 342.4,289.9 340.7,290.5" fill="#058464" stroke-width="0.71"/>
<polygon points="213.9,291.6 215.6,291.6 202.5,285.9 200.8,286.0" fill="#0c8963" stroke-width="0.67"/>
<polygon points="181.9,282.6 183.6,283.3 170.5,277.9 168.8,277.3" fill="#1a9162" stroke-width="0.67"/>
<polygon points="281.3,297.9 283.0,297.5 269.9,291.7 268.1,292.1" fill="#038264" stroke-width="0.69"/>
<polygon points="316.7,298.1 318.4,297.5 305.3,291.6 303.6,292.2" fill="#038264" stroke-width="0.70"/>
<polygon points="489.7,155.6 491.4,147.1 478.3,141.2 476.6,149.8" fill="#cae652" stroke-width="0.75"/>
<polygon points="428.0,287.0 429.8,286.0 416.6,280.0 414.9,281.0" fill="#138d62" stroke-width="0.73"/>
<polygon points="389.2,293.9 390.9,293.1 377.8,287.2 376.1,288.0" fill="#098763" stroke-width="0.72"/>
<polygon points="352.1,297.0 353.8,296.4 340.7,290.5 339.0,291.1" fill="#048464" stroke-width="0.71"/>
<polygon points="153.4,263.8 155.1,266.5 141.9,262.0 140.2,259.5" fill="#35a05f" stroke-width="0.66"/>
<polygon points="245.9,296.1 247.6,295.9 234.5,290.2 232.7,290.4" fill="#068564" stroke-width="0.68"/>
<polygon points="212.2,291.6 213.9,291.6 200.8,286.0 199.0,285.9" fill="#0d8963" stroke-width="0.67"/>
<polygon points="426.3,287.9 428.0,287.0 414.9,281.0 413.2,282.0" fill="#128d62" stroke-width="0.73"/>
<polygon points="315.0,298.6 316.7,298.1 303.6,292.2 301.8,292.7" fill="#038264" stroke-width="0.70"/>
<polygon points="279.6,298.3 281.3,297.9 268.1,292.1 266.4,292.5" fill="#038364" stroke-width="0.69"/>
<polygon points="180.2,281.8 181.9,282.6 168.8,277.3 167.1,276.6" fill="#1c9262" stroke-width="0.67"/>
<polygon points="387.5,294.6 389.2,293.9 376.1,288.0 374.4,288.7" fill="#098663" stroke-width="0.72"/>
<polygon points="350.4,297.6 352.1,297.0 339.0,291.1 337.2,291.6" fill="#048364" stroke-width="0.71"/>
<polygon points="477.2,254.2 478.9,250.4 465.7,244.3 464.0,248.1" fill="#43a75e" stroke-width="0.71"/>
<polygon points="475.4,257.7 477.2,254.2 464.0,248.1 462.3,251.5" fill="#3ea45f" stroke-width="0.69"/>
<polygon points="478.9,250.4 480.6,246.3 467.5,240.1 465.7,244.3" fill="#48a95e" stroke-width="0.72"/>
<polygon points="244.2,296.3 245.9,296.1 232.7,290.4 231.0,290.6" fill="#068563" stroke-width="0.68"/>
<polygon points="473.7,260.8 475.4,257.7 462.3,251.5 460.6,254.6" fill="#3aa25f" stroke-width="0.68"/>
<polygon points="480.6,246.3 482.3,241.9 469.2,235.8 467.5,240.1" fill="#4eac5d" stroke-width="0.73"/>
<polygon points="491.4,147.1 493.2,137.3 480.0,131.3 478.3,141.2" fill="#d6eb51" stroke-width="0.75"/>
<polygon points="210.5,291.5 212.2,291.6 199.0,285.9 197.3,285.9" fill="#0e8a63" stroke-width="0.67"/>
<polygon points="424.6,288.9 426.3,287.9 413.2,282.0 411.5,282.9" fill="#128c63" stroke-width="0.73"/>
<polygon points="482.3,241.9 484.0,237.4 470.9,231.4 469.2,235.8" fill="#54af5d" stroke-width="0.74"/>
<polygon points="472.0,263.5 473.7,260.8 460.6,254.6 458.9,257.4" fill="#36a05f" stroke-width="0.66"/>
<polygon points="313.3,299.0 315.0,298.6 301.8,292.7 300.1,293.2" fill="#028264" stroke-width="0.70"/>
<polygon points="277.9,298.7 279.6,298.3 266.4,292.5 264.7,292.9" fill="#038364" stroke-width="0.69"/>
<polygon points="385.8,295.3 387.5,294.6 374.4,288.7 372.7,289.4" fill="#088663" stroke-width="0.72"/>
<polygon points="484.0,237.4 485.7,232.3 472.6,226.3 470.9,231.4" fill="#5bb35c" stroke-width="0.75"/>
<polygon points="470.3,266.0 472.0,263.5 458.9,257.4 457.2,259.8" fill="#339e60" stroke-width="0.65"/>
<polygon points="348.7,298.2 350.4,297.6 337.2,291.6 335.5,292.2" fill="#048364" stroke-width="0.71"/>
<polygon points="151.6,260.2 153.4,263.8 140.2,259.5 138.5,256.0" fill="#3ca35f" stroke-width="0.70"/>
<polygon points="178.5,280.9 180.2,281.8 167.1,276.6 165.4,275.7" fill="#1e9362" stroke-width="0.67"/>
<polygon points="242.4,296.5 244.2,296.3 231.0,290.6 229.3,290.8" fill="#078563" stroke-width="0.68"/>
<polygon points="468.6,268.1 470.3,266.0 457.2,259.8 455.5,262.1" fill="#309d60" stroke-width="0.67"/>
<polygon points="422.9,289.8 424.6,288.9 411.5,282.9 409.8,283.8" fill="#118c63" stroke-width="0.73"/>
<polygon points="485.7,232.3 487.4,226.2 474.3,220.4 472.6,226.3" fill="#62b65c" stroke-width="0.75"/>
<polygon points="208.8,291.4 210.5,291.5 197.3,285.9 195.6,285.8" fill="#0f8a63" stroke-width="0.67"/>
<polygon points="311.5,299.5 313.3,299.0 300.1,293.2 298.4,293.6" fill="#028264" stroke-width="0.70"/>
<polygon points="384.1,296.0 385.8,295.3 372.7,289.4 370.9,290.1" fill="#088663" stroke-width="0.72"/>
<polygon points="276.1,299.0 277.9,298.7 264.7,292.9 263.0,293.2" fill="#038364" stroke-width="0.69"/>
<polygon points="466.9,270.2 468.6,268.1 455.5,262.1 453.7,264.2" fill="#2d9c60" stroke-width="0.68"/>
<polygon points="347.0,298.7 348.7,298.2 335.5,292.2 333.8,292.8" fill="#048364" stroke-width="0.71"/>
<polygon points="487.4,226.2 489.2,219.8 476.0,214.0 474.3,220.4" fill="#6bba5b" stroke-width="0.75"/>
<polygon points="421.2,290.7 422.9,289.8 409.8,283.8 408.1,284.7" fill="#108b63" stroke-width="0.73"/>
<polygon points="465.2,272.3 466.9,270.2 453.7,264.2 452.0,266.3" fill="#2b9a60" stroke-width="0.68"/>
<polygon points="240.7,296.7 242.4,296.5 229.3,290.8 227.6,291.0" fill="#078663" stroke-width="0.68"/>
<polygon points="176.8,279.8 178.5,280.9 165.4,275.7 163.6,274.8" fill="#209561" stroke-width="0.67"/>
<polygon points="382.4,296.7 384.1,296.0 370.9,290.1 369.2,290.8" fill="#078663" stroke-width="0.72"/>
<polygon points="309.8,300.0 311.5,299.5 298.4,293.6 296.7,294.1" fill="#028264" stroke-width="0.70"/>
<polygon points="493.2,137.3 494.9,124.6 481.7,118.7 480.0,131.3" fill="#e5f250" stroke-width="0.75"/>
<polygon points="274.4,299.4 276.1,299.0 263.0,293.2 261.3,293.6" fill="#048364" stroke-width="0.69"/>
<polygon points="207.0,291.2 208.8,291.4 195.6,285.8 193.9,285.6" fill="#108b63" stroke-width="0.67"/>
<polygon points="463.5,274.4 465.2,272.3 452.0,266.3 450.3,268.4" fill="#289961" stroke-width="0.68"/>
<polygon points="345.2,299.3 347.0,298.7 333.8,292.8 332.1,293.3" fill="#048364" stroke-width="0.71"/>
<polygon points="489.2,219.8 490.9,213.1 477.7,207.3 476.0,214.0" fill="#75bf5a" stroke-width="0.75"/>
<polygon points="419.5,291.6 421.2,290.7 408.1,284.7 406.3,285.6" fill="#0f8b63" stroke-width="0.73"/>
<polygon points="461.7,276.5 463.5,274.4 450.3,268.4 448.6,270.5" fill="#259761" stroke-width="0.68"/>
<polygon points="239.0,296.8 240.7,296.7 227.6,291.0 225.9,291.2" fill="#088663" stroke-width="0.68"/>
<polygon points="149.9,255.7 151.6,260.2 138.5,256.0 136.8,251.7" fill="#44a75e" stroke-width="0.74"/>
<polygon points="380.6,297.4 382.4,296.7 369.2,290.8 367.5,291.5" fill="#078563" stroke-width="0.72"/>
<polygon points="308.1,300.4 309.8,300.0 296.7,294.1 295.0,294.6" fill="#028264" stroke-width="0.70"/>
<polygon points="272.7,299.7 274.4,299.4 261.3,293.6 259.6,293.9" fill="#048364" stroke-width="0.69"/>
<polygon points="490.9,213.1 492.6,206.6 479.4,200.9 477.7,207.3" fill="#7ec459" stroke-width="0.75"/>
<polygon points="460.0,278.5 461.7,276.5 448.6,270.5 446.9,272.5" fill="#239661" stroke-width="0.69"/>
<polygon points="343.5,299.8 345.2,299.3 332.1,293.3 330.4,293.9" fill="#048364" stroke-width="0.71"/>
<polygon points="417.8,292.5 419.5,291.6 406.3,285.6 404.6,286.5" fill="#0f8a63" stroke-width="0.73"/>
<polygon points="205.3,290.9 207.0,291.2 193.9,285.6 192.2,285.4" fill="#118c63" stroke-width="0.67"/>
<polygon points="175.1,278.6 176.8,279.8 163.6,274.8 161.9,273.7" fill="#239661" stroke-width="0.66"/>
<polygon points="458.3,280.3 460.0,278.5 446.9,272.5 445.2,274.3" fill="#219561" stroke-width="0.70"/>
<polygon points="378.9,298.0 380.6,297.4 367.5,291.5 365.8,292.1" fill="#078563" stroke-width="0.72"/>
<polygon points="237.3,297.0 239.0,296.8 225.9,291.2 224.2,291.3" fill="#088663" stroke-width="0.68"/>
<polygon points="306.4,300.9 308.1,300.4 295.0,294.6 293.3,295.0" fill="#038264" stroke-width="0.70"/>
<polygon points="492.6,206.6 494.3,199.9 481.2,194.2 479.4,200.9" fill="#88c858" stroke-width="0.75"/>
<polygon points="271.0,300.0 272.7,299.7 259.6,293.9 257.9,294.3" fill="#048364" stroke-width="0.69"/>
<polygon points="416.1,293.3 417.8,292.5 404.6,286.5 402.9,287.4" fill="#0e8a63" stroke-width="0.73"/>
<polygon points="341.8,300.3 343.5,299.8 330.4,293.9 328.7,294.4" fill="#048364" stroke-width="0.71"/>
<polygon points="456.6,281.9 458.3,280.3 445.2,274.3 443.5,276.0" fill="#1f9461" stroke-width="0.71"/>
<polygon points="203.6,290.6 205.3,290.9 192.2,285.4 190.5,285.1" fill="#128c62" stroke-width="0.67"/>
<polygon points="377.2,298.7 378.9,298.0 365.8,292.1 364.1,292.8" fill="#068563" stroke-width="0.72"/>
<polygon points="173.3,277.2 175.1,278.6 161.9,273.7 160.2,272.4" fill="#269861" stroke-width="0.66"/>
<polygon points="494.3,199.9 496.0,193.1 482.9,187.4 481.2,194.2" fill="#92cd57" stroke-width="0.75"/>
<polygon points="304.7,301.3 306.4,300.9 293.3,295.0 291.6,295.5" fill="#038264" stroke-width="0.70"/>
<polygon points="235.6,297.0 237.3,297.0 224.2,291.3 222.5,291.4" fill="#098763" stroke-width="0.68"/>
<polygon points="454.9,283.5 456.6,281.9 443.5,276.0 441.8,277.5" fill="#1d9362" stroke-width="0.72"/>
<polygon points="414.3,294.2 416.1,293.3 402.9,287.4 401.2,288.2" fill="#0d8963" stroke-width="0.73"/>
<polygon points="340.1,300.8 341.8,300.3 328.7,294.4 327.0,294.9" fill="#038364" stroke-width="0.71"/>
<polygon points="269.3,300.3 271.0,300.0 257.9,294.3 256.2,294.6" fill="#048364" stroke-width="0.69"/>
<polygon points="375.5,299.3 377.2,298.7 364.1,292.8 362.4,293.4" fill="#068564" stroke-width="0.72"/>
<polygon points="453.2,284.9 454.9,283.5 441.8,277.5 440.0,278.9" fill="#1b9262" stroke-width="0.72"/>
<polygon points="201.9,290.3 203.6,290.6 190.5,285.1 188.8,284.8" fill="#148d62" stroke-width="0.67"/>
<polygon points="412.6,295.0 414.3,294.2 401.2,288.2 399.5,289.1" fill="#0d8963" stroke-width="0.73"/>
<polygon points="496.0,193.1 497.7,185.7 484.6,180.0 482.9,187.4" fill="#9cd156" stroke-width="0.75"/>
<polygon points="303.0,301.7 304.7,301.3 291.6,295.5 289.8,295.9" fill="#038264" stroke-width="0.70"/>
<polygon points="233.9,297.1 235.6,297.0 222.5,291.4 220.7,291.4" fill="#0a8763" stroke-width="0.68"/>
<polygon points="338.4,301.4 340.1,300.8 327.0,294.9 325.3,295.4" fill="#038364" stroke-width="0.71"/>
<polygon points="267.6,300.6 269.3,300.3 256.2,294.6 254.4,294.9" fill="#058464" stroke-width="0.69"/>
<polygon points="451.5,286.2 453.2,284.9 440.0,278.9 438.3,280.2" fill="#1a9162" stroke-width="0.73"/>
<polygon points="171.6,275.4 173.3,277.2 160.2,272.4 158.5,270.7" fill="#2a9a60" stroke-width="0.66"/>
<polygon points="373.8,300.0 375.5,299.3 362.4,293.4 360.7,294.0" fill="#068564" stroke-width="0.72"/>
<polygon points="410.9,295.8 412.6,295.0 399.5,289.1 397.8,289.9" fill="#0c8963" stroke-width="0.73"/>
<polygon points="301.3,302.1 303.0,301.7 289.8,295.9 288.1,296.3" fill="#038264" stroke-width="0.70"/>
<polygon points="200.2,289.8 201.9,290.3 188.8,284.8 187.1,284.4" fill="#158e62" stroke-width="0.67"/>
<polygon points="336.7,301.9 338.4,301.4 325.3,295.4 323.5,296.0" fill="#038364" stroke-width="0.71"/>
<polygon points="497.7,185.7 499.4,177.6 486.3,171.9 484.6,180.0" fill="#a7d655" stroke-width="0.75"/>
<polygon points="449.7,287.5 451.5,286.2 438.3,280.2 436.6,281.5" fill="#199062" stroke-width="0.73"/>
<polygon points="232.2,297.1 233.9,297.1 220.7,291.4 219.0,291.5" fill="#0b8863" stroke-width="0.68"/>
<polygon points="265.9,300.9 267.6,300.6 254.4,294.9 252.7,295.2" fill="#058464" stroke-width="0.69"/>
<polygon points="372.1,300.6 373.8,300.0 360.7,294.0 358.9,294.6" fill="#068464" stroke-width="0.72"/>
<polygon points="409.2,296.7 410.9,295.8 397.8,289.9 396.1,290.7" fill="#0b8863" stroke-width="0.73"/>
<polygon points="448.0,288.7 449.7,287.5 436.6,281.5 434.9,282.7" fill="#178f62" stroke-width="0.74"/>
<polygon points="299.6,302.6 301.3,302.1 288.1,296.3 286.4,296.7" fill="#038264" stroke-width="0.70"/>
<polygon points="335.0,302.4 336.7,301.9 323.5,296.0 321.8,296.5" fill="#038364" stroke-width="0.71"/>
<polygon points="169.9,273.3 171.6,275.4 158.5,270.7 156.8,268.8" fill="#2e9c60" stroke-width="0.66"/>
<polygon points="198.5,289.3 200.2,289.8 187.1,284.4 185.3,283.9" fill="#178f62" stroke-width="0.67"/>
<polygon points="230.5,297.2 232.2,297.1 219.0,291.5 217.3,291.6" fill="#0b8863" stroke-width="0.68"/>
<polygon points="264.1,301.2 265.9,300.9 252.7,295.2 251.0,295.4" fill="#058464" stroke-width="0.69"/>
<polygon points="499.4,177.6 501.1,169.5 488.0,163.8 486.3,171.9" fill="#b2db54" stroke-width="0.75"/>
<polygon points="370.4,301.2 372.1,300.6 358.9,294.6 357.2,295.2" fill="#058464" stroke-width="0.72"/>
<polygon points="407.5,297.5 409.2,296.7 396.1,290.7 394.4,291.6" fill="#0b8863" stroke-width="0.73"/>
<polygon points="446.3,289.9 448.0,288.7 434.9,282.7 433.2,283.9" fill="#168f62" stroke-width="0.74"/>
<polygon points="297.8,303.0 299.6,302.6 286.4,296.7 284.7,297.2" fill="#038264" stroke-width="0.70"/>
<polygon points="333.2,302.9 335.0,302.4 321.8,296.5 320.1,297.0" fill="#038364" stroke-width="0.71"/>
<polygon points="262.4,301.4 264.1,301.2 251.0,295.4 249.3,295.7" fill="#068464" stroke-width="0.69"/>
<polygon points="228.7,297.2 230.5,297.2 217.3,291.6 215.6,291.6" fill="#0c8963" stroke-width="0.68"/>
<polygon points="405.8,298.3 407.5,297.5 394.4,291.6 392.6,292.4" fill="#0a8863" stroke-width="0.73"/>
<polygon points="368.7,301.8 370.4,301.2 357.2,295.2 355.5,295.8" fill="#058464" stroke-width="0.72"/>
<polygon points="444.6,290.9 446.3,289.9 433.2,283.9 431.5,284.9" fill="#158e62" stroke-width="0.74"/>
<polygon points="196.8,288.6 198.5,289.3 185.3,283.9 183.6,283.3" fill="#199062" stroke-width="0.67"/>
<polygon points="501.1,169.5 502.9,161.4 489.7,155.6 488.0,163.8" fill="#bee153" stroke-width="0.75"/>
<polygon points="168.2,270.8 169.9,273.3 156.8,268.8 155.1,266.5" fill="#339e60" stroke-width="0.65"/>
<polygon points="296.1,303.3 297.8,303.0 284.7,297.2 283.0,297.5" fill="#038364" stroke-width="0.70"/>
<polygon points="331.5,303.4 333.2,302.9 320.1,297.0 318.4,297.5" fill="#038264" stroke-width="0.71"/>
<polygon points="442.9,292.0 444.6,290.9 431.5,284.9 429.8,286.0" fill="#148e62" stroke-width="0.74"/>
<polygon points="404.1,299.0 405.8,298.3 392.6,292.4 390.9,293.1" fill="#0a8763" stroke-width="0.73"/>
<polygon points="366.9,302.4 368.7,301.8 355.5,295.8 353.8,296.4" fill="#058464" stroke-width="0.72"/>
<polygon points="260.7,301.6 262.4,301.4 249.3,295.7 247.6,295.9" fill="#068564" stroke-width="0.69"/>
<polygon points="227.0,297.2 228.7,297.2 215.6,291.6 213.9,291.6" fill="#0d8963" stroke-width="0.68"/>
<polygon points="195.0,287.8 196.8,288.6 183.6,283.3 181.9,282.6" fill="#1b9162" stroke-width="0.67"/>
<polygon points="294.4,303.7 296.1,303.3 283.0,297.5 281.3,297.9" fill="#038364" stroke-width="0.70"/>
<polygon points="329.8,303.9 331.5,303.4 318.4,297.5 316.7,298.1" fill="#038264" stroke-width="0.71"/>
<polygon points="502.9,161.4 504.6,153.0 491.4,147.1 489.7,155.6" fill="#cae652" stroke-width="0.75"/>
<polygon points="441.2,293.0 442.9,292.0 429.8,286.0 428.0,287.0" fill="#138d62" stroke-width="0.74"/>
<polygon points="402.3,299.8 404.1,299.0 390.9,293.1 389.2,293.9" fill="#098763" stroke-width="0.73"/>
<polygon points="365.2,302.9 366.9,302.4 353.8,296.4 352.1,297.0" fill="#058464" stroke-width="0.72"/>
<polygon points="259.0,301.8 260.7,301.6 247.6,295.9 245.9,296.1" fill="#068563" stroke-width="0.69"/>
<polygon points="225.3,297.1 227.0,297.2 213.9,291.6 212.2,291.6" fill="#0e8a63" stroke-width="0.68"/>
<polygon points="166.5,267.9 168.2,270.8 155.1,266.5 153.4,263.8" fill="#38a15f" stroke-width="0.66"/>
<polygon points="439.5,293.9 441.2,293.0 428.0,287.0 426.3,287.9" fill="#128d62" stroke-width="0.74"/>
<polygon points="328.1,304.4 329.8,303.9 316.7,298.1 315.0,298.6" fill="#038264" stroke-width="0.71"/>
<polygon points="292.7,304.1 294.4,303.7 281.3,297.9 279.6,298.3" fill="#038364" stroke-width="0.70"/>
<polygon points="400.6,300.5 402.3,299.8 389.2,293.9 387.5,294.6" fill="#098763" stroke-width="0.73"/>
<polygon points="193.3,286.9 195.0,287.8 181.9,282.6 180.2,281.8" fill="#1d9362" stroke-width="0.67"/>
<polygon points="363.5,303.5 365.2,302.9 352.1,297.0 350.4,297.6" fill="#048464" stroke-width="0.72"/>
<polygon points="257.3,302.0 259.0,301.8 245.9,296.1 244.2,296.3" fill="#078563" stroke-width="0.69"/>
<polygon points="504.6,153.0 506.3,143.2 493.2,137.3 491.4,147.1" fill="#d7eb51" stroke-width="0.75"/>
<polygon points="437.8,294.9 439.5,293.9 426.3,287.9 424.6,288.9" fill="#128c63" stroke-width="0.74"/>
<polygon points="223.6,297.0 225.3,297.1 212.2,291.6 210.5,291.5" fill="#0f8a63" stroke-width="0.68"/>
<polygon points="326.4,304.9 328.1,304.4 315.0,298.6 313.3,299.0" fill="#038264" stroke-width="0.71"/>
<polygon points="291.0,304.4 292.7,304.1 279.6,298.3 277.9,298.7" fill="#048364" stroke-width="0.70"/>
<polygon points="398.9,301.2 400.6,300.5 387.5,294.6 385.8,295.3" fill="#088663" stroke-width="0.73"/>
<polygon points="361.8,304.1 363.5,303.5 350.4,297.6 348.7,298.2" fill="#048364" stroke-width="0.72"/>
<polygon points="255.6,302.2 257.3,302.0 244.2,296.3 242.4,296.5" fill="#078663" stroke-width="0.69"/>
<polygon points="436.0,295.8 437.8,294.9 424.6,288.9 422.9,289.8" fill="#118c63" stroke-width="0.74"/>
<polygon points="191.6,285.9 193.3,286.9 180.2,281.8 178.5,280.9" fill="#209461" stroke-width="0.67"/>
<polygon points="324.7,305.4 326.4,304.9 313.3,299.0 311.5,299.5" fill="#038264" stroke-width="0.71"/>
<polygon points="397.2,301.9 398.9,301.2 385.8,295.3 384.1,296.0" fill="#088663" stroke-width="0.73"/>
<polygon points="164.8,264.1 166.5,267.9 153.4,263.8 151.6,260.2" fill="#3fa55f" stroke-width="0.71"/>
<polygon points="221.9,296.9 223.6,297.0 210.5,291.5 208.8,291.4" fill="#108b63" stroke-width="0.68"/>
<polygon points="289.3,304.8 291.0,304.4 277.9,298.7 276.1,299.0" fill="#048364" stroke-width="0.70"/>
<polygon points="360.1,304.7 361.8,304.1 348.7,298.2 347.0,298.7" fill="#048364" stroke-width="0.72"/>
<polygon points="434.3,296.7 436.0,295.8 422.9,289.8 421.2,290.7" fill="#108b63" stroke-width="0.74"/>
<polygon points="253.9,302.4 255.6,302.2 242.4,296.5 240.7,296.7" fill="#088663" stroke-width="0.69"/>
<polygon points="395.5,302.6 397.2,301.9 384.1,296.0 382.4,296.7" fill="#088663" stroke-width="0.73"/>
<polygon points="323.0,305.8 324.7,305.4 311.5,299.5 309.8,300.0" fill="#038264" stroke-width="0.71"/>
<polygon points="506.3,143.2 508.0,130.5 494.9,124.6 493.2,137.3" fill="#e5f250" stroke-width="0.75"/>
<polygon points="287.6,305.1 289.3,304.8 276.1,299.0 274.4,299.4" fill="#048364" stroke-width="0.70"/>
<polygon points="189.9,284.7 191.6,285.9 178.5,280.9 176.8,279.8" fill="#229661" stroke-width="0.67"/>
<polygon points="220.2,296.6 221.9,296.9 208.8,291.4 207.0,291.2" fill="#118c63" stroke-width="0.68"/>
<polygon points="358.4,305.2 360.1,304.7 347.0,298.7 345.2,299.3" fill="#048364" stroke-width="0.72"/>
<polygon points="432.6,297.5 434.3,296.7 421.2,290.7 419.5,291.6" fill="#0f8b63" stroke-width="0.74"/>
<polygon points="252.2,302.5 253.9,302.4 240.7,296.7 239.0,296.8" fill="#088663" stroke-width="0.69"/>
<polygon points="393.8,303.3 395.5,302.6 382.4,296.7 380.6,297.4" fill="#078663" stroke-width="0.73"/>
<polygon points="321.3,306.3 323.0,305.8 309.8,300.0 308.1,300.4" fill="#038264" stroke-width="0.71"/>
<polygon points="285.8,305.4 287.6,305.1 274.4,299.4 272.7,299.7" fill="#048364" stroke-width="0.70"/>
<polygon points="356.7,305.7 358.4,305.2 345.2,299.3 343.5,299.8" fill="#048364" stroke-width="0.72"/>
<polygon points="430.9,298.4 432.6,297.5 419.5,291.6 417.8,292.5" fill="#0f8a63" stroke-width="0.74"/>
<polygon points="163.1,259.3 164.8,264.1 151.6,260.2 149.9,255.7" fill="#48a95e" stroke-width="0.75"/>
<polygon points="218.5,296.4 220.2,296.6 207.0,291.2 205.3,290.9" fill="#128c63" stroke-width="0.68"/>
<polygon points="188.2,283.4 189.9,284.7 176.8,279.8 175.1,278.6" fill="#259761" stroke-width="0.67"/>
<polygon points="392.1,303.9 393.8,303.3 380.6,297.4 378.9,298.0" fill="#078563" stroke-width="0.73"/>
<polygon points="250.4,302.6 252.2,302.5 239.0,296.8 237.3,297.0" fill="#098763" stroke-width="0.69"/>
<polygon points="319.5,306.7 321.3,306.3 308.1,300.4 306.4,300.9" fill="#038264" stroke-width="0.71"/>
<polygon points="429.2,299.3 430.9,298.4 417.8,292.5 416.1,293.3" fill="#0e8a63" stroke-width="0.74"/>
<polygon points="354.9,306.3 356.7,305.7 343.5,299.8 341.8,300.3" fill="#048364" stroke-width="0.72"/>
<polygon points="284.1,305.8 285.8,305.4 272.7,299.7 271.0,300.0" fill="#048464" stroke-width="0.70"/>
<polygon points="216.7,296.0 218.5,296.4 205.3,290.9 203.6,290.6" fill="#138d62" stroke-width="0.68"/>
<polygon points="390.4,304.6 392.1,303.9 378.9,298.0 377.2,298.7" fill="#078563" stroke-width="0.73"/>
<polygon points="317.8,307.1 319.5,306.7 306.4,300.9 304.7,301.3" fill="#038264" stroke-width="0.71"/>
<polygon points="427.5,300.1 429.2,299.3 416.1,293.3 414.3,294.2" fill="#0d8a63" stroke-width="0.74"/>
<polygon points="248.7,302.7 250.4,302.6 237.3,297.0 235.6,297.0" fill="#0a8763" stroke-width="0.69"/>
<polygon points="353.2,306.8 354.9,306.3 341.8,300.3 340.1,300.8" fill="#048364" stroke-width="0.72"/>
<polygon points="186.5,281.8 188.2,283.4 175.1,278.6 173.3,277.2" fill="#299961" stroke-width="0.67"/>
<polygon points="282.4,306.1 284.1,305.8 271.0,300.0 269.3,300.3" fill="#058464" stroke-width="0.70"/>
<polygon points="388.6,305.2 390.4,304.6 377.2,298.7 375.5,299.3" fill="#068564" stroke-width="0.73"/>
<polygon points="215.0,295.6 216.7,296.0 203.6,290.6 201.9,290.3" fill="#158e62" stroke-width="0.68"/>
<polygon points="425.8,300.9 427.5,300.1 414.3,294.2 412.6,295.0" fill="#0d8963" stroke-width="0.74"/>
<polygon points="316.1,307.5 317.8,307.1 304.7,301.3 303.0,301.7" fill="#038364" stroke-width="0.71"/>
<polygon points="351.5,307.3 353.2,306.8 340.1,300.8 338.4,301.4" fill="#038364" stroke-width="0.72"/>
<polygon points="247.0,302.7 248.7,302.7 235.6,297.0 233.9,297.1" fill="#0a8863" stroke-width="0.69"/>
<polygon points="280.7,306.4 282.4,306.1 269.3,300.3 267.6,300.6" fill="#058464" stroke-width="0.70"/>
<polygon points="386.9,305.9 388.6,305.2 375.5,299.3 373.8,300.0" fill="#068564" stroke-width="0.73"/>
<polygon points="424.0,301.8 425.8,300.9 412.6,295.0 410.9,295.8" fill="#0c8963" stroke-width="0.74"/>
<polygon points="184.8,279.8 186.5,281.8 173.3,277.2 171.6,275.4" fill="#2c9b60" stroke-width="0.66"/>
<polygon points="314.4,307.9 316.1,307.5 303.0,301.7 301.3,302.1" fill="#038364" stroke-width="0.71"/>
<polygon points="349.8,307.8 351.5,307.3 338.4,301.4 336.7,301.9" fill="#038364" stroke-width="0.72"/>
<polygon points="213.3,295.1 215.0,295.6 201.9,290.3 200.2,289.8" fill="#168f62" stroke-width="0.68"/>
<polygon points="245.3,302.7 247.0,302.7 233.9,297.1 232.2,297.1" fill="#0b8863" stroke-width="0.69"/>
<polygon points="279.0,306.6 280.7,306.4 267.6,300.6 265.9,300.9" fill="#058464" stroke-width="0.70"/>
<polygon points="385.2,306.5 386.9,305.9 373.8,300.0 372.1,300.6" fill="#068464" stroke-width="0.73"/>
<polygon points="422.3,302.6 424.0,301.8 410.9,295.8 409.2,296.7" fill="#0c8863" stroke-width="0.74"/>
<polygon points="312.7,308.3 314.4,307.9 301.3,302.1 299.6,302.6" fill="#038364" stroke-width="0.71"/>
<polygon points="348.1,308.3 349.8,307.8 336.7,301.9 335.0,302.4" fill="#038364" stroke-width="0.72"/>
<polygon points="277.3,306.9 279.0,306.6 265.9,300.9 264.1,301.2" fill="#068464" stroke-width="0.70"/>
<polygon points="243.6,302.7 245.3,302.7 232.2,297.1 230.5,297.2" fill="#0c8963" stroke-width="0.69"/>
<polygon points="211.6,294.5 213.3,295.1 200.2,289.8 198.5,289.3" fill="#189062" stroke-width="0.68"/>
<polygon points="383.5,307.1 385.2,306.5 372.1,300.6 370.4,301.2" fill="#058464" stroke-width="0.73"/>
<polygon points="420.6,303.4 422.3,302.6 409.2,296.7 407.5,297.5" fill="#0b8863" stroke-width="0.74"/>
<polygon points="183.1,277.6 184.8,279.8 171.6,275.4 169.9,273.3" fill="#319d60" stroke-width="0.66"/>
<polygon points="311.0,308.7 312.7,308.3 299.6,302.6 297.8,303.0" fill="#038364" stroke-width="0.71"/>
<polygon points="346.4,308.8 348.1,308.3 335.0,302.4 333.2,302.9" fill="#038364" stroke-width="0.72"/>
<polygon points="275.6,307.1 277.3,306.9 264.1,301.2 262.4,301.4" fill="#068564" stroke-width="0.70"/>
<polygon points="418.9,304.2 420.6,303.4 407.5,297.5 405.8,298.3" fill="#0b8863" stroke-width="0.74"/>
<polygon points="381.8,307.7 383.5,307.1 370.4,301.2 368.7,301.8" fill="#058464" stroke-width="0.73"/>
<polygon points="241.9,302.7 243.6,302.7 230.5,297.2 228.7,297.2" fill="#0d8963" stroke-width="0.69"/>
<polygon points="209.9,293.8 211.6,294.5 198.5,289.3 196.8,288.6" fill="#1a9162" stroke-width="0.68"/>
<polygon points="309.3,309.1 311.0,308.7 297.8,303.0 296.1,303.3" fill="#038364" stroke-width="0.71"/>
<polygon points="344.7,309.3 346.4,308.8 333.2,302.9 331.5,303.4" fill="#038364" stroke-width="0.72"/>
<polygon points="417.2,304.9 418.9,304.2 405.8,298.3 404.1,299.0" fill="#0a8763" stroke-width="0.74"/>
<polygon points="380.1,308.3 381.8,307.7 368.7,301.8 366.9,302.4" fill="#058464" stroke-width="0.73"/>
<polygon points="181.3,274.9 183.1,277.6 169.9,273.3 168.2,270.8" fill="#36a05f" stroke-width="0.66"/>
<polygon points="273.9,307.3 275.6,307.1 262.4,301.4 260.7,301.6" fill="#078563" stroke-width="0.70"/>
<polygon points="240.2,302.7 241.9,302.7 228.7,297.2 227.0,297.2" fill="#0e8a63" stroke-width="0.69"/>
<polygon points="343.0,309.8 344.7,309.3 331.5,303.4 329.8,303.9" fill="#038364" stroke-width="0.72"/>
<polygon points="307.5,309.5 309.3,309.1 296.1,303.3 294.4,303.7" fill="#048364" stroke-width="0.71"/>
<polygon points="208.2,292.9 209.9,293.8 196.8,288.6 195.0,287.8" fill="#1c9262" stroke-width="0.68"/>
<polygon points="415.5,305.7 417.2,304.9 404.1,299.0 402.3,299.8" fill="#0a8763" stroke-width="0.74"/>
<polygon points="378.4,308.9 380.1,308.3 366.9,302.4 365.2,302.9" fill="#058464" stroke-width="0.73"/>
<polygon points="272.1,307.5 273.9,307.3 260.7,301.6 259.0,301.8" fill="#078563" stroke-width="0.70"/>
<polygon points="238.4,302.6 240.2,302.7 227.0,297.2 225.3,297.1" fill="#0f8a63" stroke-width="0.69"/>
<polygon points="341.2,310.3 343.0,309.8 329.8,303.9 328.1,304.4" fill="#038364" stroke-width="0.72"/>
<polygon points="305.8,309.8 307.5,309.5 294.4,303.7 292.7,304.1" fill="#048364" stroke-width="0.71"/>
<polygon points="413.8,306.4 415.5,305.7 402.3,299.8 400.6,300.5" fill="#098763" stroke-width="0.74"/>
<polygon points="376.6,309.5 378.4,308.9 365.2,302.9 363.5,303.5" fill="#058464" stroke-width="0.73"/>
<polygon points="179.6,271.7 181.3,274.9 168.2,270.8 166.5,267.9" fill="#3ca35f" stroke-width="0.67"/>
<polygon points="206.5,291.8 208.2,292.9 195.0,287.8 193.3,286.9" fill="#1f9461" stroke-width="0.68"/>
<polygon points="270.4,307.7 272.1,307.5 259.0,301.8 257.3,302.0" fill="#078663" stroke-width="0.70"/>
<polygon points="236.7,302.5 238.4,302.6 225.3,297.1 223.6,297.0" fill="#108b63" stroke-width="0.69"/>
<polygon points="339.5,310.8 341.2,310.3 328.1,304.4 326.4,304.9" fill="#038364" stroke-width="0.72"/>
<polygon points="412.1,307.1 413.8,306.4 400.6,300.5 398.9,301.2" fill="#098663" stroke-width="0.74"/>
<polygon points="304.1,310.2 305.8,309.8 292.7,304.1 291.0,304.4" fill="#048364" stroke-width="0.71"/>
<polygon points="374.9,310.0 376.6,309.5 363.5,303.5 361.8,304.1" fill="#048464" stroke-width="0.73"/>
<polygon points="268.7,307.9 270.4,307.7 257.3,302.0 255.6,302.2" fill="#088663" stroke-width="0.70"/>
<polygon points="337.8,311.2 339.5,310.8 326.4,304.9 324.7,305.4" fill="#038364" stroke-width="0.72"/>
<polygon points="204.8,290.7 206.5,291.8 193.3,286.9 191.6,285.9" fill="#229561" stroke-width="0.68"/>
<polygon points="410.3,307.8 412.1,307.1 398.9,301.2 397.2,301.9" fill="#088663" stroke-width="0.74"/>
<polygon points="302.4,310.5 304.1,310.2 291.0,304.4 289.3,304.8" fill="#048364" stroke-width="0.71"/>
<polygon points="235.0,302.3 236.7,302.5 223.6,297.0 221.9,296.9" fill="#118b63" stroke-width="0.69"/>
<polygon points="373.2,310.6 374.9,310.0 361.8,304.1 360.1,304.7" fill="#048364" stroke-width="0.73"/>
<polygon points="177.9,267.6 179.6,271.7 166.5,267.9 164.8,264.1" fill="#43a75e" stroke-width="0.72"/>
<polygon points="267.0,308.0 268.7,307.9 255.6,302.2 253.9,302.4" fill="#098663" stroke-width="0.70"/>
<polygon points="408.6,308.5 410.3,307.8 397.2,301.9 395.5,302.6" fill="#088663" stroke-width="0.74"/>
<polygon points="336.1,311.7 337.8,311.2 324.7,305.4 323.0,305.8" fill="#038364" stroke-width="0.72"/>
<polygon points="300.7,310.8 302.4,310.5 289.3,304.8 287.6,305.1" fill="#048464" stroke-width="0.71"/>
<polygon points="371.5,311.1 373.2,310.6 360.1,304.7 358.4,305.2" fill="#048364" stroke-width="0.73"/>
<polygon points="233.3,302.0 235.0,302.3 221.9,296.9 220.2,296.6" fill="#128c63" stroke-width="0.69"/>
<polygon points="203.0,289.4 204.8,290.7 191.6,285.9 189.9,284.7" fill="#249761" stroke-width="0.68"/>
<polygon points="406.9,309.1 408.6,308.5 395.5,302.6 393.8,303.3" fill="#078663" stroke-width="0.74"/>
<polygon points="265.3,308.1 267.0,308.0 253.9,302.4 252.2,302.5" fill="#098763" stroke-width="0.70"/>
<polygon points="334.4,312.1 336.1,311.7 323.0,305.8 321.3,306.3" fill="#038364" stroke-width="0.72"/>
<polygon points="369.8,311.7 371.5,311.1 358.4,305.2 356.7,305.7" fill="#048364" stroke-width="0.73"/>
<polygon points="299.0,311.2 300.7,310.8 287.6,305.1 285.8,305.4" fill="#058464" stroke-width="0.71"/>
<polygon points="231.6,301.7 233.3,302.0 220.2,296.6 218.5,296.4" fill="#138d62" stroke-width="0.69"/>
<polygon points="405.2,309.8 406.9,309.1 393.8,303.3 392.1,303.9" fill="#078563" stroke-width="0.74"/>
<polygon points="332.7,312.5 334.4,312.1 321.3,306.3 319.5,306.7" fill="#038364" stroke-width="0.72"/>
<polygon points="201.3,287.9 203.0,289.4 189.9,284.7 188.2,283.4" fill="#289861" stroke-width="0.68"/>
<polygon points="263.6,308.2 265.3,308.1 252.2,302.5 250.4,302.6" fill="#0a8763" stroke-width="0.70"/>
<polygon points="176.2,262.5 177.9,267.6 164.8,264.1 163.1,259.3" fill="#4cab5d" stroke-width="0.75"/>
<polygon points="368.1,312.2 369.8,311.7 356.7,305.7 354.9,306.3" fill="#048364" stroke-width="0.73"/>
<polygon points="297.3,311.5 299.0,311.2 285.8,305.4 284.1,305.8" fill="#058464" stroke-width="0.71"/>
<polygon points="403.5,310.5 405.2,309.8 392.1,303.9 390.4,304.6" fill="#078563" stroke-width="0.74"/>
<polygon points="229.9,301.4 231.6,301.7 218.5,296.4 216.7,296.0" fill="#148e62" stroke-width="0.69"/>
<polygon points="331.0,312.9 332.7,312.5 319.5,306.7 317.8,307.1" fill="#038364" stroke-width="0.72"/>
<polygon points="261.9,308.2 263.6,308.2 250.4,302.6 248.7,302.7" fill="#0a8863" stroke-width="0.70"/>
<polygon points="366.4,312.7 368.1,312.2 354.9,306.3 353.2,306.8" fill="#048364" stroke-width="0.73"/>
<polygon points="295.6,311.8 297.3,311.5 284.1,305.8 282.4,306.1" fill="#058464" stroke-width="0.71"/>
<polygon points="199.6,286.2 201.3,287.9 188.2,283.4 186.5,281.8" fill="#2b9a60" stroke-width="0.67"/>
<polygon points="401.8,311.1 403.5,310.5 390.4,304.6 388.6,305.2" fill="#068563" stroke-width="0.74"/>
<polygon points="329.2,313.3 331.0,312.9 317.8,307.1 316.1,307.5" fill="#038364" stroke-width="0.72"/>
<polygon points="228.2,300.9 229.9,301.4 216.7,296.0 215.0,295.6" fill="#168f62" stroke-width="0.69"/>
<polygon points="364.7,313.2 366.4,312.7 353.2,306.8 351.5,307.3" fill="#048364" stroke-width="0.73"/>
<polygon points="260.1,308.3 261.9,308.2 248.7,302.7 247.0,302.7" fill="#0b8863" stroke-width="0.70"/>
<polygon points="293.8,312.0 295.6,311.8 282.4,306.1 280.7,306.4" fill="#068464" stroke-width="0.71"/>
<polygon points="400.1,311.7 401.8,311.1 388.6,305.2 386.9,305.9" fill="#068564" stroke-width="0.74"/>
<polygon points="327.5,313.7 329.2,313.3 316.1,307.5 314.4,307.9" fill="#038364" stroke-width="0.72"/>
<polygon points="362.9,313.7 364.7,313.2 351.5,307.3 349.8,307.8" fill="#048364" stroke-width="0.73"/>
<polygon points="197.9,284.0 199.6,286.2 186.5,281.8 184.8,279.8" fill="#2f9d60" stroke-width="0.66"/>
<polygon points="226.5,300.3 228.2,300.9 215.0,295.6 213.3,295.1" fill="#189062" stroke-width="0.69"/>
<polygon points="258.4,308.3 260.1,308.3 247.0,302.7 245.3,302.7" fill="#0c8963" stroke-width="0.70"/>
<polygon points="292.1,312.3 293.8,312.0 280.7,306.4 279.0,306.6" fill="#068564" stroke-width="0.71"/>
<polygon points="398.3,312.4 400.1,311.7 386.9,305.9 385.2,306.5" fill="#068564" stroke-width="0.74"/>
<polygon points="325.8,314.1 327.5,313.7 314.4,307.9 312.7,308.3" fill="#048364" stroke-width="0.72"/>
<polygon points="361.2,314.2 362.9,313.7 349.8,307.8 348.1,308.3" fill="#038364" stroke-width="0.73"/>
<polygon points="290.4,312.5 292.1,312.3 279.0,306.6 277.3,306.9" fill="#068563" stroke-width="0.71"/>
<polygon points="396.6,313.0 398.3,312.4 385.2,306.5 383.5,307.1" fill="#068464" stroke-width="0.74"/>
<polygon points="256.7,308.2 258.4,308.3 245.3,302.7 243.6,302.7" fill="#0d8963" stroke-width="0.70"/>
<polygon points="224.7,299.7 226.5,300.3 213.3,295.1 211.6,294.5" fill="#1a9162" stroke-width="0.69"/>
<polygon points="324.1,314.5 325.8,314.1 312.7,308.3 311.0,308.7" fill="#048364" stroke-width="0.72"/>
<polygon points="359.5,314.7 361.2,314.2 348.1,308.3 346.4,308.8" fill="#038364" stroke-width="0.73"/>
<polygon points="196.2,281.5 197.9,284.0 184.8,279.8 183.1,277.6" fill="#349f60" stroke-width="0.65"/>
<polygon points="394.9,313.6 396.6,313.0 383.5,307.1 381.8,307.7" fill="#058464" stroke-width="0.74"/>
<polygon points="288.7,312.7 290.4,312.5 277.3,306.9 275.6,307.1" fill="#078563" stroke-width="0.71"/>
<polygon points="255.0,308.2 256.7,308.2 243.6,302.7 241.9,302.7" fill="#0e8a63" stroke-width="0.70"/>
<polygon points="223.0,298.8 224.7,299.7 211.6,294.5 209.9,293.8" fill="#1c9262" stroke-width="0.69"/>
<polygon points="357.8,315.2 359.5,314.7 346.4,308.8 344.7,309.3" fill="#038364" stroke-width="0.73"/>
<polygon points="322.4,314.8 324.1,314.5 311.0,308.7 309.3,309.1" fill="#048364" stroke-width="0.72"/>
<polygon points="393.2,314.2 394.9,313.6 381.8,307.7 380.1,308.3" fill="#058464" stroke-width="0.74"/>
<polygon points="287.0,312.9 288.7,312.7 275.6,307.1 273.9,307.3" fill="#078663" stroke-width="0.71"/>
<polygon points="253.3,308.1 255.0,308.2 241.9,302.7 240.2,302.7" fill="#0f8a63" stroke-width="0.70"/>
<polygon points="356.1,315.7 357.8,315.2 344.7,309.3 343.0,309.8" fill="#038364" stroke-width="0.73"/>
<polygon points="194.5,278.6 196.2,281.5 183.1,277.6 181.3,274.9" fill="#3aa25f" stroke-width="0.67"/>
<polygon points="320.7,315.2 322.4,314.8 309.3,309.1 307.5,309.5" fill="#048364" stroke-width="0.72"/>
<polygon points="391.5,314.8 393.2,314.2 380.1,308.3 378.4,308.9" fill="#058464" stroke-width="0.74"/>
<polygon points="221.3,297.8 223.0,298.8 209.9,293.8 208.2,292.9" fill="#1e9361" stroke-width="0.69"/>
<polygon points="285.3,313.1 287.0,312.9 273.9,307.3 272.1,307.5" fill="#088663" stroke-width="0.71"/>
<polygon points="251.6,308.0 253.3,308.1 240.2,302.7 238.4,302.6" fill="#108b63" stroke-width="0.70"/>
<polygon points="354.4,316.2 356.1,315.7 343.0,309.8 341.2,310.3" fill="#038364" stroke-width="0.73"/>
<polygon points="319.0,315.5 320.7,315.2 307.5,309.5 305.8,309.8" fill="#048364" stroke-width="0.72"/>
<polygon points="389.8,315.4 391.5,314.8 378.4,308.9 376.6,309.5" fill="#058464" stroke-width="0.74"/>
<polygon points="283.6,313.3 285.3,313.1 272.1,307.5 270.4,307.7" fill="#088663" stroke-width="0.71"/>
<polygon points="219.6,296.6 221.3,297.8 208.2,292.9 206.5,291.8" fill="#219561" stroke-width="0.69"/>
<polygon points="352.7,316.6 354.4,316.2 341.2,310.3 339.5,310.8" fill="#038364" stroke-width="0.73"/>
<polygon points="192.8,275.2 194.5,278.6 181.3,274.9 179.6,271.7" fill="#40a55f" stroke-width="0.68"/>
<polygon points="249.9,307.8 251.6,308.0 238.4,302.6 236.7,302.5" fill="#118b63" stroke-width="0.70"/>
<polygon points="317.3,315.9 319.0,315.5 305.8,309.8 304.1,310.2" fill="#058464" stroke-width="0.72"/>
<polygon points="388.1,316.0 389.8,315.4 376.6,309.5 374.9,310.0" fill="#048464" stroke-width="0.74"/>
<polygon points="281.8,313.4 283.6,313.3 270.4,307.7 268.7,307.9" fill="#098763" stroke-width="0.71"/>
<polygon points="350.9,317.1 352.7,316.6 339.5,310.8 337.8,311.2" fill="#038364" stroke-width="0.73"/>
<polygon points="315.5,316.2 317.3,315.9 304.1,310.2 302.4,310.5" fill="#058464" stroke-width="0.72"/>
<polygon points="386.4,316.5 388.1,316.0 374.9,310.0 373.2,310.6" fill="#048364" stroke-width="0.74"/>
<polygon points="248.2,307.6 249.9,307.8 236.7,302.5 235.0,302.3" fill="#128c63" stroke-width="0.70"/>
<polygon points="217.9,295.3 219.6,296.6 206.5,291.8 204.8,290.7" fill="#249661" stroke-width="0.69"/>
<polygon points="280.1,313.5 281.8,313.4 268.7,307.9 267.0,308.0" fill="#098763" stroke-width="0.71"/>
<polygon points="349.2,317.5 350.9,317.1 337.8,311.2 336.1,311.7" fill="#038364" stroke-width="0.73"/>
<polygon points="384.6,317.1 386.4,316.5 373.2,310.6 371.5,311.1" fill="#048364" stroke-width="0.74"/>
<polygon points="313.8,316.5 315.5,316.2 302.4,310.5 300.7,310.8" fill="#058464" stroke-width="0.72"/>
<polygon points="191.0,270.7 192.8,275.2 179.6,271.7 177.9,267.6" fill="#48a95e" stroke-width="0.73"/>
<polygon points="246.4,307.3 248.2,307.6 235.0,302.3 233.3,302.0" fill="#138d62" stroke-width="0.70"/>
<polygon points="216.2,293.9 217.9,295.3 204.8,290.7 203.0,289.4" fill="#279861" stroke-width="0.69"/>
<polygon points="278.4,313.6 280.1,313.5 267.0,308.0 265.3,308.1" fill="#0a8763" stroke-width="0.71"/>
<polygon points="347.5,317.9 349.2,317.5 336.1,311.7 334.4,312.1" fill="#038364" stroke-width="0.73"/>
<polygon points="382.9,317.6 384.6,317.1 371.5,311.1 369.8,311.7" fill="#048364" stroke-width="0.74"/>
<polygon points="312.1,316.8 313.8,316.5 300.7,310.8 299.0,311.2" fill="#058464" stroke-width="0.72"/>
<polygon points="244.7,307.0 246.4,307.3 233.3,302.0 231.6,301.7" fill="#148e62" stroke-width="0.70"/>
<polygon points="345.8,318.3 347.5,317.9 334.4,312.1 332.7,312.5" fill="#048364" stroke-width="0.73"/>
<polygon points="276.7,313.7 278.4,313.6 265.3,308.1 263.6,308.2" fill="#0b8863" stroke-width="0.71"/>
<polygon points="381.2,318.1 382.9,317.6 369.8,311.7 368.1,312.2" fill="#048364" stroke-width="0.74"/>
<polygon points="310.4,317.1 312.1,316.8 299.0,311.2 297.3,311.5" fill="#068464" stroke-width="0.72"/>
<polygon points="214.5,292.2 216.2,293.9 203.0,289.4 201.3,287.9" fill="#2a9a60" stroke-width="0.68"/>
<polygon points="189.3,265.3 191.0,270.7 177.9,267.6 176.2,262.5" fill="#51ae5d" stroke-width="0.75"/>
<polygon points="243.0,306.5 244.7,307.0 231.6,301.7 229.9,301.4" fill="#168f62" stroke-width="0.70"/>
<polygon points="344.1,318.7 345.8,318.3 332.7,312.5 331.0,312.9" fill="#048364" stroke-width="0.73"/>
<polygon points="379.5,318.6 381.2,318.1 368.1,312.2 366.4,312.7" fill="#048364" stroke-width="0.74"/>
<polygon points="275.0,313.7 276.7,313.7 263.6,308.2 261.9,308.2" fill="#0b8863" stroke-width="0.71"/>
<polygon points="308.7,317.4 310.4,317.1 297.3,311.5 295.6,311.8" fill="#068564" stroke-width="0.72"/>
<polygon points="342.4,319.0 344.1,318.7 331.0,312.9 329.2,313.3" fill="#048364" stroke-width="0.73"/>
<polygon points="212.7,290.3 214.5,292.2 201.3,287.9 199.6,286.2" fill="#2e9c60" stroke-width="0.67"/>
<polygon points="377.8,319.1 379.5,318.6 366.4,312.7 364.7,313.2" fill="#048364" stroke-width="0.74"/>
<polygon points="241.3,306.0 243.0,306.5 229.9,301.4 228.2,300.9" fill="#178f62" stroke-width="0.70"/>
<polygon points="273.3,313.7 275.0,313.7 261.9,308.2 260.1,308.3" fill="#0c8963" stroke-width="0.71"/>
<polygon points="307.0,317.6 308.7,317.4 295.6,311.8 293.8,312.0" fill="#068564" stroke-width="0.72"/>
<polygon points="340.7,319.4 342.4,319.0 329.2,313.3 327.5,313.7" fill="#048364" stroke-width="0.73"/>
<polygon points="376.1,319.6 377.8,319.1 364.7,313.2 362.9,313.7" fill="#048364" stroke-width="0.74"/>
<polygon points="305.3,317.9 307.0,317.6 293.8,312.0 292.1,312.3" fill="#078563" stroke-width="0.72"/>
<polygon points="271.6,313.7 273.3,313.7 260.1,308.3 258.4,308.3" fill="#0d8963" stroke-width="0.71"/>
<polygon points="239.6,305.4 241.3,306.0 228.2,300.9 226.5,300.3" fill="#199062" stroke-width="0.70"/>
<polygon points="211.0,287.9 212.7,290.3 199.6,286.2 197.9,284.0" fill="#339e60" stroke-width="0.66"/>
<polygon points="374.4,320.1 376.1,319.6 362.9,313.7 361.2,314.2" fill="#048364" stroke-width="0.74"/>
<polygon points="339.0,319.8 340.7,319.4 327.5,313.7 325.8,314.1" fill="#048364" stroke-width="0.73"/>
<polygon points="303.5,318.1 305.3,317.9 292.1,312.3 290.4,312.5" fill="#078563" stroke-width="0.72"/>
<polygon points="269.9,313.6 271.6,313.7 258.4,308.3 256.7,308.2" fill="#0e8a63" stroke-width="0.71"/>
<polygon points="237.9,304.7 239.6,305.4 226.5,300.3 224.7,299.7" fill="#1b9262" stroke-width="0.70"/>
<polygon points="372.6,320.5 374.4,320.1 361.2,314.2 359.5,314.7" fill="#048364" stroke-width="0.74"/>
<polygon points="337.2,320.1 339.0,319.8 325.8,314.1 324.1,314.5" fill="#048464" stroke-width="0.73"/>
<polygon points="301.8,318.3 303.5,318.1 290.4,312.5 288.7,312.7" fill="#088663" stroke-width="0.72"/>
<polygon points="209.3,285.1 211.0,287.9 197.9,284.0 196.2,281.5" fill="#38a15f" stroke-width="0.66"/>
<polygon points="268.1,313.5 269.9,313.6 256.7,308.2 255.0,308.2" fill="#0f8a63" stroke-width="0.71"/>
<polygon points="370.9,321.0 372.6,320.5 359.5,314.7 357.8,315.2" fill="#048364" stroke-width="0.74"/>
<polygon points="335.5,320.5 337.2,320.1 324.1,314.5 322.4,314.8" fill="#058464" stroke-width="0.73"/>
<polygon points="236.2,303.7 237.9,304.7 224.7,299.7 223.0,298.8" fill="#1e9362" stroke-width="0.70"/>
<polygon points="300.1,318.5 301.8,318.3 288.7,312.7 287.0,312.9" fill="#088663" stroke-width="0.72"/>
<polygon points="266.4,313.4 268.1,313.5 255.0,308.2 253.3,308.1" fill="#108b63" stroke-width="0.71"/>
<polygon points="369.2,321.5 370.9,321.0 357.8,315.2 356.1,315.7" fill="#048364" stroke-width="0.74"/>
<polygon points="333.8,320.8 335.5,320.5 322.4,314.8 320.7,315.2" fill="#058464" stroke-width="0.73"/>
<polygon points="234.4,302.5 236.2,303.7 223.0,298.8 221.3,297.8" fill="#209461" stroke-width="0.70"/>
<polygon points="207.6,281.8 209.3,285.1 196.2,281.5 194.5,278.6" fill="#3ea45f" stroke-width="0.68"/>
<polygon points="298.4,318.6 300.1,318.5 287.0,312.9 285.3,313.1" fill="#098663" stroke-width="0.72"/>
<polygon points="367.5,322.0 369.2,321.5 356.1,315.7 354.4,316.2" fill="#048364" stroke-width="0.74"/>
<polygon points="264.7,313.3 266.4,313.4 253.3,308.1 251.6,308.0" fill="#118b63" stroke-width="0.71"/>
<polygon points="332.1,321.2 333.8,320.8 320.7,315.2 319.0,315.5" fill="#058464" stroke-width="0.73"/>
<polygon points="296.7,318.8 298.4,318.6 285.3,313.1 283.6,313.3" fill="#098763" stroke-width="0.72"/>
<polygon points="365.8,322.4 367.5,322.0 354.4,316.2 352.7,316.6" fill="#048364" stroke-width="0.74"/>
<polygon points="232.7,301.2 234.4,302.5 221.3,297.8 219.6,296.6" fill="#239661" stroke-width="0.70"/>
<polygon points="330.4,321.5 332.1,321.2 319.0,315.5 317.3,315.9" fill="#058464" stroke-width="0.73"/>
<polygon points="263.0,313.1 264.7,313.3 251.6,308.0 249.9,307.8" fill="#128c63" stroke-width="0.71"/>
<polygon points="205.9,278.1 207.6,281.8 194.5,278.6 192.8,275.2" fill="#45a85e" stroke-width="0.70"/>
<polygon points="295.0,318.9 296.7,318.8 283.6,313.3 281.8,313.4" fill="#0a8763" stroke-width="0.72"/>
<polygon points="364.1,322.8 365.8,322.4 352.7,316.6 350.9,317.1" fill="#048364" stroke-width="0.74"/>
<polygon points="328.7,321.8 330.4,321.5 317.3,315.9 315.5,316.2" fill="#058464" stroke-width="0.73"/>
<polygon points="261.3,312.8 263.0,313.1 249.9,307.8 248.2,307.6" fill="#138d62" stroke-width="0.71"/>
<polygon points="231.0,299.7 232.7,301.2 219.6,296.6 217.9,295.3" fill="#269861" stroke-width="0.69"/>
<polygon points="293.3,319.0 295.0,318.9 281.8,313.4 280.1,313.5" fill="#0a8763" stroke-width="0.72"/>
<polygon points="362.4,323.2 364.1,322.8 350.9,317.1 349.2,317.5" fill="#048364" stroke-width="0.74"/>
<polygon points="327.0,322.1 328.7,321.8 315.5,316.2 313.8,316.5" fill="#068464" stroke-width="0.73"/>
<polygon points="259.6,312.5 261.3,312.8 248.2,307.6 246.4,307.3" fill="#148e62" stroke-width="0.71"/>
<polygon points="360.7,323.6 362.4,323.2 349.2,317.5 347.5,317.9" fill="#048364" stroke-width="0.74"/>
<polygon points="291.6,319.1 293.3,319.0 280.1,313.5 278.4,313.6" fill="#0b8863" stroke-width="0.72"/>
<polygon points="204.2,273.2 205.9,278.1 192.8,275.2 191.0,270.7" fill="#4eac5d" stroke-width="0.75"/>
<polygon points="229.3,298.1 231.0,299.7 217.9,295.3 216.2,293.9" fill="#2a9a60" stroke-width="0.69"/>
<polygon points="325.2,322.4 327.0,322.1 313.8,316.5 312.1,316.8" fill="#068564" stroke-width="0.73"/>
<polygon points="257.9,312.1 259.6,312.5 246.4,307.3 244.7,307.0" fill="#168f62" stroke-width="0.71"/>
<polygon points="358.9,324.0 360.7,323.6 347.5,317.9 345.8,318.3" fill="#048364" stroke-width="0.74"/>
<polygon points="289.8,319.1 291.6,319.1 278.4,313.6 276.7,313.7" fill="#0c8863" stroke-width="0.72"/>
<polygon points="323.5,322.7 325.2,322.4 312.1,316.8 310.4,317.1" fill="#068563" stroke-width="0.73"/>
<polygon points="227.6,296.2 229.3,298.1 216.2,293.9 214.5,292.2" fill="#2e9c60" stroke-width="0.68"/>
<polygon points="357.2,324.3 358.9,324.0 345.8,318.3 344.1,318.7" fill="#048364" stroke-width="0.74"/>
<polygon points="256.1,311.6 257.9,312.1 244.7,307.0 243.0,306.5" fill="#178f62" stroke-width="0.71"/>
<polygon points="288.1,319.1 289.8,319.1 276.7,313.7 275.0,313.7" fill="#0c8963" stroke-width="0.72"/>
<polygon points="321.8,322.9 323.5,322.7 310.4,317.1 308.7,317.4" fill="#078563" stroke-width="0.73"/>
<polygon points="202.5,267.3 204.2,273.2 191.0,270.7 189.3,265.3" fill="#58b15c" stroke-width="0.75"/>
<polygon points="355.5,324.7 357.2,324.3 344.1,318.7 342.4,319.0" fill="#048464" stroke-width="0.74"/>
<polygon points="320.1,323.2 321.8,322.9 308.7,317.4 307.0,317.6" fill="#078563" stroke-width="0.73"/>
<polygon points="254.4,311.0 256.1,311.6 243.0,306.5 241.3,306.0" fill="#199062" stroke-width="0.71"/>
<polygon points="286.4,319.0 288.1,319.1 275.0,313.7 273.3,313.7" fill="#0d8963" stroke-width="0.72"/>
<polygon points="225.9,294.0 227.6,296.2 214.5,292.2 212.7,290.3" fill="#329e60" stroke-width="0.67"/>
<polygon points="353.8,325.0 355.5,324.7 342.4,319.0 340.7,319.4" fill="#058464" stroke-width="0.74"/>
<polygon points="318.4,323.4 320.1,323.2 307.0,317.6 305.3,317.9" fill="#088663" stroke-width="0.73"/>
<polygon points="284.7,319.0 286.4,319.0 273.3,313.7 271.6,313.7" fill="#0e8a63" stroke-width="0.72"/>
<polygon points="252.7,310.3 254.4,311.0 241.3,306.0 239.6,305.4" fill="#1b9262" stroke-width="0.71"/>
<polygon points="352.1,325.4 353.8,325.0 340.7,319.4 339.0,319.8" fill="#058464" stroke-width="0.74"/>
<polygon points="224.2,291.3 225.9,294.0 212.7,290.3 211.0,287.9" fill="#37a15f" stroke-width="0.65"/>
<polygon points="316.7,323.6 318.4,323.4 305.3,317.9 303.5,318.1" fill="#088663" stroke-width="0.73"/>
<polygon points="283.0,318.9 284.7,319.0 271.6,313.7 269.9,313.6" fill="#0f8b63" stroke-width="0.72"/>
<polygon points="251.0,309.4 252.7,310.3 239.6,305.4 237.9,304.7" fill="#1d9362" stroke-width="0.71"/>
<polygon points="350.4,325.7 352.1,325.4 339.0,319.8 337.2,320.1" fill="#058464" stroke-width="0.74"/>
<polygon points="315.0,323.7 316.7,323.6 303.5,318.1 301.8,318.3" fill="#088663" stroke-width="0.73"/>
<polygon points="281.3,318.8 283.0,318.9 269.9,313.6 268.1,313.5" fill="#108b63" stroke-width="0.72"/>
<polygon points="348.7,326.1 350.4,325.7 337.2,320.1 335.5,320.5" fill="#058464" stroke-width="0.74"/>
<polygon points="222.5,288.1 224.2,291.3 211.0,287.9 209.3,285.1" fill="#3da45f" stroke-width="0.67"/>
<polygon points="249.3,308.3 251.0,309.4 237.9,304.7 236.2,303.7" fill="#209461" stroke-width="0.71"/>
<polygon points="313.3,323.9 315.0,323.7 301.8,318.3 300.1,318.5" fill="#098763" stroke-width="0.73"/>
<polygon points="279.6,318.6 281.3,318.8 268.1,313.5 266.4,313.4" fill="#118c63" stroke-width="0.72"/>
<polygon points="346.9,326.4 348.7,326.1 335.5,320.5 333.8,320.8" fill="#068464" stroke-width="0.74"/>
<polygon points="311.5,324.0 313.3,323.9 300.1,318.5 298.4,318.6" fill="#0a8763" stroke-width="0.73"/>
<polygon points="247.6,306.9 249.3,308.3 236.2,303.7 234.4,302.5" fill="#239661" stroke-width="0.71"/>
<polygon points="345.2,326.7 346.9,326.4 333.8,320.8 332.1,321.2" fill="#068564" stroke-width="0.74"/>
<polygon points="277.8,318.4 279.6,318.6 266.4,313.4 264.7,313.3" fill="#128c63" stroke-width="0.72"/>
<polygon points="220.7,284.5 222.5,288.1 209.3,285.1 207.6,281.8" fill="#44a75e" stroke-width="0.69"/>
<polygon points="309.8,324.1 311.5,324.0 298.4,318.6 296.7,318.8" fill="#0a8763" stroke-width="0.73"/>
<polygon points="343.5,327.0 345.2,326.7 332.1,321.2 330.4,321.5" fill="#068564" stroke-width="0.74"/>
<polygon points="276.1,318.1 277.8,318.4 264.7,313.3 263.0,313.1" fill="#138d62" stroke-width="0.72"/>
<polygon points="245.9,305.4 247.6,306.9 234.4,302.5 232.7,301.2" fill="#269861" stroke-width="0.70"/>
<polygon points="308.1,324.2 309.8,324.1 296.7,318.8 295.0,318.9" fill="#0b8863" stroke-width="0.73"/>
<polygon points="341.8,327.3 343.5,327.0 330.4,321.5 328.7,321.8" fill="#068563" stroke-width="0.74"/>
<polygon points="274.4,317.8 276.1,318.1 263.0,313.1 261.3,312.8" fill="#158e62" stroke-width="0.72"/>
<polygon points="219.0,280.3 220.7,284.5 207.6,281.8 205.9,278.1" fill="#4bab5e" stroke-width="0.71"/>
<polygon points="306.4,324.3 308.1,324.2 295.0,318.9 293.3,319.0" fill="#0b8863" stroke-width="0.73"/>
<polygon points="244.2,303.7 245.9,305.4 232.7,301.2 231.0,299.7" fill="#2a9a60" stroke-width="0.69"/>
<polygon points="340.1,327.6 341.8,327.3 328.7,321.8 327.0,322.1" fill="#078563" stroke-width="0.74"/>
<polygon points="272.7,317.4 274.4,317.8 261.3,312.8 259.6,312.5" fill="#168f62" stroke-width="0.72"/>
<polygon points="304.7,324.3 306.4,324.3 293.3,319.0 291.6,319.1" fill="#0c8963" stroke-width="0.73"/>
<polygon points="338.4,327.8 340.1,327.6 327.0,322.1 325.2,322.4" fill="#078563" stroke-width="0.74"/>
<polygon points="242.4,301.8 244.2,303.7 231.0,299.7 229.3,298.1" fill="#2e9c60" stroke-width="0.69"/>
<polygon points="271.0,316.9 272.7,317.4 259.6,312.5 257.9,312.1" fill="#189062" stroke-width="0.72"/>
<polygon points="217.3,274.9 219.0,280.3 205.9,278.1 204.2,273.2" fill="#54af5d" stroke-width="0.75"/>
<polygon points="303.0,324.3 304.7,324.3 291.6,319.1 289.8,319.1" fill="#0d8963" stroke-width="0.73"/>
<polygon points="336.7,328.1 338.4,327.8 325.2,322.4 323.5,322.7" fill="#078663" stroke-width="0.74"/>
<polygon points="269.3,316.3 271.0,316.9 257.9,312.1 256.1,311.6" fill="#1a9162" stroke-width="0.72"/>
<polygon points="301.3,324.3 303.0,324.3 289.8,319.1 288.1,319.1" fill="#0e8a63" stroke-width="0.73"/>
<polygon points="240.7,299.7 242.4,301.8 229.3,298.1 227.6,296.2" fill="#329e60" stroke-width="0.67"/>
<polygon points="335.0,328.3 336.7,328.1 323.5,322.7 321.8,322.9" fill="#088663" stroke-width="0.74"/>
<polygon points="333.2,328.5 335.0,328.3 321.8,322.9 320.1,323.2" fill="#088663" stroke-width="0.74"/>
<polygon points="299.5,324.2 301.3,324.3 288.1,319.1 286.4,319.0" fill="#0f8a63" stroke-width="0.73"/>
<polygon points="267.6,315.7 269.3,316.3 256.1,311.6 254.4,311.0" fill="#1b9262" stroke-width="0.72"/>
<polygon points="215.6,268.5 217.3,274.9 204.2,273.2 202.5,267.3" fill="#5fb55c" stroke-width="0.75"/>
<polygon points="239.0,297.1 240.7,299.7 227.6,296.2 225.9,294.0" fill="#37a05f" stroke-width="0.65"/>
<polygon points="331.5,328.7 333.2,328.5 320.1,323.2 318.4,323.4" fill="#098663" stroke-width="0.74"/>
<polygon points="297.8,324.1 299.5,324.2 286.4,319.0 284.7,319.0" fill="#108b63" stroke-width="0.73"/>
<polygon points="265.9,314.8 267.6,315.7 254.4,311.0 252.7,310.3" fill="#1e9362" stroke-width="0.72"/>
<polygon points="329.8,328.9 331.5,328.7 318.4,323.4 316.7,323.6" fill="#098763" stroke-width="0.74"/>
<polygon points="296.1,323.9 297.8,324.1 284.7,319.0 283.0,318.9" fill="#118b63" stroke-width="0.73"/>
<polygon points="237.3,294.0 239.0,297.1 225.9,294.0 224.2,291.3" fill="#3ca35f" stroke-width="0.67"/>
<polygon points="264.1,313.8 265.9,314.8 252.7,310.3 251.0,309.4" fill="#209461" stroke-width="0.72"/>
<polygon points="328.1,329.0 329.8,328.9 316.7,323.6 315.0,323.7" fill="#0a8763" stroke-width="0.74"/>
<polygon points="294.4,323.7 296.1,323.9 283.0,318.9 281.3,318.8" fill="#128c63" stroke-width="0.73"/>
<polygon points="326.4,329.1 328.1,329.0 315.0,323.7 313.3,323.9" fill="#0a8863" stroke-width="0.74"/>
<polygon points="262.4,312.5 264.1,313.8 251.0,309.4 249.3,308.3" fill="#239661" stroke-width="0.72"/>
<polygon points="235.6,290.5 237.3,294.0 224.2,291.3 222.5,288.1" fill="#43a75e" stroke-width="0.69"/>
<polygon points="292.7,323.5 294.4,323.7 281.3,318.8 279.6,318.6" fill="#138d62" stroke-width="0.73"/>
<polygon points="324.7,329.2 326.4,329.1 313.3,323.9 311.5,324.0" fill="#0b8863" stroke-width="0.74"/>
<polygon points="260.7,310.9 262.4,312.5 249.3,308.3 247.6,306.9" fill="#269861" stroke-width="0.70"/>
<polygon points="291.0,323.3 292.7,323.5 279.6,318.6 277.8,318.4" fill="#148e62" stroke-width="0.73"/>
<polygon points="323.0,329.3 324.7,329.2 311.5,324.0 309.8,324.1" fill="#0c8863" stroke-width="0.74"/>
<polygon points="233.9,286.3 235.6,290.5 222.5,288.1 220.7,284.5" fill="#4aaa5e" stroke-width="0.71"/>
<polygon points="289.3,322.9 291.0,323.3 277.8,318.4 276.1,318.1" fill="#158e62" stroke-width="0.73"/>
<polygon points="259.0,309.1 260.7,310.9 247.6,306.9 245.9,305.4" fill="#2a9a60" stroke-width="0.70"/>
<polygon points="321.2,329.3 323.0,329.3 309.8,324.1 308.1,324.2" fill="#0c8963" stroke-width="0.74"/>
<polygon points="287.6,322.5 289.3,322.9 276.1,318.1 274.4,317.8" fill="#178f62" stroke-width="0.73"/>
<polygon points="319.5,329.4 321.2,329.3 308.1,324.2 306.4,324.3" fill="#0d8963" stroke-width="0.74"/>
<polygon points="257.3,307.1 259.0,309.1 245.9,305.4 244.2,303.7" fill="#2e9c60" stroke-width="0.69"/>
<polygon points="232.2,281.7 233.9,286.3 220.7,284.5 219.0,280.3" fill="#52ae5d" stroke-width="0.74"/>
<polygon points="285.8,322.0 287.6,322.5 274.4,317.8 272.7,317.4" fill="#199062" stroke-width="0.73"/>
<polygon points="317.8,329.4 319.5,329.4 306.4,324.3 304.7,324.3" fill="#0e8a63" stroke-width="0.74"/>
<polygon points="255.6,305.0 257.3,307.1 244.2,303.7 242.4,301.8" fill="#329e60" stroke-width="0.68"/>
<polygon points="284.1,321.4 285.8,322.0 272.7,317.4 271.0,316.9" fill="#1a9162" stroke-width="0.73"/>
<polygon points="316.1,329.3 317.8,329.4 304.7,324.3 303.0,324.3" fill="#0f8a63" stroke-width="0.74"/>
<polygon points="230.4,275.6 232.2,281.7 219.0,280.3 217.3,274.9" fill="#5db45c" stroke-width="0.75"/>
<polygon points="314.4,329.2 316.1,329.3 303.0,324.3 301.3,324.3" fill="#108b63" stroke-width="0.74"/>
<polygon points="282.4,320.7 284.1,321.4 271.0,316.9 269.3,316.3" fill="#1c9262" stroke-width="0.73"/>
<polygon points="253.9,302.5 255.6,305.0 242.4,301.8 240.7,299.7" fill="#37a15f" stroke-width="0.66"/>
<polygon points="312.7,329.1 314.4,329.2 301.3,324.3 299.5,324.2" fill="#118b63" stroke-width="0.74"/>
<polygon points="280.7,319.9 282.4,320.7 269.3,316.3 267.6,315.7" fill="#1e9361" stroke-width="0.73"/>
<polygon points="311.0,328.9 312.7,329.1 299.5,324.2 297.8,324.1" fill="#128c63" stroke-width="0.74"/>
<polygon points="252.1,299.5 253.9,302.5 240.7,299.7 239.0,297.1" fill="#3ca35f" stroke-width="0.66"/>
<polygon points="279.0,318.9 280.7,319.9 267.6,315.7 265.9,314.8" fill="#219561" stroke-width="0.73"/>
<polygon points="228.7,268.5 230.4,275.6 217.3,274.9 215.6,268.5" fill="#69b95b" stroke-width="0.75"/>
<polygon points="309.3,328.6 311.0,328.9 297.8,324.1 296.1,323.9" fill="#138d62" stroke-width="0.74"/>
<polygon points="277.3,317.8 279.0,318.9 265.9,314.8 264.1,313.8" fill="#239661" stroke-width="0.73"/>
<polygon points="250.4,295.9 252.1,299.5 239.0,297.1 237.3,294.0" fill="#43a75e" stroke-width="0.69"/>
<polygon points="307.5,328.4 309.3,328.6 296.1,323.9 294.4,323.7" fill="#148d62" stroke-width="0.74"/>
<polygon points="275.6,316.2 277.3,317.8 264.1,313.8 262.4,312.5" fill="#279861" stroke-width="0.72"/>
<polygon points="305.8,328.1 307.5,328.4 294.4,323.7 292.7,323.5" fill="#158e62" stroke-width="0.74"/>
<polygon points="248.7,291.8 250.4,295.9 237.3,294.0 235.6,290.5" fill="#4aaa5e" stroke-width="0.71"/>
<polygon points="304.1,327.7 305.8,328.1 292.7,323.5 291.0,323.3" fill="#178f62" stroke-width="0.74"/>
<polygon points="273.8,314.3 275.6,316.2 262.4,312.5 260.7,310.9" fill="#2b9a60" stroke-width="0.70"/>
<polygon points="302.4,327.3 304.1,327.7 291.0,323.3 289.3,322.9" fill="#189062" stroke-width="0.74"/>
<polygon points="272.1,312.1 273.8,314.3 260.7,310.9 259.0,309.1" fill="#2f9c60" stroke-width="0.68"/>
<polygon points="247.0,287.0 248.7,291.8 235.6,290.5 233.9,286.3" fill="#53af5d" stroke-width="0.74"/>
<polygon points="300.7,326.7 302.4,327.3 289.3,322.9 287.6,322.5" fill="#1a9162" stroke-width="0.74"/>
<polygon points="270.4,309.8 272.1,312.1 259.0,309.1 257.3,307.1" fill="#339f60" stroke-width="0.67"/>
<polygon points="299.0,326.1 300.7,326.7 287.6,322.5 285.8,322.0" fill="#1c9262" stroke-width="0.74"/>
<polygon points="245.3,281.7 247.0,287.0 233.9,286.3 232.2,281.7" fill="#5cb35c" stroke-width="0.75"/>
<polygon points="297.3,325.4 299.0,326.1 285.8,322.0 284.1,321.4" fill="#1e9362" stroke-width="0.74"/>
<polygon points="268.7,307.2 270.4,309.8 257.3,307.1 255.6,305.0" fill="#38a15f" stroke-width="0.65"/>
<polygon points="295.5,324.6 297.3,325.4 284.1,321.4 282.4,320.7" fill="#209461" stroke-width="0.74"/>
<polygon points="243.6,274.8 245.3,281.7 232.2,281.7 230.4,275.6" fill="#68b95b" stroke-width="0.75"/>
<polygon points="267.0,304.2 268.7,307.2 255.6,305.0 253.9,302.5" fill="#3ea45f" stroke-width="0.66"/>
<polygon points="293.8,323.6 295.5,324.6 282.4,320.7 280.7,319.9" fill="#229561" stroke-width="0.74"/>
<polygon points="292.1,322.4 293.8,323.6 280.7,319.9 279.0,318.9" fill="#259761" stroke-width="0.74"/>
<polygon points="265.3,300.7 267.0,304.2 253.9,302.5 252.1,299.5" fill="#44a75e" stroke-width="0.68"/>
<polygon points="241.9,266.8 243.6,274.8 230.4,275.6 228.7,268.5" fill="#75bf5a" stroke-width="0.75"/>
<polygon points="290.4,320.9 292.1,322.4 279.0,318.9 277.3,317.8" fill="#289961" stroke-width="0.73"/>
<polygon points="263.6,296.5 265.3,300.7 252.1,299.5 250.4,295.9" fill="#4cab5e" stroke-width="0.71"/>
<polygon points="288.7,319.0 290.4,320.9 277.3,317.8 275.6,316.2" fill="#2c9b60" stroke-width="0.70"/>
<polygon points="261.9,291.6 263.6,296.5 250.4,295.9 248.7,291.8" fill="#54af5d" stroke-width="0.74"/>
<polygon points="287.0,316.7 288.7,319.0 275.6,316.2 273.8,314.3" fill="#309d60" stroke-width="0.67"/>
<polygon points="285.3,314.0 287.0,316.7 273.8,314.3 272.1,312.1" fill="#35a05f" stroke-width="0.65"/>
<polygon points="260.1,285.9 261.9,291.6 248.7,291.8 247.0,287.0" fill="#5eb45c" stroke-width="0.75"/>
<polygon points="283.6,311.2 285.3,314.0 272.1,312.1 270.4,309.8" fill="#3ba35f" stroke-width="0.66"/>
<polygon points="258.4,279.7 260.1,285.9 247.0,287.0 245.3,281.7" fill="#69b95b" stroke-width="0.75"/>
<polygon points="281.8,308.0 283.6,311.2 270.4,309.8 268.7,307.2" fill="#41a65e" stroke-width="0.67"/>
<polygon points="280.1,304.3 281.8,308.0 268.7,307.2 267.0,304.2" fill="#47a95e" stroke-width="0.69"/>
<polygon points="256.7,271.8 258.4,279.7 245.3,281.7 243.6,274.8" fill="#76c05a" stroke-width="0.75"/>
<polygon points="278.4,300.1 280.1,304.3 267.0,304.2 265.3,300.7" fill="#4fad5d" stroke-width="0.71"/>
<polygon points="255.0,262.5 256.7,271.8 243.6,274.8 241.9,266.8" fill="#85c758" stroke-width="0.75"/>
<polygon points="276.7,294.9 278.4,300.1 265.3,300.7 263.6,296.5" fill="#58b15c" stroke-width="0.75"/>
<polygon points="275.0,288.9 276.7,294.9 263.6,296.5 261.9,291.6" fill="#62b65c" stroke-width="0.75"/>
<polygon points="273.3,282.1 275.0,288.9 261.9,291.6 260.1,285.9" fill="#6ebc5b" stroke-width="0.75"/>
<polygon points="271.6,274.6 273.3,282.1 260.1,285.9 258.4,279.7" fill="#7ac259" stroke-width="0.75"/>
<polygon points="269.8,265.1 271.6,274.6 258.4,279.7 256.7,271.8" fill="#8ac958" stroke-width="0.75"/>
<polygon points="268.1,254.1 269.8,265.1 256.7,271.8 255.0,262.5" fill="#9cd156" stroke-width="0.75"/>
</g>
</g>
<g style="will-change:transform">
<text transform="translate(42.20,278.15) scale(1,1.050)" text-anchor="end" font-size="13.70">0</text>
<text transform="translate(42.20,244.98) scale(1,1.050)" text-anchor="end" font-size="13.70">1</text>
<text transform="translate(42.20,211.82) scale(1,1.050)" text-anchor="end" font-size="13.70">2</text>
<text transform="translate(42.20,178.65) scale(1,1.050)" text-anchor="end" font-size="13.70">3</text>
<text transform="translate(42.20,145.48) scale(1,1.050)" text-anchor="end" font-size="13.70">4</text>
<text transform="translate(42.20,112.32) scale(1,1.050)" text-anchor="end" font-size="13.70">5</text>
<text transform="translate(42.20,79.15) scale(1,1.050)" text-anchor="end" font-size="13.70">6</text>
<text transform="translate(238.70,386.40) scale(1,1.050)" text-anchor="end" font-size="13.70">1000</text>
<text transform="translate(173.03,355.10) scale(1,1.050)" text-anchor="end" font-size="13.70">2000</text>
<text transform="translate(107.37,325.10) scale(1,1.050)" text-anchor="end" font-size="13.70">3000</text>
<text transform="translate(41.70,295.10) scale(1,1.050)" text-anchor="end" font-size="13.70">4000</text>
<text transform="translate(262.30,387.60) scale(1,1.050)" text-anchor="start" font-size="13.70">0</text>
<text transform="translate(347.97,364.60) scale(1,1.050)" text-anchor="start" font-size="13.70">50</text>
<text transform="translate(434.63,341.60) scale(1,1.050)" text-anchor="start" font-size="13.70">100</text>
<text transform="translate(520.30,318.60) scale(1,1.050)" text-anchor="start" font-size="13.70">150</text>
<g stroke="#383838" stroke-width="0.9"><line x1="18.3" y1="53.4" x2="24.6" y2="59.6"/><line x1="24.6" y1="53.4" x2="18.3" y2="59.6"/></g>
<text transform="translate(27.60,60.00) scale(1,1.050)" text-anchor="start" font-size="14.30">10</text>
<text transform="translate(42.50,53.60) scale(1,1.050)" text-anchor="start" font-size="11.40">7</text>
<text transform="translate(9.00,386.30) scale(1,1.050)" text-anchor="start" font-size="15.50">Order size (number)</text>
<text transform="translate(362.30,391.80) scale(1,1.050)" text-anchor="start" font-size="15.50">Age bird (day)</text>
<text transform="translate(25.0,176.9) rotate(-90)" text-anchor="middle" font-size="16.30">Total cost ($)</text>
</g>
</svg>
</body></html>
